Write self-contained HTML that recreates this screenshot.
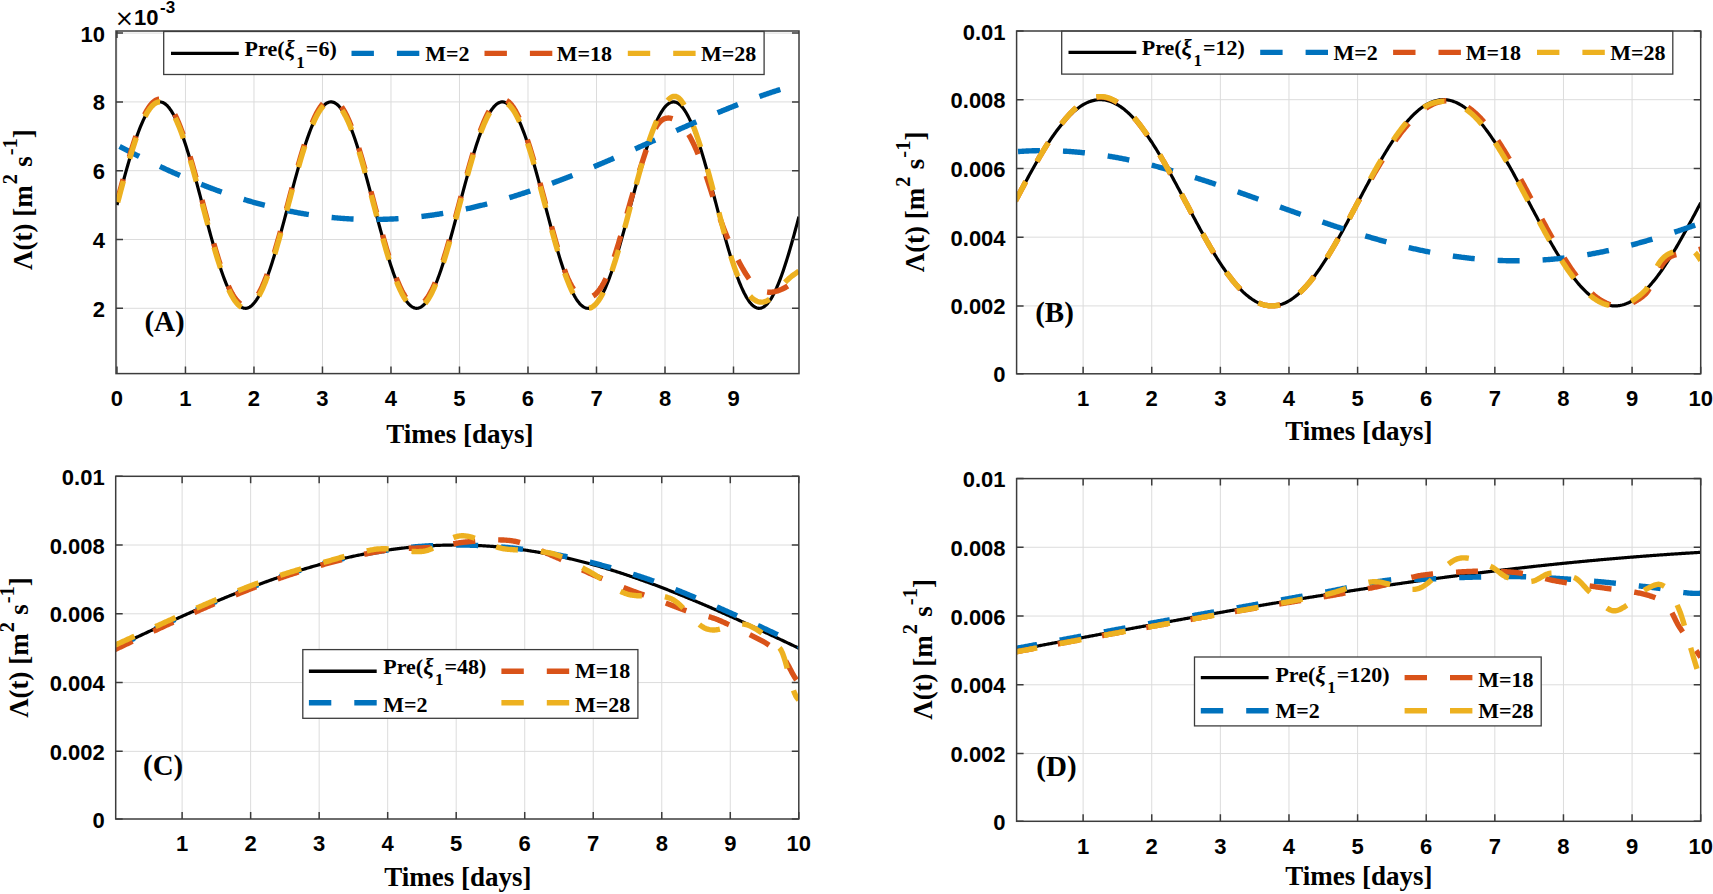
<!DOCTYPE html>
<html><head><meta charset="utf-8"><title>figure</title><style>
html,body{margin:0;padding:0;background:#fff;width:1713px;height:894px;overflow:hidden;}
svg{display:block;filter:none;}
.tk{font-family:"Liberation Sans",Arial,sans-serif;font-weight:bold;font-size:22px;fill:#000;}
.tim{font-family:"DejaVu Sans",sans-serif;font-weight:normal;font-size:23px;}
.sup2{font-size:17px;}
.lg{font-family:"Liberation Serif","Times New Roman",serif;font-weight:bold;font-size:22px;fill:#000;}
.xi{font-style:italic;font-weight:bold;font-size:23px;}
.sub{font-size:17px;}
.lb{font-family:"Liberation Serif","Times New Roman",serif;font-weight:bold;font-size:27px;fill:#000;}
.sup{font-size:20.5px;}
.pl{font-family:"Liberation Serif","Times New Roman",serif;font-weight:bold;font-size:29px;fill:#000;}
</style></head><body>
<svg width="1713" height="894" viewBox="0 0 1713 894">
<defs>
<clipPath id="clipA"><rect x="116.0" y="31.0" width="683.0" height="342.6"/></clipPath>
<clipPath id="clipB"><rect x="1016.6" y="31.0" width="684.1" height="342.8"/></clipPath>
<clipPath id="clipC"><rect x="115.7" y="476.3" width="683.0999999999999" height="342.7"/></clipPath>
<clipPath id="clipD"><rect x="1016.6" y="478.6" width="684.1" height="342.69999999999993"/></clipPath>
</defs>
<rect width="1713" height="894" fill="#fff"/>
<path d="M116.96 31.0V373.6M185.46 31.0V373.6M253.97 31.0V373.6M322.47 31.0V373.6M390.98 31.0V373.6M459.48 31.0V373.6M527.99 31.0V373.6M596.50 31.0V373.6M665.00 31.0V373.6M733.50 31.0V373.6M116.0 308.30H799.0M116.0 239.50H799.0M116.0 170.70H799.0M116.0 101.90H799.0M116.0 33.10H799.0" stroke="#dcdcdc" stroke-width="1" fill="none"/>
<polyline points="116.96,205.10 117.94,201.41 118.91,197.72 119.89,194.04 120.86,190.37 121.84,186.73 122.81,183.11 123.79,179.51 124.77,175.95 125.74,172.43 126.72,168.94 127.69,165.51 128.67,162.12 129.64,158.79 130.62,155.52 131.59,152.32 132.57,149.18 133.55,146.11 134.52,143.12 135.50,140.20 136.47,137.37 137.45,134.63 138.42,131.98 139.40,129.42 140.38,126.96 141.35,124.59 142.33,122.33 143.30,120.18 144.28,118.14 145.25,116.20 146.23,114.39 147.20,112.68 148.18,111.10 149.16,109.63 150.13,108.29 151.11,107.07 152.08,105.98 153.06,105.02 154.03,104.18 155.01,103.47 155.99,102.90 156.96,102.45 157.94,102.13 158.91,101.95 159.89,101.90 160.86,101.98 161.84,102.20 162.81,102.54 163.79,103.02 164.77,103.62 165.74,104.36 166.72,105.23 167.69,106.22 168.67,107.34 169.64,108.59 170.62,109.96 171.60,111.45 172.57,113.06 173.55,114.79 174.52,116.64 175.50,118.60 176.47,120.67 177.45,122.84 178.42,125.13 179.40,127.51 180.38,130.00 181.35,132.58 182.33,135.25 183.30,138.02 184.28,140.87 185.25,143.80 186.23,146.81 187.21,149.89 188.18,153.05 189.16,156.27 190.13,159.55 191.11,162.90 192.08,166.30 193.06,169.74 194.03,173.23 195.01,176.77 195.99,180.34 196.96,183.94 197.94,187.57 198.91,191.22 199.89,194.88 200.86,198.57 201.84,202.26 202.82,205.95 203.79,209.64 204.77,213.33 205.74,217.00 206.72,220.67 207.69,224.31 208.67,227.92 209.65,231.51 210.62,235.06 211.60,238.58 212.57,242.05 213.55,245.47 214.52,248.85 215.50,252.16 216.47,255.42 217.45,258.61 218.43,261.74 219.40,264.79 220.38,267.76 221.35,270.66 222.33,273.47 223.30,276.19 224.28,278.82 225.26,281.36 226.23,283.80 227.21,286.14 228.18,288.37 229.16,290.50 230.13,292.52 231.11,294.42 232.08,296.22 233.06,297.89 234.04,299.45 235.01,300.89 235.99,302.20 236.96,303.39 237.94,304.45 238.91,305.39 239.89,306.19 240.87,306.87 241.84,307.42 242.82,307.83 243.79,308.12 244.77,308.27 245.74,308.29 246.72,308.18 247.69,307.94 248.67,307.56 249.65,307.05 250.62,306.42 251.60,305.65 252.57,304.75 253.55,303.73 254.52,302.58 255.50,301.31 256.48,299.91 257.45,298.39 258.43,296.75 259.40,294.99 260.38,293.12 261.35,291.14 262.33,289.04 263.30,286.84 264.28,284.53 265.26,282.12 266.23,279.62 267.21,277.01 268.18,274.32 269.16,271.54 270.13,268.67 271.11,265.72 272.09,262.69 273.06,259.59 274.04,256.42 275.01,253.18 275.99,249.88 276.96,246.53 277.94,243.12 278.92,239.66 279.89,236.16 280.87,232.61 281.84,229.04 282.82,225.43 283.79,221.80 284.77,218.14 285.74,214.47 286.72,210.79 287.70,207.09 288.67,203.40 289.65,199.71 290.62,196.02 291.60,192.35 292.57,188.69 293.55,185.06 294.53,181.45 295.50,177.87 296.48,174.32 297.45,170.82 298.43,167.36 299.40,163.94 300.38,160.58 301.35,157.28 302.33,154.04 303.31,150.86 304.28,147.76 305.26,144.72 306.23,141.77 307.21,138.89 308.18,136.10 309.16,133.40 310.14,130.79 311.11,128.27 312.09,125.86 313.06,123.54 314.04,121.33 315.01,119.23 315.99,117.23 316.96,115.35 317.94,113.59 318.92,111.94 319.89,110.41 320.87,109.00 321.84,107.72 322.82,106.56 323.79,105.52 324.77,104.62 325.75,103.84 326.72,103.19 327.70,102.67 328.67,102.29 329.65,102.03 330.62,101.91 331.60,101.92 332.57,102.06 333.55,102.34 334.53,102.74 335.50,103.28 336.48,103.95 337.45,104.74 338.43,105.67 339.40,106.72 340.38,107.90 341.36,109.21 342.33,110.63 343.31,112.18 344.28,113.84 345.26,115.63 346.23,117.53 347.21,119.54 348.18,121.66 349.16,123.88 350.14,126.21 351.11,128.64 352.09,131.17 353.06,133.80 354.04,136.51 355.01,139.32 355.99,142.20 356.97,145.17 357.94,148.22 358.92,151.34 359.89,154.52 360.87,157.77 361.84,161.09 362.82,164.45 363.80,167.87 364.77,171.34 365.75,174.85 366.72,178.41 367.70,181.99 368.67,185.60 369.65,189.24 370.62,192.90 371.60,196.58 372.58,200.26 373.55,203.96 374.53,207.65 375.50,211.34 376.48,215.02 377.45,218.69 378.43,222.34 379.41,225.97 380.38,229.58 381.36,233.15 382.33,236.69 383.31,240.18 384.28,243.63 385.26,247.03 386.23,250.38 387.21,253.67 388.19,256.90 389.16,260.06 390.14,263.15 391.11,266.17 392.09,269.10 393.06,271.96 394.04,274.73 395.02,277.41 395.99,280.00 396.97,282.49 397.94,284.89 398.92,287.18 399.89,289.36 400.87,291.44 401.84,293.41 402.82,295.26 403.80,297.00 404.77,298.62 405.75,300.13 406.72,301.50 407.70,302.76 408.67,303.89 409.65,304.90 410.63,305.77 411.60,306.52 412.58,307.14 413.55,307.63 414.53,307.98 415.50,308.21 416.48,308.30 417.45,308.26 418.43,308.08 419.41,307.78 420.38,307.34 421.36,306.78 422.33,306.08 423.31,305.25 424.28,304.30 425.26,303.22 426.24,302.01 427.21,300.68 428.19,299.22 429.16,297.65 430.14,295.96 431.11,294.15 432.09,292.22 433.07,290.19 434.04,288.04 435.02,285.79 435.99,283.44 436.97,280.98 437.94,278.43 438.92,275.79 439.89,273.05 440.87,270.23 441.85,267.32 442.82,264.33 443.80,261.27 444.77,258.14 445.75,254.94 446.72,251.67 447.70,248.34 448.68,244.96 449.65,241.53 450.63,238.05 451.60,234.53 452.58,230.97 453.55,227.38 454.53,223.76 455.50,220.12 456.48,216.45 457.46,212.78 458.43,209.09 459.41,205.39 460.38,201.70 461.36,198.01 462.33,194.33 463.31,190.67 464.29,187.02 465.26,183.39 466.24,179.80 467.21,176.23 468.19,172.71 469.16,169.22 470.14,165.78 471.11,162.39 472.09,159.06 473.07,155.78 474.04,152.57 475.02,149.42 475.99,146.35 476.97,143.35 477.94,140.43 478.92,137.60 479.90,134.85 480.87,132.18 481.85,129.62 482.82,127.15 483.80,124.78 484.77,122.51 485.75,120.35 486.72,118.30 487.70,116.35 488.68,114.53 489.65,112.81 490.63,111.22 491.60,109.75 492.58,108.40 493.55,107.17 494.53,106.07 495.51,105.09 496.48,104.24 497.46,103.53 498.43,102.94 499.41,102.48 500.38,102.16 501.36,101.96 502.33,101.90 503.31,101.97 504.29,102.17 505.26,102.51 506.24,102.97 507.21,103.57 508.19,104.30 509.16,105.15 510.14,106.14 511.12,107.25 512.09,108.49 513.07,109.85 514.04,111.33 515.02,112.93 515.99,114.65 516.97,116.49 517.95,118.44 518.92,120.50 519.90,122.67 520.87,124.94 521.85,127.32 522.82,129.80 523.80,132.37 524.77,135.04 525.75,137.79 526.73,140.63 527.70,143.56 528.68,146.56 529.65,149.64 530.63,152.79 531.60,156.01 532.58,159.29 533.56,162.63 534.53,166.02 535.51,169.46 536.48,172.95 537.46,176.48 538.43,180.05 539.41,183.65 540.38,187.28 541.36,190.92 542.34,194.59 543.31,198.27 544.29,201.96 545.26,205.65 546.24,209.35 547.21,213.03 548.19,216.71 549.17,220.37 550.14,224.02 551.12,227.64 552.09,231.22 553.07,234.78 554.04,238.30 555.02,241.77 555.99,245.20 556.97,248.58 557.95,251.90 558.92,255.16 559.90,258.36 560.87,261.49 561.85,264.55 562.82,267.53 563.80,270.43 564.78,273.25 565.75,275.97 566.73,278.61 567.70,281.16 568.68,283.61 569.65,285.95 570.63,288.20 571.60,290.33 572.58,292.36 573.56,294.28 574.53,296.08 575.51,297.76 576.48,299.33 577.46,300.78 578.43,302.10 579.41,303.30 580.39,304.37 581.36,305.32 582.34,306.13 583.31,306.82 584.29,307.38 585.26,307.81 586.24,308.10 587.21,308.26 588.19,308.30 589.17,308.19 590.14,307.96 591.12,307.60 592.09,307.10 593.07,306.47 594.04,305.72 595.02,304.83 596.00,303.82 596.97,302.68 597.95,301.41 598.92,300.02 599.90,298.51 600.87,296.88 601.85,295.14 602.83,293.27 603.80,291.30 604.78,289.21 605.75,287.02 606.73,284.72 607.70,282.32 608.68,279.82 609.65,277.23 610.63,274.54 611.61,271.76 612.58,268.90 613.56,265.96 614.53,262.93 615.51,259.84 616.48,256.67 617.46,253.44 618.44,250.15 619.41,246.80 620.39,243.39 621.36,239.94 622.34,236.44 623.31,232.90 624.29,229.32 625.26,225.72 626.24,222.09 627.22,218.43 628.19,214.76 629.17,211.08 630.14,207.39 631.12,203.70 632.09,200.00 633.07,196.32 634.05,192.64 635.02,188.99 636.00,185.35 636.97,181.74 637.95,178.15 638.92,174.61 639.90,171.10 640.87,167.63 641.85,164.22 642.83,160.85 643.80,157.54 644.78,154.30 645.75,151.11 646.73,148.00 647.70,144.96 648.68,142.00 649.66,139.12 650.63,136.32 651.61,133.61 652.58,130.99 653.56,128.47 654.53,126.05 655.51,123.72 656.48,121.50 657.46,119.39 658.44,117.39 659.41,115.50 660.39,113.72 661.36,112.07 662.34,110.53 663.31,109.11 664.29,107.81 665.27,106.64 666.24,105.60 667.22,104.68 668.19,103.90 669.17,103.24 670.14,102.71 671.12,102.31 672.10,102.05 673.07,101.92 674.05,101.92 675.02,102.05 676.00,102.31 676.97,102.71 677.95,103.23 678.92,103.89 679.90,104.68 680.88,105.59 681.85,106.63 682.83,107.80 683.80,109.10 684.78,110.51 685.75,112.05 686.73,113.71 687.71,115.48 688.68,117.37 689.66,119.37 690.63,121.48 691.61,123.70 692.58,126.02 693.56,128.45 694.53,130.97 695.51,133.58 696.49,136.29 697.46,139.09 698.44,141.97 699.41,144.93 700.39,147.97 701.36,151.08 702.34,154.27 703.32,157.51 704.29,160.82 705.27,164.18 706.24,167.60 707.22,171.06 708.19,174.57 709.17,178.12 710.14,181.70 711.12,185.31 712.10,188.95 713.07,192.61 714.05,196.28 715.02,199.97 716.00,203.66 716.97,207.35 717.95,211.04 718.93,214.73 719.90,218.40 720.88,222.05 721.85,225.68 722.83,229.29 723.80,232.87 724.78,236.40 725.75,239.90 726.73,243.36 727.71,246.76 728.68,250.12 729.66,253.41 730.63,256.64 731.61,259.81 732.58,262.91 733.56,265.93 734.54,268.87 735.51,271.73 736.49,274.51 737.46,277.20 738.44,279.80 739.41,282.30 740.39,284.70 741.36,287.00 742.34,289.19 743.32,291.28 744.29,293.26 745.27,295.12 746.24,296.87 747.22,298.50 748.19,300.01 749.17,301.40 750.15,302.67 751.12,303.81 752.10,304.82 753.07,305.71 754.05,306.47 755.02,307.09 756.00,307.59 756.98,307.96 757.95,308.19 758.93,308.30 759.90,308.27 760.88,308.10 761.85,307.81 762.83,307.38 763.80,306.83 764.78,306.14 765.76,305.32 766.73,304.38 767.71,303.31 768.68,302.11 769.66,300.79 770.63,299.34 771.61,297.78 772.59,296.09 773.56,294.29 774.54,292.38 775.51,290.35 776.49,288.22 777.46,285.97 778.44,283.63 779.41,281.18 780.39,278.64 781.37,276.00 782.34,273.27 783.32,270.46 784.29,267.56 785.27,264.58 786.24,261.52 787.22,258.39 788.20,255.19 789.17,251.93 790.15,248.61 791.12,245.24 792.10,241.81 793.07,238.33 794.05,234.81 795.02,231.26 796.00,227.67 796.98,224.05 797.95,220.41 798.93,216.75" fill="none" stroke="#000" stroke-width="3.2" stroke-linejoin="round" clip-path="url(#clipA)"/>
<polyline points="116.96,145.05 117.94,145.57 118.91,146.08 119.89,146.58 120.86,147.09 121.84,147.60 122.81,148.10 123.79,148.61 124.77,149.11 125.74,149.62 126.72,150.12 127.69,150.62 128.67,151.12 129.64,151.61 130.62,152.11 131.59,152.61 132.57,153.10 133.55,153.59 134.52,154.09 135.50,154.58 136.47,155.07 137.45,155.56 138.42,156.04 139.40,156.53 140.38,157.01 141.35,157.50 142.33,157.98 143.30,158.46 144.28,158.94 145.25,159.42 146.23,159.90 147.20,160.37 148.18,160.85 149.16,161.32 150.13,161.79 151.11,162.26 152.08,162.73 153.06,163.20 154.03,163.66 155.01,164.13 155.99,164.59 156.96,165.05 157.94,165.51 158.91,165.97 159.89,166.43 160.86,166.89 161.84,167.34 162.81,167.79 163.79,168.24 164.77,168.69 165.74,169.14 166.72,169.59 167.69,170.03 168.67,170.48 169.64,170.92 170.62,171.36 171.60,171.80 172.57,172.24 173.55,172.67 174.52,173.11 175.50,173.54 176.47,173.97 177.45,174.40 178.42,174.83 179.40,175.26 180.38,175.68 181.35,176.10 182.33,176.53 183.30,176.95 184.28,177.36 185.25,177.78 186.23,178.19 187.21,178.61 188.18,179.02 189.16,179.43 190.13,179.84 191.11,180.24 192.08,180.65 193.06,181.05 194.03,181.45 195.01,181.85 195.99,182.24 196.96,182.64 197.94,183.03 198.91,183.43 199.89,183.82 200.86,184.20 201.84,184.59 202.82,184.97 203.79,185.36 204.77,185.74 205.74,186.12 206.72,186.49 207.69,186.87 208.67,187.24 209.65,187.61 210.62,187.98 211.60,188.35 212.57,188.72 213.55,189.08 214.52,189.44 215.50,189.80 216.47,190.16 217.45,190.52 218.43,190.87 219.40,191.22 220.38,191.57 221.35,191.92 222.33,192.27 223.30,192.61 224.28,192.96 225.26,193.30 226.23,193.64 227.21,193.97 228.18,194.31 229.16,194.64 230.13,194.97 231.11,195.30 232.08,195.62 233.06,195.95 234.04,196.27 235.01,196.59 235.99,196.91 236.96,197.23 237.94,197.54 238.91,197.85 239.89,198.16 240.87,198.47 241.84,198.78 242.82,199.08 243.79,199.38 244.77,199.68 245.74,199.98 246.72,200.27 247.69,200.57 248.67,200.86 249.65,201.15 250.62,201.43 251.60,201.72 252.57,202.00 253.55,202.28 254.52,202.56 255.50,202.84 256.48,203.11 257.45,203.38 258.43,203.65 259.40,203.92 260.38,204.19 261.35,204.45 262.33,204.71 263.30,204.97 264.28,205.23 265.26,205.48 266.23,205.73 267.21,205.98 268.18,206.23 269.16,206.48 270.13,206.72 271.11,206.96 272.09,207.20 273.06,207.44 274.04,207.67 275.01,207.90 275.99,208.13 276.96,208.36 277.94,208.59 278.92,208.81 279.89,209.03 280.87,209.25 281.84,209.47 282.82,209.68 283.79,209.89 284.77,210.10 285.74,210.31 286.72,210.52 287.70,210.72 288.67,210.92 289.65,211.12 290.62,211.31 291.60,211.51 292.57,211.70 293.55,211.89 294.53,212.08 295.50,212.26 296.48,212.44 297.45,212.62 298.43,212.80 299.40,212.98 300.38,213.15 301.35,213.32 302.33,213.49 303.31,213.66 304.28,213.82 305.26,213.98 306.23,214.14 307.21,214.30 308.18,214.45 309.16,214.61 310.14,214.76 311.11,214.90 312.09,215.05 313.06,215.19 314.04,215.33 315.01,215.47 315.99,215.61 316.96,215.74 317.94,215.87 318.92,216.00 319.89,216.13 320.87,216.25 321.84,216.37 322.82,216.49 323.79,216.61 324.77,216.73 325.75,216.84 326.72,216.95 327.70,217.06 328.67,217.16 329.65,217.27 330.62,217.37 331.60,217.47 332.57,217.56 333.55,217.66 334.53,217.75 335.50,217.84 336.48,217.92 337.45,218.01 338.43,218.09 339.40,218.17 340.38,218.25 341.36,218.32 342.33,218.39 343.31,218.46 344.28,218.53 345.26,218.60 346.23,218.66 347.21,218.72 348.18,218.78 349.16,218.84 350.14,218.89 351.11,218.94 352.09,218.99 353.06,219.04 354.04,219.08 355.01,219.12 355.99,219.16 356.97,219.20 357.94,219.23 358.92,219.27 359.89,219.30 360.87,219.32 361.84,219.35 362.82,219.37 363.80,219.39 364.77,219.41 365.75,219.43 366.72,219.44 367.70,219.45 368.67,219.46 369.65,219.47 370.62,219.47 371.60,219.47 372.58,219.47 373.55,219.47 374.53,219.47 375.50,219.46 376.48,219.45 377.45,219.44 378.43,219.42 379.41,219.41 380.38,219.39 381.36,219.37 382.33,219.34 383.31,219.32 384.28,219.29 385.26,219.26 386.23,219.22 387.21,219.19 388.19,219.15 389.16,219.11 390.14,219.07 391.11,219.02 392.09,218.98 393.06,218.93 394.04,218.88 395.02,218.82 395.99,218.77 396.97,218.71 397.94,218.65 398.92,218.59 399.89,218.52 400.87,218.45 401.84,218.38 402.82,218.31 403.80,218.24 404.77,218.16 405.75,218.08 406.72,218.00 407.70,217.92 408.67,217.83 409.65,217.74 410.63,217.65 411.60,217.56 412.58,217.47 413.55,217.37 414.53,217.27 415.50,217.17 416.48,217.06 417.45,216.96 418.43,216.85 419.41,216.74 420.38,216.63 421.36,216.51 422.33,216.40 423.31,216.28 424.28,216.15 425.26,216.03 426.24,215.91 427.21,215.78 428.19,215.65 429.16,215.51 430.14,215.38 431.11,215.24 432.09,215.10 433.07,214.96 434.04,214.82 435.02,214.67 435.99,214.53 436.97,214.38 437.94,214.23 438.92,214.07 439.89,213.92 440.87,213.76 441.85,213.60 442.82,213.43 443.80,213.27 444.77,213.10 445.75,212.93 446.72,212.76 447.70,212.59 448.68,212.41 449.65,212.24 450.63,212.06 451.60,211.88 452.58,211.69 453.55,211.51 454.53,211.32 455.50,211.13 456.48,210.94 457.46,210.74 458.43,210.55 459.41,210.35 460.38,210.15 461.36,209.95 462.33,209.74 463.31,209.54 464.29,209.33 465.26,209.12 466.24,208.91 467.21,208.69 468.19,208.48 469.16,208.26 470.14,208.04 471.11,207.82 472.09,207.60 473.07,207.37 474.04,207.14 475.02,206.91 475.99,206.68 476.97,206.45 477.94,206.21 478.92,205.97 479.90,205.73 480.87,205.49 481.85,205.25 482.82,205.00 483.80,204.76 484.77,204.51 485.75,204.26 486.72,204.01 487.70,203.75 488.68,203.49 489.65,203.24 490.63,202.98 491.60,202.71 492.58,202.45 493.55,202.19 494.53,201.92 495.51,201.65 496.48,201.38 497.46,201.11 498.43,200.83 499.41,200.56 500.38,200.28 501.36,200.00 502.33,199.72 503.31,199.43 504.29,199.15 505.26,198.86 506.24,198.57 507.21,198.28 508.19,197.99 509.16,197.70 510.14,197.40 511.12,197.10 512.09,196.81 513.07,196.51 514.04,196.20 515.02,195.90 515.99,195.59 516.97,195.29 517.95,194.98 518.92,194.67 519.90,194.36 520.87,194.04 521.85,193.73 522.82,193.41 523.80,193.09 524.77,192.78 525.75,192.45 526.73,192.13 527.70,191.81 528.68,191.48 529.65,191.15 530.63,190.82 531.60,190.49 532.58,190.16 533.56,189.83 534.53,189.49 535.51,189.16 536.48,188.82 537.46,188.48 538.43,188.14 539.41,187.80 540.38,187.45 541.36,187.11 542.34,186.76 543.31,186.41 544.29,186.07 545.26,185.72 546.24,185.36 547.21,185.01 548.19,184.66 549.17,184.30 550.14,183.94 551.12,183.58 552.09,183.22 553.07,182.86 554.04,182.50 555.02,182.14 555.99,181.77 556.97,181.40 557.95,181.04 558.92,180.67 559.90,180.30 560.87,179.93 561.85,179.55 562.82,179.18 563.80,178.80 564.78,178.43 565.75,178.05 566.73,177.67 567.70,177.29 568.68,176.91 569.65,176.53 570.63,176.15 571.60,175.76 572.58,175.38 573.56,174.99 574.53,174.60 575.51,174.22 576.48,173.83 577.46,173.44 578.43,173.04 579.41,172.65 580.39,172.26 581.36,171.86 582.34,171.47 583.31,171.07 584.29,170.67 585.26,170.27 586.24,169.88 587.21,169.47 588.19,169.07 589.17,168.67 590.14,168.27 591.12,167.86 592.09,167.46 593.07,167.05 594.04,166.65 595.02,166.24 596.00,165.83 596.97,165.42 597.95,165.01 598.92,164.60 599.90,164.19 600.87,163.78 601.85,163.36 602.83,162.95 603.80,162.54 604.78,162.12 605.75,161.71 606.73,161.29 607.70,160.87 608.68,160.45 609.65,160.03 610.63,159.62 611.61,159.20 612.58,158.77 613.56,158.35 614.53,157.93 615.51,157.51 616.48,157.09 617.46,156.66 618.44,156.24 619.41,155.81 620.39,155.39 621.36,154.96 622.34,154.54 623.31,154.11 624.29,153.68 625.26,153.26 626.24,152.83 627.22,152.40 628.19,151.97 629.17,151.54 630.14,151.11 631.12,150.68 632.09,150.25 633.07,149.82 634.05,149.39 635.02,148.96 636.00,148.53 636.97,148.09 637.95,147.66 638.92,147.23 639.90,146.80 640.87,146.36 641.85,145.93 642.83,145.50 643.80,145.06 644.78,144.63 645.75,144.20 646.73,143.76 647.70,143.33 648.68,142.89 649.66,142.46 650.63,142.02 651.61,141.59 652.58,141.15 653.56,140.72 654.53,140.28 655.51,139.85 656.48,139.41 657.46,138.98 658.44,138.54 659.41,138.11 660.39,137.67 661.36,137.24 662.34,136.80 663.31,136.37 664.29,135.93 665.27,135.50 666.24,135.06 667.22,134.63 668.19,134.20 669.17,133.76 670.14,133.33 671.12,132.89 672.10,132.46 673.07,132.03 674.05,131.59 675.02,131.16 676.00,130.73 676.97,130.30 677.95,129.86 678.92,129.43 679.90,129.00 680.88,128.57 681.85,128.14 682.83,127.71 683.80,127.28 684.78,126.85 685.75,126.42 686.73,125.99 687.71,125.57 688.68,125.14 689.66,124.71 690.63,124.29 691.61,123.86 692.58,123.43 693.56,123.01 694.53,122.59 695.51,122.16 696.49,121.74 697.46,121.32 698.44,120.89 699.41,120.47 700.39,120.05 701.36,119.63 702.34,119.21 703.32,118.80 704.29,118.38 705.27,117.96 706.24,117.54 707.22,117.13 708.19,116.71 709.17,116.30 710.14,115.89 711.12,115.48 712.10,115.06 713.07,114.65 714.05,114.25 715.02,113.84 716.00,113.43 716.97,113.02 717.95,112.62 718.93,112.21 719.90,111.81 720.88,111.41 721.85,111.00 722.83,110.60 723.80,110.20 724.78,109.81 725.75,109.41 726.73,109.01 727.71,108.62 728.68,108.22 729.66,107.83 730.63,107.44 731.61,107.05 732.58,106.66 733.56,106.27 734.54,105.89 735.51,105.50 736.49,105.12 737.46,104.73 738.44,104.35 739.41,103.97 740.39,103.59 741.36,103.22 742.34,102.84 743.32,102.47 744.29,102.09 745.27,101.72 746.24,101.35 747.22,100.98 748.19,100.62 749.17,100.25 750.15,99.89 751.12,99.53 752.10,99.16 753.07,98.81 754.05,98.45 755.02,98.09 756.00,97.74 756.98,97.39 757.95,97.03 758.93,96.69 759.90,96.34 760.88,95.99 761.85,95.65 762.83,95.31 763.80,94.97 764.78,94.63 765.76,94.29 766.73,93.96 767.71,93.62 768.68,93.29 769.66,92.96 770.63,92.64 771.61,92.31 772.59,91.99 773.56,91.67 774.54,91.35 775.51,91.03 776.49,90.72 777.46,90.40 778.44,90.09 779.41,89.78 780.39,89.48 781.37,89.17 782.34,88.87 783.32,88.57 784.29,88.27 785.27,87.98 786.24,87.68 787.22,87.39 788.20,87.10 789.17,86.82 790.15,86.53 791.12,86.25 792.10,85.97 793.07,85.70 794.05,85.42 795.02,85.15 796.00,84.88 796.98,84.61 797.95,84.35 798.93,84.09" fill="none" stroke="#0072BD" stroke-width="5.4" stroke-linejoin="round" stroke-dasharray="22 23" stroke-dashoffset="-3" clip-path="url(#clipA)"/>
<polyline points="116.96,202.35 117.94,198.65 118.91,194.97 119.89,191.29 120.86,187.62 121.84,183.98 122.81,180.35 123.79,176.76 124.77,173.20 125.74,169.68 126.72,166.19 127.69,162.76 128.67,159.37 129.64,156.04 130.62,152.77 131.59,149.56 132.57,146.42 133.55,143.36 134.52,140.36 135.50,137.45 136.47,134.62 137.45,131.88 138.42,129.22 139.40,126.67 140.38,124.20 141.35,121.84 142.33,119.58 143.30,117.43 144.28,115.38 145.25,113.45 146.23,111.63 147.20,109.93 148.18,108.35 149.16,106.88 150.13,105.54 151.11,104.32 152.08,103.23 153.06,102.27 154.03,101.43 155.01,100.72 155.99,100.14 156.96,99.70 157.94,99.38 158.91,99.20 159.89,99.15 160.86,99.23 161.84,99.44 162.81,99.79 163.79,100.27 164.77,100.87 165.74,101.61 166.72,102.48 167.69,103.47 168.67,104.59 169.64,105.84 170.62,107.21 171.60,108.70 172.57,110.31 173.55,112.04 174.52,113.89 175.50,115.85 176.47,117.91 177.45,120.09 178.42,122.38 179.40,124.76 180.38,127.25 181.35,129.83 182.33,132.50 183.30,135.26 184.28,138.11 185.25,141.04 186.23,144.06 187.21,147.14 188.18,150.30 189.16,153.52 190.13,156.80 191.11,160.15 192.08,163.54 193.06,166.99 194.03,170.48 195.01,174.02 195.99,177.58 196.96,181.19 197.94,184.81 198.91,188.46 199.89,192.13 200.86,195.81 201.84,199.50 202.82,203.20 203.79,206.89 204.77,210.58 205.74,214.25 206.72,217.91 207.69,221.55 208.67,225.17 209.65,228.76 210.62,232.31 211.60,235.83 212.57,239.30 213.55,242.72 214.52,246.10 215.50,249.41 216.47,252.67 217.45,255.86 218.43,258.98 219.40,262.04 220.38,265.01 221.35,267.90 222.33,270.71 223.30,273.44 224.28,276.07 225.26,278.61 226.23,281.05 227.21,283.38 228.18,285.62 229.16,287.75 230.13,289.77 231.11,291.67 232.08,293.46 233.06,295.14 234.04,296.70 235.01,298.13 235.99,299.45 236.96,300.64 237.94,301.70 238.91,302.63 239.89,303.44 240.87,304.12 241.84,304.67 242.82,305.08 243.79,305.37 244.77,305.52 245.74,305.54 246.72,305.43 247.69,305.18 248.67,304.81 249.65,304.30 250.62,303.67 251.60,302.90 252.57,302.00 253.55,300.98 254.52,299.83 255.50,298.55 256.48,297.16 257.45,295.64 258.43,294.00 259.40,292.24 260.38,290.37 261.35,288.38 262.33,286.29 263.30,284.09 264.28,281.78 265.26,279.37 266.23,276.87 267.21,274.26 268.18,271.57 269.16,268.78 270.13,265.92 271.11,262.97 272.09,259.94 273.06,256.84 274.04,253.66 275.01,250.43 275.99,247.13 276.96,243.77 277.94,240.36 278.92,236.91 279.89,233.40 280.87,229.86 281.84,226.29 282.82,222.68 283.79,219.04 284.77,215.39 285.74,211.72 286.72,208.03 287.70,204.34 288.67,200.65 289.65,196.96 290.62,193.27 291.60,189.60 292.57,185.94 293.55,182.31 294.53,178.70 295.50,175.12 296.48,171.57 297.45,168.07 298.43,164.61 299.40,161.19 300.38,157.83 301.35,154.53 302.33,151.29 303.31,148.11 304.28,145.00 305.26,141.97 306.23,139.01 307.21,136.14 308.18,133.35 309.16,130.65 310.14,128.04 311.11,125.52 312.09,123.10 313.06,120.79 314.04,118.58 315.01,116.47 315.99,114.48 316.96,112.60 317.94,110.84 318.92,109.19 319.89,107.66 320.87,106.25 321.84,104.96 322.82,103.80 323.79,102.77 324.77,101.86 325.75,101.09 326.72,100.44 327.70,99.92 328.67,99.54 329.65,99.28 330.62,99.16 331.60,99.17 332.57,99.31 333.55,99.59 334.53,99.99 335.50,100.53 336.48,101.20 337.45,101.99 338.43,102.92 339.40,103.97 340.38,105.15 341.36,106.45 342.33,107.88 343.31,109.43 344.28,111.09 345.26,112.88 346.23,114.77 347.21,116.78 348.18,118.90 349.16,121.13 350.14,123.46 351.11,125.89 352.09,128.42 353.06,131.05 354.04,133.76 355.01,136.56 355.99,139.45 356.97,142.42 357.94,145.47 358.92,148.58 359.89,151.77 360.87,155.02 361.84,158.33 362.82,161.70 363.80,165.12 364.77,168.59 365.75,172.10 366.72,175.65 367.70,179.24 368.67,182.85 369.65,186.49 370.62,190.15 371.60,193.83 372.58,197.51 373.55,201.20 374.53,204.90 375.50,208.59 376.48,212.27 377.45,215.94 378.43,219.59 379.41,223.22 380.38,226.82 381.36,230.40 382.33,233.93 383.31,237.43 384.28,240.88 385.26,244.28 386.23,247.63 387.21,250.92 388.19,254.15 389.16,257.31 390.14,260.40 391.11,263.41 392.09,266.35 393.06,269.21 394.04,271.98 395.02,274.66 395.99,277.25 396.97,279.74 397.94,282.13 398.92,284.43 399.89,286.61 400.87,288.69 401.84,290.66 402.82,292.51 403.80,294.25 404.77,295.87 405.75,297.37 406.72,298.75 407.70,300.01 408.67,301.14 409.65,302.14 410.63,303.02 411.60,303.77 412.58,304.39 413.55,304.87 414.53,305.23 415.50,305.45 416.48,305.55 417.45,305.51 418.43,305.33 419.41,305.03 420.38,304.59 421.36,304.03 422.33,303.33 423.31,302.50 424.28,301.55 425.26,300.46 426.24,299.26 427.21,297.93 428.19,296.47 429.16,294.90 430.14,293.20 431.11,291.39 432.09,289.47 433.07,287.43 434.04,285.29 435.02,283.04 435.99,280.69 436.97,278.23 437.94,275.68 438.92,273.03 439.89,270.30 440.87,267.47 441.85,264.57 442.82,261.58 443.80,258.52 444.77,255.39 445.75,252.18 446.72,248.92 447.70,245.59 448.68,242.21 449.65,238.78 450.63,235.30 451.60,231.78 452.58,228.22 453.55,224.63 454.53,221.01 455.50,217.37 456.48,213.70 457.46,210.02 458.43,206.34 459.41,202.64 460.38,198.95 461.36,195.26 462.33,191.58 463.31,187.91 464.29,184.27 465.26,180.64 466.24,177.05 467.21,173.48 468.19,169.95 469.16,166.47 470.14,163.03 471.11,159.64 472.09,156.31 473.07,153.03 474.04,149.82 475.02,146.67 475.99,143.60 476.97,140.60 477.94,137.68 478.92,134.84 479.90,132.09 480.87,129.43 481.85,126.87 482.82,124.40 483.80,122.03 484.77,119.76 485.75,117.60 486.72,115.54 487.70,113.60 488.68,111.77 489.65,110.06 490.63,108.47 491.60,106.99 492.58,105.64 493.55,104.42 494.53,103.31 495.51,102.34 496.48,101.49 497.46,100.77 498.43,100.19 499.41,99.73 500.38,99.40 501.36,99.21 502.33,99.15 503.31,99.22 504.29,99.42 505.26,99.76 506.24,100.22 507.21,100.82 508.19,101.55 509.16,102.40 510.14,103.39 511.12,104.50 512.09,105.73 513.07,107.09 514.04,108.58 515.02,110.18 515.99,111.90 516.97,113.74 517.95,115.68 518.92,117.75 519.90,119.91 520.87,122.19 521.85,124.57 522.82,127.04 523.80,129.62 524.77,132.28 525.75,135.04 526.73,137.88 527.70,140.81 528.68,143.81 529.65,146.89 530.63,150.04 531.60,153.26 532.58,156.54 533.56,159.88 534.53,163.27 535.51,166.71 536.48,170.20 537.46,173.73 538.43,177.30 539.41,180.90 540.38,184.52 541.36,188.17 542.34,191.84 543.31,195.52 544.29,199.21 545.26,202.90 546.24,206.60 547.21,210.28 548.19,213.96 549.17,217.62 550.14,221.26 551.12,224.88 552.09,228.47 553.07,232.03 554.04,235.55 555.02,239.02 555.99,242.45 556.97,245.83 557.95,249.15 558.92,252.41 559.90,255.61 560.87,258.74 561.85,261.79 562.82,264.78 563.80,267.68 564.78,270.49 565.75,273.21 566.73,275.69 567.70,278.02 568.68,280.20 569.65,282.24 570.63,284.14 571.60,285.90 572.58,287.53 573.56,289.02 574.53,290.39 575.51,291.63 576.48,292.76 577.46,293.76 578.43,294.65 579.41,295.42 580.39,296.09 581.36,296.65 582.34,297.11 583.31,297.47 584.29,297.73 585.26,297.90 586.24,297.98 587.21,297.97 588.19,297.87 589.17,297.68 590.14,297.40 591.12,297.02 592.09,296.55 593.07,295.98 594.04,295.31 595.02,294.53 596.00,293.65 596.97,292.67 597.95,291.58 598.92,290.38 599.90,289.07 600.87,287.64 601.85,286.11 602.83,284.46 603.80,282.70 604.78,280.83 605.75,278.85 606.73,276.76 607.70,274.56 608.68,272.25 609.65,269.84 610.63,267.32 611.61,264.69 612.58,261.95 613.56,259.12 614.53,256.19 615.51,253.17 616.48,250.07 617.46,246.91 618.44,243.67 619.41,240.39 620.39,237.05 621.36,233.67 622.34,230.26 623.31,226.83 624.29,223.38 625.26,219.92 626.24,216.46 627.22,213.01 628.19,209.56 629.17,206.12 630.14,202.69 631.12,199.28 632.09,195.89 633.07,192.51 634.05,189.16 635.02,185.83 636.00,182.52 636.97,179.25 637.95,176.00 638.92,172.79 639.90,169.61 640.87,166.47 641.85,163.37 642.83,160.32 643.80,157.31 644.78,154.36 645.75,151.48 646.73,148.68 647.70,145.95 648.68,143.32 649.66,140.78 650.63,138.34 651.61,136.02 652.58,133.82 653.56,131.74 654.53,129.80 655.51,128.01 656.48,126.36 657.46,124.87 658.44,123.54 659.41,122.39 660.39,121.39 661.36,120.54 662.34,119.84 663.31,119.26 664.29,118.81 665.27,118.47 666.24,118.24 667.22,118.10 668.19,118.05 669.17,118.07 670.14,118.17 671.12,118.33 672.10,118.57 673.07,118.87 674.05,119.25 675.02,119.71 676.00,120.24 676.97,120.85 677.95,121.54 678.92,122.31 679.90,123.16 680.88,124.09 681.85,125.11 682.83,126.21 683.80,127.39 684.78,128.67 685.75,130.03 686.73,131.47 687.71,133.00 688.68,134.60 689.66,136.29 690.63,138.06 691.61,139.91 692.58,141.84 693.56,143.84 694.53,145.91 695.51,148.06 696.49,150.28 697.46,152.58 698.44,154.94 699.41,157.37 700.39,159.87 701.36,162.44 702.34,165.07 703.32,167.77 704.29,170.53 705.27,173.35 706.24,176.23 707.22,179.17 708.19,182.15 709.17,185.16 710.14,188.20 711.12,191.26 712.10,194.33 713.07,197.39 714.05,200.45 715.02,203.49 716.00,206.50 716.97,209.48 717.95,212.41 718.93,215.29 719.90,218.10 720.88,220.85 721.85,223.53 722.83,226.14 723.80,228.69 724.78,231.18 725.75,233.61 726.73,235.98 727.71,238.30 728.68,240.56 729.66,242.78 730.63,244.94 731.61,247.06 732.58,249.14 733.56,251.18 734.54,253.18 735.51,255.14 736.49,257.07 737.46,258.96 738.44,260.83 739.41,262.66 740.39,264.47 741.36,266.25 742.34,267.99 743.32,269.70 744.29,271.36 745.27,272.98 746.24,274.55 747.22,276.06 748.19,277.52 749.17,278.92 750.15,280.26 751.12,281.53 752.10,282.73 753.07,283.85 754.05,284.90 755.02,285.87 756.00,286.76 756.98,287.57 757.95,288.31 758.93,288.98 759.90,289.58 760.88,290.11 761.85,290.57 762.83,290.97 763.80,291.32 764.78,291.60 765.76,291.83 766.73,292.00 767.71,292.13 768.68,292.20 769.66,292.23 770.63,292.21 771.61,292.15 772.59,292.04 773.56,291.89 774.54,291.70 775.51,291.48 776.49,291.22 777.46,290.92 778.44,290.59 779.41,290.23 780.39,289.84 781.37,289.42 782.34,288.97 783.32,288.50 784.29,288.01 785.27,287.49 786.24,286.95 787.22,286.39 788.20,285.81 789.17,285.22 790.15,284.61 791.12,283.99 792.10,283.36 793.07,282.71 794.05,282.06 795.02,281.40 796.00,280.74 796.98,280.06 797.95,279.39 798.93,278.72" fill="none" stroke="#D95319" stroke-width="5.4" stroke-linejoin="round" stroke-dasharray="22 23" stroke-dashoffset="-2" clip-path="url(#clipA)"/>
<polyline points="116.96,205.10 117.94,201.41 118.91,197.72 119.89,194.04 120.86,190.37 121.84,186.73 122.81,183.11 123.79,179.51 124.77,175.95 125.74,172.43 126.72,168.94 127.69,165.51 128.67,162.12 129.64,158.79 130.62,155.52 131.59,152.32 132.57,149.18 133.55,146.11 134.52,143.12 135.50,140.20 136.47,137.37 137.45,134.63 138.42,131.98 139.40,129.42 140.38,126.96 141.35,124.59 142.33,122.33 143.30,120.18 144.28,118.14 145.25,116.20 146.23,114.39 147.20,112.68 148.18,111.10 149.16,109.63 150.13,108.29 151.11,107.07 152.08,105.98 153.06,105.02 154.03,104.18 155.01,103.47 155.99,102.90 156.96,102.45 157.94,102.13 158.91,101.95 159.89,101.90 160.86,101.98 161.84,102.20 162.81,102.54 163.79,103.02 164.77,103.62 165.74,104.36 166.72,105.23 167.69,106.22 168.67,107.34 169.64,108.59 170.62,109.96 171.60,111.45 172.57,113.06 173.55,114.79 174.52,116.64 175.50,118.60 176.47,120.67 177.45,122.84 178.42,125.13 179.40,127.51 180.38,130.00 181.35,132.58 182.33,135.25 183.30,138.02 184.28,140.87 185.25,143.80 186.23,146.81 187.21,149.89 188.18,153.05 189.16,156.27 190.13,159.55 191.11,162.90 192.08,166.30 193.06,169.74 194.03,173.23 195.01,176.77 195.99,180.34 196.96,183.94 197.94,187.57 198.91,191.22 199.89,194.88 200.86,198.57 201.84,202.26 202.82,205.95 203.79,209.64 204.77,213.33 205.74,217.00 206.72,220.67 207.69,224.31 208.67,227.92 209.65,231.51 210.62,235.06 211.60,238.58 212.57,242.05 213.55,245.47 214.52,248.85 215.50,252.16 216.47,255.42 217.45,258.61 218.43,261.74 219.40,264.79 220.38,267.76 221.35,270.66 222.33,273.47 223.30,276.19 224.28,278.82 225.26,281.36 226.23,283.80 227.21,286.14 228.18,288.37 229.16,290.50 230.13,292.52 231.11,294.42 232.08,296.22 233.06,297.89 234.04,299.45 235.01,300.89 235.99,302.20 236.96,303.39 237.94,304.45 238.91,305.39 239.89,306.19 240.87,306.87 241.84,307.42 242.82,307.83 243.79,308.12 244.77,308.27 245.74,308.29 246.72,308.18 247.69,307.94 248.67,307.56 249.65,307.05 250.62,306.42 251.60,305.65 252.57,304.75 253.55,303.73 254.52,302.58 255.50,301.31 256.48,299.91 257.45,298.39 258.43,296.75 259.40,294.99 260.38,293.12 261.35,291.14 262.33,289.04 263.30,286.84 264.28,284.53 265.26,282.12 266.23,279.62 267.21,277.01 268.18,274.32 269.16,271.54 270.13,268.67 271.11,265.72 272.09,262.69 273.06,259.59 274.04,256.42 275.01,253.18 275.99,249.88 276.96,246.53 277.94,243.12 278.92,239.66 279.89,236.16 280.87,232.61 281.84,229.04 282.82,225.43 283.79,221.80 284.77,218.14 285.74,214.47 286.72,210.79 287.70,207.09 288.67,203.40 289.65,199.71 290.62,196.02 291.60,192.35 292.57,188.69 293.55,185.06 294.53,181.45 295.50,177.87 296.48,174.32 297.45,170.82 298.43,167.36 299.40,163.94 300.38,160.58 301.35,157.28 302.33,154.04 303.31,150.86 304.28,147.76 305.26,144.72 306.23,141.77 307.21,138.89 308.18,136.10 309.16,133.40 310.14,130.79 311.11,128.27 312.09,125.86 313.06,123.54 314.04,121.33 315.01,119.23 315.99,117.23 316.96,115.35 317.94,113.59 318.92,111.94 319.89,110.41 320.87,109.00 321.84,107.72 322.82,106.56 323.79,105.52 324.77,104.62 325.75,103.84 326.72,103.19 327.70,102.67 328.67,102.29 329.65,102.03 330.62,101.91 331.60,101.92 332.57,102.06 333.55,102.34 334.53,102.74 335.50,103.28 336.48,103.95 337.45,104.74 338.43,105.67 339.40,106.72 340.38,107.90 341.36,109.21 342.33,110.63 343.31,112.18 344.28,113.84 345.26,115.63 346.23,117.53 347.21,119.54 348.18,121.66 349.16,123.88 350.14,126.21 351.11,128.64 352.09,131.17 353.06,133.80 354.04,136.51 355.01,139.32 355.99,142.20 356.97,145.17 357.94,148.22 358.92,151.34 359.89,154.52 360.87,157.77 361.84,161.09 362.82,164.45 363.80,167.87 364.77,171.34 365.75,174.85 366.72,178.41 367.70,181.99 368.67,185.60 369.65,189.24 370.62,192.90 371.60,196.58 372.58,200.26 373.55,203.96 374.53,207.65 375.50,211.34 376.48,215.02 377.45,218.69 378.43,222.34 379.41,225.97 380.38,229.58 381.36,233.15 382.33,236.69 383.31,240.18 384.28,243.63 385.26,247.03 386.23,250.38 387.21,253.67 388.19,256.90 389.16,260.06 390.14,263.15 391.11,266.17 392.09,269.10 393.06,271.96 394.04,274.73 395.02,277.41 395.99,280.00 396.97,282.49 397.94,284.89 398.92,287.18 399.89,289.36 400.87,291.44 401.84,293.41 402.82,295.26 403.80,297.00 404.77,298.62 405.75,300.13 406.72,301.50 407.70,302.76 408.67,303.89 409.65,304.90 410.63,305.77 411.60,306.52 412.58,307.14 413.55,307.63 414.53,307.98 415.50,308.21 416.48,308.30 417.45,308.26 418.43,308.08 419.41,307.78 420.38,307.34 421.36,306.78 422.33,306.08 423.31,305.25 424.28,304.30 425.26,303.22 426.24,302.01 427.21,300.68 428.19,299.22 429.16,297.65 430.14,295.96 431.11,294.15 432.09,292.22 433.07,290.19 434.04,288.04 435.02,285.79 435.99,283.44 436.97,280.98 437.94,278.43 438.92,275.79 439.89,273.05 440.87,270.23 441.85,267.32 442.82,264.33 443.80,261.27 444.77,258.14 445.75,254.94 446.72,251.67 447.70,248.34 448.68,244.96 449.65,241.53 450.63,238.05 451.60,234.53 452.58,230.97 453.55,227.38 454.53,223.76 455.50,220.12 456.48,216.45 457.46,212.78 458.43,209.09 459.41,205.39 460.38,201.70 461.36,198.01 462.33,194.33 463.31,190.67 464.29,187.02 465.26,183.39 466.24,179.80 467.21,176.23 468.19,172.71 469.16,169.22 470.14,165.78 471.11,162.39 472.09,159.06 473.07,155.78 474.04,152.57 475.02,149.42 475.99,146.35 476.97,143.35 477.94,140.43 478.92,137.60 479.90,134.85 480.87,132.18 481.85,129.62 482.82,127.15 483.80,124.78 484.77,122.51 485.75,120.35 486.72,118.30 487.70,116.35 488.68,114.53 489.65,112.81 490.63,111.22 491.60,109.75 492.58,108.40 493.55,107.17 494.53,106.07 495.51,105.09 496.48,104.24 497.46,103.53 498.43,102.94 499.41,102.48 500.38,102.16 501.36,101.96 502.33,101.90 503.31,101.97 504.29,102.17 505.26,102.51 506.24,102.97 507.21,103.57 508.19,104.30 509.16,105.15 510.14,106.14 511.12,107.25 512.09,108.49 513.07,109.85 514.04,111.33 515.02,112.93 515.99,114.65 516.97,116.49 517.95,118.44 518.92,120.50 519.90,122.67 520.87,124.94 521.85,127.32 522.82,129.80 523.80,132.37 524.77,135.04 525.75,137.79 526.73,140.63 527.70,143.56 528.68,146.56 529.65,149.64 530.63,152.79 531.60,156.01 532.58,159.29 533.56,162.63 534.53,166.02 535.51,169.46 536.48,172.95 537.46,176.48 538.43,180.05 539.41,183.65 540.38,187.28 541.36,190.92 542.34,194.59 543.31,198.27 544.29,201.96 545.26,205.65 546.24,209.35 547.21,213.03 548.19,216.71 549.17,220.37 550.14,224.02 551.12,227.64 552.09,231.22 553.07,234.78 554.04,238.30 555.02,241.77 555.99,245.20 556.97,248.58 557.95,251.90 558.92,255.16 559.90,258.36 560.87,261.49 561.85,264.55 562.82,267.53 563.80,270.43 564.78,273.25 565.75,275.97 566.73,278.61 567.70,281.16 568.68,283.61 569.65,285.95 570.63,288.20 571.60,290.33 572.58,292.36 573.56,294.28 574.53,296.08 575.51,297.76 576.48,299.33 577.46,300.78 578.43,302.10 579.41,303.30 580.39,304.37 581.36,305.32 582.34,306.13 583.31,306.82 584.29,307.38 585.26,307.81 586.24,308.10 587.21,308.26 588.19,308.30 589.17,308.19 590.14,307.96 591.12,307.60 592.09,307.10 593.07,306.47 594.04,305.72 595.02,304.83 596.00,303.82 596.97,302.68 597.95,301.41 598.92,300.02 599.90,298.51 600.87,296.88 601.85,295.14 602.83,293.27 603.80,291.30 604.78,289.21 605.75,287.02 606.73,284.72 607.70,282.32 608.68,279.82 609.65,277.23 610.63,274.54 611.61,271.76 612.58,268.90 613.56,265.96 614.53,262.93 615.51,259.84 616.48,256.67 617.46,253.44 618.44,250.15 619.41,246.80 620.39,243.39 621.36,239.94 622.34,236.44 623.31,232.90 624.29,229.32 625.26,225.72 626.24,222.09 627.22,218.43 628.19,214.76 629.17,211.08 630.14,207.39 631.12,203.70 632.09,200.00 633.07,196.32 634.05,192.64 635.02,188.99 636.00,185.35 636.97,181.74 637.95,178.15 638.92,174.61 639.90,171.10 640.87,167.63 641.85,164.22 642.83,160.85 643.80,157.54 644.78,154.30 645.75,151.11 646.73,148.00 647.70,144.96 648.68,142.00 649.66,139.12 650.63,136.32 651.61,133.61 652.58,130.99 653.56,128.47 654.53,126.05 655.51,123.63 656.48,121.26 657.46,118.97 658.44,116.74 659.41,114.59 660.39,112.54 661.36,110.57 662.34,108.70 663.31,106.94 664.29,105.30 665.27,103.76 666.24,102.36 667.22,101.08 668.19,99.94 669.17,98.95 670.14,98.10 671.12,97.41 672.10,96.88 673.07,96.52 674.05,96.34 675.02,96.33 676.00,96.51 676.97,96.89 677.95,97.46 678.92,98.21 679.90,99.15 680.88,100.25 681.85,101.52 682.83,102.95 683.80,104.52 684.78,106.23 685.75,108.07 686.73,110.04 687.71,112.12 688.68,114.30 689.66,116.59 690.63,118.97 691.61,121.43 692.58,123.97 693.56,126.58 694.53,129.25 695.51,131.97 696.49,134.73 697.46,137.54 698.44,140.39 699.41,143.29 700.39,146.23 701.36,149.23 702.34,152.28 703.32,155.39 704.29,158.56 705.27,161.78 706.24,165.07 707.22,168.41 708.19,171.83 709.17,175.31 710.14,178.86 711.12,182.47 712.10,186.12 713.07,189.83 714.05,193.57 715.02,197.34 716.00,201.13 716.97,204.93 717.95,208.75 718.93,212.56 719.90,216.36 720.88,220.15 721.85,223.92 722.83,227.65 723.80,231.35 724.78,235.01 725.75,238.61 726.73,242.15 727.71,245.63 728.68,249.03 729.66,252.36 730.63,255.59 731.61,258.73 732.58,261.77 733.56,264.71 734.54,267.52 735.51,270.22 736.49,272.78 737.46,275.21 738.44,277.50 739.41,279.65 740.39,281.69 741.36,283.60 742.34,285.39 743.32,287.08 744.29,288.66 745.27,290.14 746.24,291.53 747.22,292.84 748.19,294.05 749.17,295.19 750.15,296.24 751.12,297.21 752.10,298.09 753.07,298.89 754.05,299.60 755.02,300.23 756.00,300.77 756.98,301.22 757.95,301.58 758.93,301.86 759.90,302.05 760.88,302.15 761.85,302.16 762.83,302.09 763.80,301.93 764.78,301.69 765.76,301.36 766.73,300.94 767.71,300.44 768.68,299.86 769.66,299.19 770.63,298.44 771.61,297.60 772.59,296.69 773.56,295.71 774.54,294.67 775.51,293.58 776.49,292.45 777.46,291.29 778.44,290.11 779.41,288.92 780.39,287.73 781.37,286.54 782.34,285.38 783.32,284.24 784.29,283.14 785.27,282.09 786.24,281.09 787.22,280.14 788.20,279.24 789.17,278.37 790.15,277.54 791.12,276.75 792.10,275.98 793.07,275.24 794.05,274.53 795.02,273.83 796.00,273.15 796.98,272.47 797.95,271.81 798.93,271.15" fill="none" stroke="#EDB120" stroke-width="5.4" stroke-linejoin="round" stroke-dasharray="22 23" stroke-dashoffset="-3" clip-path="url(#clipA)"/>
<path d="M116.96 373.6v-7M116.96 31.0v7M185.46 373.6v-7M185.46 31.0v7M253.97 373.6v-7M253.97 31.0v7M322.47 373.6v-7M322.47 31.0v7M390.98 373.6v-7M390.98 31.0v7M459.48 373.6v-7M459.48 31.0v7M527.99 373.6v-7M527.99 31.0v7M596.50 373.6v-7M596.50 31.0v7M665.00 373.6v-7M665.00 31.0v7M733.50 373.6v-7M733.50 31.0v7M116.0 308.30h7M799.0 308.30h-7M116.0 239.50h7M799.0 239.50h-7M116.0 170.70h7M799.0 170.70h-7M116.0 101.90h7M799.0 101.90h-7M116.0 33.10h7M799.0 33.10h-7" stroke="#3c3c3c" stroke-width="1.5" fill="none"/>
<rect x="116.0" y="31.0" width="683.0" height="342.6" fill="none" stroke="#3c3c3c" stroke-width="1.5"/>
<text class="tk" x="116.96" y="405.9" text-anchor="middle">0</text>
<text class="tk" x="185.46" y="405.9" text-anchor="middle">1</text>
<text class="tk" x="253.97" y="405.9" text-anchor="middle">2</text>
<text class="tk" x="322.47" y="405.9" text-anchor="middle">3</text>
<text class="tk" x="390.98" y="405.9" text-anchor="middle">4</text>
<text class="tk" x="459.48" y="405.9" text-anchor="middle">5</text>
<text class="tk" x="527.99" y="405.9" text-anchor="middle">6</text>
<text class="tk" x="596.50" y="405.9" text-anchor="middle">7</text>
<text class="tk" x="665.00" y="405.9" text-anchor="middle">8</text>
<text class="tk" x="733.50" y="405.9" text-anchor="middle">9</text>
<text class="tk" x="105.0" y="316.8" text-anchor="end">2</text>
<text class="tk" x="105.0" y="248.0" text-anchor="end">4</text>
<text class="tk" x="105.0" y="179.2" text-anchor="end">6</text>
<text class="tk" x="105.0" y="110.4" text-anchor="end">8</text>
<text class="tk" x="105.0" y="41.6" text-anchor="end">10</text>
<path d="M1083.12 31.0V373.8M1151.74 31.0V373.8M1220.36 31.0V373.8M1288.98 31.0V373.8M1357.60 31.0V373.8M1426.22 31.0V373.8M1494.84 31.0V373.8M1563.46 31.0V373.8M1632.08 31.0V373.8M1016.6 305.90H1700.7M1016.6 237.16H1700.7M1016.6 168.42H1700.7M1016.6 99.68H1700.7" stroke="#dcdcdc" stroke-width="1" fill="none"/>
<polyline points="1014.50,202.79 1015.48,200.94 1016.46,199.08 1017.45,197.23 1018.43,195.38 1019.41,193.53 1020.39,191.69 1021.37,189.85 1022.35,188.01 1023.34,186.18 1024.32,184.35 1025.30,182.53 1026.28,180.72 1027.26,178.91 1028.24,177.11 1029.23,175.32 1030.21,173.54 1031.19,171.77 1032.17,170.00 1033.15,168.25 1034.13,166.51 1035.12,164.78 1036.10,163.06 1037.08,161.36 1038.06,159.67 1039.04,157.99 1040.02,156.33 1041.01,154.68 1041.99,153.05 1042.97,151.44 1043.95,149.84 1044.93,148.25 1045.91,146.69 1046.90,145.14 1047.88,143.62 1048.86,142.11 1049.84,140.62 1050.82,139.15 1051.80,137.70 1052.79,136.28 1053.77,134.87 1054.75,133.49 1055.73,132.13 1056.71,130.79 1057.69,129.47 1058.68,128.18 1059.66,126.91 1060.64,125.67 1061.62,124.45 1062.60,123.26 1063.58,122.09 1064.57,120.95 1065.55,119.84 1066.53,118.75 1067.51,117.69 1068.49,116.66 1069.47,115.65 1070.46,114.68 1071.44,113.73 1072.42,112.81 1073.40,111.92 1074.38,111.06 1075.36,110.22 1076.35,109.42 1077.33,108.65 1078.31,107.91 1079.29,107.20 1080.27,106.52 1081.25,105.87 1082.24,105.25 1083.22,104.67 1084.20,104.12 1085.18,103.59 1086.16,103.10 1087.14,102.65 1088.13,102.22 1089.11,101.83 1090.09,101.47 1091.07,101.14 1092.05,100.85 1093.04,100.58 1094.02,100.36 1095.00,100.16 1095.98,100.00 1096.96,99.87 1097.94,99.77 1098.93,99.71 1099.91,99.68 1100.89,99.69 1101.87,99.72 1102.85,99.79 1103.83,99.90 1104.82,100.04 1105.80,100.21 1106.78,100.41 1107.76,100.65 1108.74,100.92 1109.72,101.22 1110.71,101.56 1111.69,101.92 1112.67,102.32 1113.65,102.76 1114.63,103.22 1115.61,103.72 1116.60,104.25 1117.58,104.81 1118.56,105.41 1119.54,106.03 1120.52,106.69 1121.50,107.37 1122.49,108.09 1123.47,108.84 1124.45,109.62 1125.43,110.43 1126.41,111.27 1127.39,112.14 1128.38,113.03 1129.36,113.96 1130.34,114.92 1131.32,115.90 1132.30,116.91 1133.28,117.95 1134.27,119.02 1135.25,120.11 1136.23,121.23 1137.21,122.38 1138.19,123.56 1139.17,124.75 1140.16,125.98 1141.14,127.23 1142.12,128.50 1143.10,129.80 1144.08,131.12 1145.06,132.46 1146.05,133.83 1147.03,135.22 1148.01,136.63 1148.99,138.06 1149.97,139.52 1150.95,140.99 1151.94,142.48 1152.92,144.00 1153.90,145.53 1154.88,147.08 1155.86,148.65 1156.84,150.23 1157.83,151.84 1158.81,153.46 1159.79,155.09 1160.77,156.74 1161.75,158.41 1162.73,160.09 1163.72,161.78 1164.70,163.49 1165.68,165.21 1166.66,166.94 1167.64,168.69 1168.63,170.44 1169.61,172.21 1170.59,173.98 1171.57,175.77 1172.55,177.56 1173.53,179.36 1174.52,181.17 1175.50,182.99 1176.48,184.81 1177.46,186.64 1178.44,188.47 1179.42,190.31 1180.41,192.15 1181.39,194.00 1182.37,195.84 1183.35,197.69 1184.33,199.55 1185.31,201.40 1186.30,203.25 1187.28,205.11 1188.26,206.96 1189.24,208.81 1190.22,210.66 1191.20,212.51 1192.19,214.35 1193.17,216.19 1194.15,218.03 1195.13,219.86 1196.11,221.68 1197.09,223.50 1198.08,225.31 1199.06,227.12 1200.04,228.92 1201.02,230.71 1202.00,232.49 1202.98,234.26 1203.97,236.02 1204.95,237.77 1205.93,239.50 1206.91,241.23 1207.89,242.94 1208.87,244.64 1209.86,246.33 1210.84,248.00 1211.82,249.66 1212.80,251.31 1213.78,252.93 1214.76,254.55 1215.75,256.14 1216.73,257.72 1217.71,259.28 1218.69,260.82 1219.67,262.34 1220.65,263.85 1221.64,265.33 1222.62,266.79 1223.60,268.24 1224.58,269.66 1225.56,271.06 1226.54,272.44 1227.53,273.79 1228.51,275.12 1229.49,276.43 1230.47,277.72 1231.45,278.98 1232.43,280.22 1233.42,281.43 1234.40,282.61 1235.38,283.77 1236.36,284.91 1237.34,286.02 1238.32,287.10 1239.31,288.15 1240.29,289.18 1241.27,290.17 1242.25,291.14 1243.23,292.09 1244.22,293.00 1245.20,293.88 1246.18,294.74 1247.16,295.56 1248.14,296.35 1249.12,297.12 1250.11,297.85 1251.09,298.55 1252.07,299.22 1253.05,299.87 1254.03,300.47 1255.01,301.05 1256.00,301.60 1256.98,302.11 1257.96,302.59 1258.94,303.04 1259.92,303.46 1260.90,303.84 1261.89,304.20 1262.87,304.52 1263.85,304.80 1264.83,305.06 1265.81,305.28 1266.79,305.46 1267.78,305.62 1268.76,305.74 1269.74,305.82 1270.72,305.88 1271.70,305.90 1272.68,305.89 1273.67,305.84 1274.65,305.76 1275.63,305.65 1276.61,305.50 1277.59,305.33 1278.57,305.11 1279.56,304.87 1280.54,304.59 1281.52,304.28 1282.50,303.94 1283.48,303.56 1284.46,303.15 1285.45,302.71 1286.43,302.24 1287.41,301.73 1288.39,301.19 1289.37,300.62 1290.35,300.02 1291.34,299.39 1292.32,298.72 1293.30,298.03 1294.28,297.30 1295.26,296.55 1296.24,295.76 1297.23,294.94 1298.21,294.10 1299.19,293.22 1300.17,292.32 1301.15,291.38 1302.13,290.42 1303.12,289.43 1304.10,288.41 1305.08,287.36 1306.06,286.29 1307.04,285.19 1308.02,284.06 1309.01,282.91 1309.99,281.73 1310.97,280.52 1311.95,279.29 1312.93,278.04 1313.91,276.76 1314.90,275.45 1315.88,274.13 1316.86,272.78 1317.84,271.40 1318.82,270.01 1319.81,268.59 1320.79,267.16 1321.77,265.70 1322.75,264.22 1323.73,262.72 1324.71,261.20 1325.70,259.66 1326.68,258.11 1327.66,256.54 1328.64,254.95 1329.62,253.34 1330.60,251.71 1331.59,250.08 1332.57,248.42 1333.55,246.75 1334.53,245.07 1335.51,243.37 1336.49,241.66 1337.48,239.94 1338.46,238.20 1339.44,236.45 1340.42,234.70 1341.40,232.93 1342.38,231.15 1343.37,229.36 1344.35,227.57 1345.33,225.77 1346.31,223.96 1347.29,222.14 1348.27,220.31 1349.26,218.48 1350.24,216.65 1351.22,214.81 1352.20,212.97 1353.18,211.12 1354.16,209.27 1355.15,207.42 1356.13,205.57 1357.11,203.72 1358.09,201.86 1359.07,200.01 1360.05,198.16 1361.04,196.31 1362.02,194.46 1363.00,192.61 1363.98,190.77 1364.96,188.93 1365.94,187.10 1366.93,185.27 1367.91,183.44 1368.89,181.62 1369.87,179.81 1370.85,178.01 1371.83,176.22 1372.82,174.43 1373.80,172.65 1374.78,170.88 1375.76,169.13 1376.74,167.38 1377.72,165.64 1378.71,163.92 1379.69,162.21 1380.67,160.51 1381.65,158.83 1382.63,157.16 1383.61,155.50 1384.60,153.87 1385.58,152.24 1386.56,150.63 1387.54,149.04 1388.52,147.47 1389.50,145.92 1390.49,144.38 1391.47,142.86 1392.45,141.36 1393.43,139.88 1394.41,138.42 1395.39,136.99 1396.38,135.57 1397.36,134.18 1398.34,132.80 1399.32,131.45 1400.30,130.13 1401.29,128.82 1402.27,127.54 1403.25,126.29 1404.23,125.06 1405.21,123.85 1406.19,122.67 1407.18,121.52 1408.16,120.39 1409.14,119.29 1410.12,118.22 1411.10,117.17 1412.08,116.15 1413.07,115.16 1414.05,114.20 1415.03,113.26 1416.01,112.36 1416.99,111.48 1417.97,110.64 1418.96,109.82 1419.94,109.03 1420.92,108.28 1421.90,107.55 1422.88,106.86 1423.86,106.19 1424.85,105.56 1425.83,104.96 1426.81,104.39 1427.79,103.85 1428.77,103.34 1429.75,102.87 1430.74,102.43 1431.72,102.02 1432.70,101.64 1433.68,101.30 1434.66,100.99 1435.64,100.71 1436.63,100.47 1437.61,100.25 1438.59,100.08 1439.57,99.93 1440.55,99.82 1441.53,99.74 1442.52,99.69 1443.50,99.68 1444.48,99.70 1445.46,99.76 1446.44,99.84 1447.42,99.96 1448.41,100.12 1449.39,100.30 1450.37,100.52 1451.35,100.78 1452.33,101.06 1453.31,101.38 1454.30,101.74 1455.28,102.12 1456.26,102.54 1457.24,102.99 1458.22,103.47 1459.20,103.98 1460.19,104.53 1461.17,105.11 1462.15,105.71 1463.13,106.36 1464.11,107.03 1465.09,107.73 1466.08,108.46 1467.06,109.23 1468.04,110.02 1469.02,110.84 1470.00,111.70 1470.98,112.58 1471.97,113.49 1472.95,114.44 1473.93,115.41 1474.91,116.40 1475.89,117.43 1476.88,118.48 1477.86,119.56 1478.84,120.67 1479.82,121.81 1480.80,122.97 1481.78,124.15 1482.77,125.36 1483.75,126.60 1484.73,127.86 1485.71,129.15 1486.69,130.46 1487.67,131.79 1488.66,133.14 1489.64,134.52 1490.62,135.92 1491.60,137.34 1492.58,138.79 1493.56,140.25 1494.55,141.73 1495.53,143.24 1496.51,144.76 1497.49,146.30 1498.47,147.86 1499.45,149.44 1500.44,151.03 1501.42,152.65 1502.40,154.27 1503.38,155.92 1504.36,157.58 1505.34,159.25 1506.33,160.94 1507.31,162.64 1508.29,164.35 1509.27,166.08 1510.25,167.81 1511.23,169.56 1512.22,171.32 1513.20,173.09 1514.18,174.87 1515.16,176.66 1516.14,178.46 1517.12,180.27 1518.11,182.08 1519.09,183.90 1520.07,185.72 1521.05,187.55 1522.03,189.39 1523.01,191.23 1524.00,193.07 1524.98,194.92 1525.96,196.77 1526.94,198.62 1527.92,200.47 1528.90,202.33 1529.89,204.18 1530.87,206.03 1531.85,207.89 1532.83,209.74 1533.81,211.58 1534.79,213.43 1535.78,215.27 1536.76,217.11 1537.74,218.94 1538.72,220.77 1539.70,222.59 1540.68,224.41 1541.67,226.22 1542.65,228.02 1543.63,229.81 1544.61,231.60 1545.59,233.37 1546.57,235.14 1547.56,236.89 1548.54,238.64 1549.52,240.37 1550.50,242.09 1551.48,243.80 1552.47,245.49 1553.45,247.17 1554.43,248.84 1555.41,250.49 1556.39,252.12 1557.37,253.74 1558.36,255.35 1559.34,256.93 1560.32,258.50 1561.30,260.05 1562.28,261.58 1563.26,263.10 1564.25,264.59 1565.23,266.06 1566.21,267.52 1567.19,268.95 1568.17,270.36 1569.15,271.75 1570.14,273.12 1571.12,274.46 1572.10,275.78 1573.08,277.08 1574.06,278.35 1575.04,279.60 1576.03,280.83 1577.01,282.02 1577.99,283.20 1578.97,284.35 1579.95,285.47 1580.93,286.56 1581.92,287.63 1582.90,288.67 1583.88,289.68 1584.86,290.66 1585.84,291.62 1586.82,292.55 1587.81,293.44 1588.79,294.31 1589.77,295.15 1590.75,295.96 1591.73,296.74 1592.71,297.49 1593.70,298.21 1594.68,298.89 1595.66,299.55 1596.64,300.17 1597.62,300.77 1598.60,301.33 1599.59,301.86 1600.57,302.36 1601.55,302.82 1602.53,303.26 1603.51,303.66 1604.49,304.02 1605.48,304.36 1606.46,304.66 1607.44,304.93 1608.42,305.17 1609.40,305.37 1610.38,305.54 1611.37,305.68 1612.35,305.79 1613.33,305.86 1614.31,305.89 1615.29,305.90 1616.27,305.87 1617.26,305.81 1618.24,305.71 1619.22,305.58 1620.20,305.42 1621.18,305.22 1622.16,305.00 1623.15,304.73 1624.13,304.44 1625.11,304.11 1626.09,303.75 1627.07,303.36 1628.06,302.93 1629.04,302.48 1630.02,301.99 1631.00,301.46 1631.98,300.91 1632.96,300.33 1633.95,299.71 1634.93,299.06 1635.91,298.38 1636.89,297.67 1637.87,296.93 1638.85,296.16 1639.84,295.36 1640.82,294.52 1641.80,293.66 1642.78,292.77 1643.76,291.85 1644.74,290.90 1645.73,289.93 1646.71,288.92 1647.69,287.89 1648.67,286.83 1649.65,285.74 1650.63,284.63 1651.62,283.49 1652.60,282.32 1653.58,281.13 1654.56,279.91 1655.54,278.67 1656.52,277.40 1657.51,276.11 1658.49,274.79 1659.47,273.45 1660.45,272.09 1661.43,270.71 1662.41,269.30 1663.40,267.88 1664.38,266.43 1665.36,264.96 1666.34,263.47 1667.32,261.96 1668.30,260.44 1669.29,258.89 1670.27,257.33 1671.25,255.74 1672.23,254.14 1673.21,252.53 1674.19,250.90 1675.18,249.25 1676.16,247.59 1677.14,245.91 1678.12,244.22 1679.10,242.52 1680.08,240.80 1681.07,239.07 1682.05,237.33 1683.03,235.58 1684.01,233.81 1684.99,232.04 1685.97,230.26 1686.96,228.47 1687.94,226.67 1688.92,224.86 1689.90,223.05 1690.88,221.23 1691.86,219.40 1692.85,217.57 1693.83,215.73 1694.81,213.89 1695.79,212.05 1696.77,210.20 1697.75,208.35 1698.74,206.50 1699.72,204.64 1700.70,202.79" fill="none" stroke="#000" stroke-width="3.2" stroke-linejoin="round" clip-path="url(#clipB)"/>
<polyline points="1014.50,151.84 1015.48,151.76 1016.46,151.68 1017.45,151.60 1018.43,151.53 1019.41,151.46 1020.39,151.39 1021.37,151.32 1022.35,151.26 1023.34,151.20 1024.32,151.15 1025.30,151.09 1026.28,151.04 1027.26,150.99 1028.24,150.95 1029.23,150.90 1030.21,150.86 1031.19,150.83 1032.17,150.79 1033.15,150.76 1034.13,150.73 1035.12,150.71 1036.10,150.68 1037.08,150.66 1038.06,150.64 1039.04,150.63 1040.02,150.62 1041.01,150.61 1041.99,150.60 1042.97,150.60 1043.95,150.59 1044.93,150.60 1045.91,150.60 1046.90,150.61 1047.88,150.62 1048.86,150.63 1049.84,150.64 1050.82,150.66 1051.80,150.68 1052.79,150.70 1053.77,150.73 1054.75,150.76 1055.73,150.79 1056.71,150.82 1057.69,150.86 1058.68,150.89 1059.66,150.94 1060.64,150.98 1061.62,151.03 1062.60,151.08 1063.58,151.13 1064.57,151.18 1065.55,151.24 1066.53,151.30 1067.51,151.36 1068.49,151.42 1069.47,151.49 1070.46,151.56 1071.44,151.63 1072.42,151.71 1073.40,151.78 1074.38,151.86 1075.36,151.94 1076.35,152.03 1077.33,152.12 1078.31,152.20 1079.29,152.30 1080.27,152.39 1081.25,152.49 1082.24,152.59 1083.22,152.69 1084.20,152.79 1085.18,152.90 1086.16,153.01 1087.14,153.12 1088.13,153.23 1089.11,153.35 1090.09,153.47 1091.07,153.59 1092.05,153.71 1093.04,153.84 1094.02,153.96 1095.00,154.09 1095.98,154.23 1096.96,154.36 1097.94,154.50 1098.93,154.64 1099.91,154.78 1100.89,154.92 1101.87,155.07 1102.85,155.21 1103.83,155.37 1104.82,155.52 1105.80,155.67 1106.78,155.83 1107.76,155.99 1108.74,156.15 1109.72,156.31 1110.71,156.48 1111.69,156.65 1112.67,156.82 1113.65,156.99 1114.63,157.16 1115.61,157.34 1116.60,157.52 1117.58,157.70 1118.56,157.88 1119.54,158.07 1120.52,158.25 1121.50,158.44 1122.49,158.63 1123.47,158.83 1124.45,159.02 1125.43,159.22 1126.41,159.42 1127.39,159.62 1128.38,159.82 1129.36,160.02 1130.34,160.23 1131.32,160.44 1132.30,160.65 1133.28,160.86 1134.27,161.08 1135.25,161.29 1136.23,161.51 1137.21,161.73 1138.19,161.95 1139.17,162.18 1140.16,162.40 1141.14,162.63 1142.12,162.86 1143.10,163.09 1144.08,163.32 1145.06,163.56 1146.05,163.79 1147.03,164.03 1148.01,164.27 1148.99,164.51 1149.97,164.75 1150.95,165.00 1151.94,165.25 1152.92,165.49 1153.90,165.74 1154.88,166.00 1155.86,166.25 1156.84,166.50 1157.83,166.76 1158.81,167.02 1159.79,167.28 1160.77,167.54 1161.75,167.80 1162.73,168.07 1163.72,168.33 1164.70,168.60 1165.68,168.87 1166.66,169.14 1167.64,169.41 1168.63,169.68 1169.61,169.96 1170.59,170.23 1171.57,170.51 1172.55,170.79 1173.53,171.07 1174.52,171.35 1175.50,171.64 1176.48,171.92 1177.46,172.21 1178.44,172.50 1179.42,172.78 1180.41,173.07 1181.39,173.37 1182.37,173.66 1183.35,173.95 1184.33,174.25 1185.31,174.54 1186.30,174.84 1187.28,175.14 1188.26,175.44 1189.24,175.74 1190.22,176.04 1191.20,176.35 1192.19,176.65 1193.17,176.96 1194.15,177.27 1195.13,177.58 1196.11,177.88 1197.09,178.20 1198.08,178.51 1199.06,178.82 1200.04,179.13 1201.02,179.45 1202.00,179.76 1202.98,180.08 1203.97,180.40 1204.95,180.72 1205.93,181.04 1206.91,181.36 1207.89,181.68 1208.87,182.00 1209.86,182.33 1210.84,182.65 1211.82,182.98 1212.80,183.30 1213.78,183.63 1214.76,183.96 1215.75,184.29 1216.73,184.62 1217.71,184.95 1218.69,185.28 1219.67,185.61 1220.65,185.94 1221.64,186.28 1222.62,186.61 1223.60,186.95 1224.58,187.28 1225.56,187.62 1226.54,187.96 1227.53,188.29 1228.51,188.63 1229.49,188.97 1230.47,189.31 1231.45,189.65 1232.43,189.99 1233.42,190.33 1234.40,190.68 1235.38,191.02 1236.36,191.36 1237.34,191.71 1238.32,192.05 1239.31,192.40 1240.29,192.74 1241.27,193.09 1242.25,193.43 1243.23,193.78 1244.22,194.13 1245.20,194.47 1246.18,194.82 1247.16,195.17 1248.14,195.52 1249.12,195.87 1250.11,196.22 1251.09,196.57 1252.07,196.92 1253.05,197.27 1254.03,197.62 1255.01,197.97 1256.00,198.32 1256.98,198.67 1257.96,199.03 1258.94,199.38 1259.92,199.73 1260.90,200.08 1261.89,200.43 1262.87,200.79 1263.85,201.14 1264.83,201.49 1265.81,201.85 1266.79,202.20 1267.78,202.55 1268.76,202.91 1269.74,203.26 1270.72,203.61 1271.70,203.97 1272.68,204.32 1273.67,204.68 1274.65,205.03 1275.63,205.38 1276.61,205.74 1277.59,206.09 1278.57,206.44 1279.56,206.80 1280.54,207.15 1281.52,207.50 1282.50,207.86 1283.48,208.21 1284.46,208.56 1285.45,208.92 1286.43,209.27 1287.41,209.62 1288.39,209.97 1289.37,210.33 1290.35,210.68 1291.34,211.03 1292.32,211.38 1293.30,211.73 1294.28,212.08 1295.26,212.43 1296.24,212.78 1297.23,213.13 1298.21,213.48 1299.19,213.83 1300.17,214.18 1301.15,214.53 1302.13,214.88 1303.12,215.23 1304.10,215.57 1305.08,215.92 1306.06,216.27 1307.04,216.61 1308.02,216.96 1309.01,217.30 1309.99,217.65 1310.97,217.99 1311.95,218.34 1312.93,218.68 1313.91,219.02 1314.90,219.36 1315.88,219.70 1316.86,220.05 1317.84,220.39 1318.82,220.73 1319.81,221.06 1320.79,221.40 1321.77,221.74 1322.75,222.08 1323.73,222.41 1324.71,222.75 1325.70,223.08 1326.68,223.42 1327.66,223.75 1328.64,224.08 1329.62,224.42 1330.60,224.75 1331.59,225.08 1332.57,225.41 1333.55,225.74 1334.53,226.06 1335.51,226.39 1336.49,226.72 1337.48,227.04 1338.46,227.37 1339.44,227.69 1340.42,228.01 1341.40,228.33 1342.38,228.66 1343.37,228.98 1344.35,229.29 1345.33,229.61 1346.31,229.93 1347.29,230.25 1348.27,230.56 1349.26,230.87 1350.24,231.19 1351.22,231.50 1352.20,231.81 1353.18,232.12 1354.16,232.43 1355.15,232.74 1356.13,233.04 1357.11,233.35 1358.09,233.65 1359.07,233.96 1360.05,234.26 1361.04,234.56 1362.02,234.86 1363.00,235.16 1363.98,235.46 1364.96,235.75 1365.94,236.05 1366.93,236.34 1367.91,236.63 1368.89,236.92 1369.87,237.21 1370.85,237.50 1371.83,237.79 1372.82,238.08 1373.80,238.36 1374.78,238.64 1375.76,238.93 1376.74,239.21 1377.72,239.49 1378.71,239.76 1379.69,240.04 1380.67,240.32 1381.65,240.59 1382.63,240.86 1383.61,241.13 1384.60,241.40 1385.58,241.67 1386.56,241.94 1387.54,242.20 1388.52,242.47 1389.50,242.73 1390.49,242.99 1391.47,243.25 1392.45,243.51 1393.43,243.76 1394.41,244.02 1395.39,244.27 1396.38,244.52 1397.36,244.77 1398.34,245.02 1399.32,245.27 1400.30,245.51 1401.29,245.75 1402.27,246.00 1403.25,246.24 1404.23,246.48 1405.21,246.71 1406.19,246.95 1407.18,247.18 1408.16,247.41 1409.14,247.64 1410.12,247.87 1411.10,248.10 1412.08,248.32 1413.07,248.55 1414.05,248.77 1415.03,248.99 1416.01,249.21 1416.99,249.42 1417.97,249.64 1418.96,249.85 1419.94,250.06 1420.92,250.27 1421.90,250.48 1422.88,250.68 1423.86,250.89 1424.85,251.09 1425.83,251.29 1426.81,251.49 1427.79,251.68 1428.77,251.88 1429.75,252.07 1430.74,252.26 1431.72,252.45 1432.70,252.63 1433.68,252.82 1434.66,253.00 1435.64,253.18 1436.63,253.36 1437.61,253.54 1438.59,253.71 1439.57,253.89 1440.55,254.06 1441.53,254.23 1442.52,254.39 1443.50,254.56 1444.48,254.72 1445.46,254.88 1446.44,255.04 1447.42,255.20 1448.41,255.36 1449.39,255.51 1450.37,255.66 1451.35,255.81 1452.33,255.95 1453.31,256.10 1454.30,256.24 1455.28,256.38 1456.26,256.52 1457.24,256.66 1458.22,256.79 1459.20,256.92 1460.19,257.05 1461.17,257.18 1462.15,257.31 1463.13,257.43 1464.11,257.55 1465.09,257.67 1466.08,257.79 1467.06,257.90 1468.04,258.02 1469.02,258.13 1470.00,258.24 1470.98,258.34 1471.97,258.45 1472.95,258.55 1473.93,258.65 1474.91,258.75 1475.89,258.84 1476.88,258.94 1477.86,259.03 1478.84,259.12 1479.82,259.20 1480.80,259.29 1481.78,259.37 1482.77,259.45 1483.75,259.53 1484.73,259.60 1485.71,259.67 1486.69,259.74 1487.67,259.81 1488.66,259.88 1489.64,259.94 1490.62,260.00 1491.60,260.06 1492.58,260.12 1493.56,260.18 1494.55,260.23 1495.53,260.28 1496.51,260.33 1497.49,260.37 1498.47,260.41 1499.45,260.46 1500.44,260.49 1501.42,260.53 1502.40,260.56 1503.38,260.60 1504.36,260.63 1505.34,260.65 1506.33,260.68 1507.31,260.70 1508.29,260.72 1509.27,260.74 1510.25,260.75 1511.23,260.77 1512.22,260.78 1513.20,260.79 1514.18,260.79 1515.16,260.80 1516.14,260.80 1517.12,260.80 1518.11,260.79 1519.09,260.79 1520.07,260.78 1521.05,260.77 1522.03,260.75 1523.01,260.74 1524.00,260.72 1524.98,260.70 1525.96,260.68 1526.94,260.66 1527.92,260.63 1528.90,260.60 1529.89,260.57 1530.87,260.53 1531.85,260.50 1532.83,260.46 1533.81,260.42 1534.79,260.37 1535.78,260.33 1536.76,260.28 1537.74,260.23 1538.72,260.18 1539.70,260.12 1540.68,260.06 1541.67,260.00 1542.65,259.94 1543.63,259.87 1544.61,259.81 1545.59,259.74 1546.57,259.67 1547.56,259.59 1548.54,259.52 1549.52,259.44 1550.50,259.36 1551.48,259.27 1552.47,259.19 1553.45,259.10 1554.43,259.01 1555.41,258.91 1556.39,258.82 1557.37,258.72 1558.36,258.62 1559.34,258.52 1560.32,258.41 1561.30,258.31 1562.28,258.20 1563.26,258.09 1564.25,257.97 1565.23,257.86 1566.21,257.74 1567.19,257.62 1568.17,257.49 1569.15,257.37 1570.14,257.24 1571.12,257.11 1572.10,256.98 1573.08,256.85 1574.06,256.71 1575.04,256.57 1576.03,256.43 1577.01,256.28 1577.99,256.14 1578.97,255.99 1579.95,255.84 1580.93,255.69 1581.92,255.53 1582.90,255.38 1583.88,255.22 1584.86,255.06 1585.84,254.89 1586.82,254.73 1587.81,254.56 1588.79,254.39 1589.77,254.22 1590.75,254.04 1591.73,253.87 1592.71,253.69 1593.70,253.51 1594.68,253.32 1595.66,253.14 1596.64,252.95 1597.62,252.76 1598.60,252.57 1599.59,252.37 1600.57,252.18 1601.55,251.98 1602.53,251.78 1603.51,251.58 1604.49,251.37 1605.48,251.17 1606.46,250.96 1607.44,250.75 1608.42,250.54 1609.40,250.32 1610.38,250.11 1611.37,249.89 1612.35,249.67 1613.33,249.44 1614.31,249.22 1615.29,248.99 1616.27,248.77 1617.26,248.53 1618.24,248.30 1619.22,248.07 1620.20,247.83 1621.18,247.59 1622.16,247.35 1623.15,247.11 1624.13,246.87 1625.11,246.62 1626.09,246.38 1627.07,246.13 1628.06,245.87 1629.04,245.62 1630.02,245.37 1631.00,245.11 1631.98,244.85 1632.96,244.59 1633.95,244.33 1634.93,244.07 1635.91,243.80 1636.89,243.53 1637.87,243.26 1638.85,242.99 1639.84,242.72 1640.82,242.45 1641.80,242.17 1642.78,241.90 1643.76,241.62 1644.74,241.34 1645.73,241.05 1646.71,240.77 1647.69,240.48 1648.67,240.20 1649.65,239.91 1650.63,239.62 1651.62,239.33 1652.60,239.03 1653.58,238.74 1654.56,238.44 1655.54,238.15 1656.52,237.85 1657.51,237.55 1658.49,237.25 1659.47,236.94 1660.45,236.64 1661.43,236.33 1662.41,236.03 1663.40,235.72 1664.38,235.41 1665.36,235.10 1666.34,234.78 1667.32,234.47 1668.30,234.15 1669.29,233.84 1670.27,233.52 1671.25,233.20 1672.23,232.88 1673.21,232.56 1674.19,232.24 1675.18,231.92 1676.16,231.59 1677.14,231.27 1678.12,230.94 1679.10,230.61 1680.08,230.28 1681.07,229.95 1682.05,229.62 1683.03,229.29 1684.01,228.96 1684.99,228.62 1685.97,228.29 1686.96,227.95 1687.94,227.62 1688.92,227.28 1689.90,226.94 1690.88,226.60 1691.86,226.26 1692.85,225.92 1693.83,225.58 1694.81,225.24 1695.79,224.90 1696.77,224.55 1697.75,224.21 1698.74,223.87 1699.72,223.52 1700.70,223.17" fill="none" stroke="#0072BD" stroke-width="5.4" stroke-linejoin="round" stroke-dasharray="22 23" stroke-dashoffset="-3.5" clip-path="url(#clipB)"/>
<polyline points="1014.50,202.78 1015.48,200.93 1016.46,199.08 1017.45,197.22 1018.43,195.37 1019.41,193.52 1020.39,191.68 1021.37,189.83 1022.35,188.00 1023.34,186.16 1024.32,184.33 1025.30,182.51 1026.28,180.69 1027.26,178.88 1028.24,177.08 1029.23,175.28 1030.21,173.50 1031.19,171.72 1032.17,169.95 1033.15,168.19 1034.13,166.44 1035.12,164.71 1036.10,162.98 1037.08,161.27 1038.06,159.57 1039.04,157.88 1040.02,156.20 1041.01,154.54 1041.99,152.90 1042.97,151.27 1043.95,149.65 1044.93,148.05 1045.91,146.47 1046.90,144.90 1047.88,143.35 1048.86,141.82 1049.84,140.30 1050.82,138.81 1051.80,137.33 1052.79,135.87 1053.77,134.43 1054.75,133.01 1055.73,131.62 1056.71,130.24 1057.69,128.88 1058.68,127.55 1059.66,126.24 1060.64,124.95 1061.62,123.68 1062.60,122.44 1063.58,121.22 1064.57,120.02 1065.55,118.85 1066.53,117.71 1067.51,116.59 1068.49,115.49 1069.47,114.42 1070.46,113.38 1071.44,112.37 1072.42,111.38 1073.40,110.43 1074.38,109.50 1075.36,108.60 1076.35,107.73 1077.33,106.89 1078.31,106.08 1079.29,105.31 1080.27,104.56 1081.25,103.85 1082.24,103.17 1083.22,102.52 1084.20,101.91 1085.18,101.33 1086.16,100.78 1087.14,100.27 1088.13,99.80 1089.11,99.36 1090.09,98.95 1091.07,98.58 1092.05,98.25 1093.04,97.96 1094.02,97.70 1095.00,97.48 1095.98,97.29 1096.96,97.15 1097.94,97.04 1098.93,96.97 1099.91,96.93 1100.89,96.94 1101.87,96.98 1102.85,97.06 1103.83,97.18 1104.82,97.33 1105.80,97.53 1106.78,97.76 1107.76,98.03 1108.74,98.33 1109.72,98.67 1110.71,99.05 1111.69,99.46 1112.67,99.91 1113.65,100.40 1114.63,100.92 1115.61,101.47 1116.60,102.06 1117.58,102.68 1118.56,103.34 1119.54,104.03 1120.52,104.75 1121.50,105.50 1122.49,106.28 1123.47,107.10 1124.45,107.95 1125.43,108.82 1126.41,109.73 1127.39,110.66 1128.38,111.63 1129.36,112.62 1130.34,113.64 1131.32,114.69 1132.30,115.76 1133.28,116.86 1134.27,117.99 1135.25,119.14 1136.23,120.32 1137.21,121.52 1138.19,122.74 1139.17,123.99 1140.16,125.27 1141.14,126.56 1142.12,127.88 1143.10,129.22 1144.08,130.58 1145.06,131.96 1146.05,133.37 1147.03,134.79 1148.01,136.23 1148.99,137.70 1149.97,139.18 1150.95,140.68 1151.94,142.20 1152.92,143.74 1153.90,145.29 1154.88,146.86 1155.86,148.45 1156.84,150.05 1157.83,151.67 1158.81,153.31 1159.79,154.96 1160.77,156.62 1161.75,158.30 1162.73,159.99 1163.72,161.69 1164.70,163.41 1165.68,165.14 1166.66,166.88 1167.64,168.63 1168.63,170.39 1169.61,172.16 1170.59,173.94 1171.57,175.73 1172.55,177.53 1173.53,179.33 1174.52,181.15 1175.50,182.96 1176.48,184.79 1177.46,186.62 1178.44,188.46 1179.42,190.29 1180.41,192.14 1181.39,193.99 1182.37,195.84 1183.35,197.69 1184.33,199.54 1185.31,201.39 1186.30,203.25 1187.28,205.10 1188.26,206.96 1189.24,208.81 1190.22,210.66 1191.20,212.50 1192.19,214.35 1193.17,216.19 1194.15,218.03 1195.13,219.86 1196.11,221.68 1197.09,223.50 1198.08,225.31 1199.06,227.12 1200.04,228.92 1201.02,230.71 1202.00,232.49 1202.98,234.26 1203.97,236.02 1204.95,237.76 1205.93,239.50 1206.91,241.23 1207.89,242.94 1208.87,244.64 1209.86,246.33 1210.84,248.00 1211.82,249.66 1212.80,251.31 1213.78,252.93 1214.76,254.55 1215.75,256.14 1216.73,257.72 1217.71,259.28 1218.69,260.82 1219.67,262.34 1220.65,263.85 1221.64,265.33 1222.62,266.79 1223.60,268.24 1224.58,269.66 1225.56,271.06 1226.54,272.44 1227.53,273.79 1228.51,275.12 1229.49,276.43 1230.47,277.72 1231.45,278.98 1232.43,280.22 1233.42,281.43 1234.40,282.61 1235.38,283.77 1236.36,284.91 1237.34,286.02 1238.32,287.10 1239.31,288.15 1240.29,289.18 1241.27,290.17 1242.25,291.14 1243.23,292.09 1244.22,293.00 1245.20,293.88 1246.18,294.74 1247.16,295.56 1248.14,296.35 1249.12,297.12 1250.11,297.85 1251.09,298.55 1252.07,299.22 1253.05,299.87 1254.03,300.47 1255.01,301.05 1256.00,301.60 1256.98,302.11 1257.96,302.59 1258.94,303.04 1259.92,303.46 1260.90,303.84 1261.89,304.20 1262.87,304.52 1263.85,304.80 1264.83,305.06 1265.81,305.28 1266.79,305.46 1267.78,305.62 1268.76,305.74 1269.74,305.82 1270.72,305.88 1271.70,305.90 1272.68,305.89 1273.67,305.84 1274.65,305.76 1275.63,305.65 1276.61,305.50 1277.59,305.33 1278.57,305.11 1279.56,304.87 1280.54,304.59 1281.52,304.28 1282.50,303.94 1283.48,303.56 1284.46,303.15 1285.45,302.71 1286.43,302.24 1287.41,301.73 1288.39,301.19 1289.37,300.62 1290.35,300.02 1291.34,299.39 1292.32,298.72 1293.30,298.03 1294.28,297.30 1295.26,296.55 1296.24,295.76 1297.23,294.94 1298.21,294.10 1299.19,293.22 1300.17,292.32 1301.15,291.38 1302.13,290.42 1303.12,289.43 1304.10,288.41 1305.08,287.36 1306.06,286.29 1307.04,285.19 1308.02,284.06 1309.01,282.91 1309.99,281.73 1310.97,280.52 1311.95,279.29 1312.93,278.04 1313.91,276.76 1314.90,275.45 1315.88,274.13 1316.86,272.78 1317.84,271.40 1318.82,270.01 1319.81,268.59 1320.79,267.16 1321.77,265.70 1322.75,264.22 1323.73,262.72 1324.71,261.20 1325.70,259.66 1326.68,258.11 1327.66,256.54 1328.64,254.95 1329.62,253.34 1330.60,251.71 1331.59,250.08 1332.57,248.42 1333.55,246.75 1334.53,245.07 1335.51,243.37 1336.49,241.66 1337.48,239.94 1338.46,238.20 1339.44,236.45 1340.42,234.70 1341.40,232.93 1342.38,231.15 1343.37,229.36 1344.35,227.57 1345.33,225.77 1346.31,223.96 1347.29,222.14 1348.27,220.31 1349.26,218.48 1350.24,216.65 1351.22,214.81 1352.20,212.97 1353.18,211.12 1354.16,209.27 1355.15,207.42 1356.13,205.57 1357.11,203.72 1358.09,201.92 1359.07,200.18 1360.05,198.44 1361.04,196.70 1362.02,194.96 1363.00,193.22 1363.98,191.49 1364.96,189.76 1365.94,188.03 1366.93,186.31 1367.91,184.59 1368.89,182.88 1369.87,181.17 1370.85,179.47 1371.83,177.78 1372.82,176.09 1373.80,174.41 1374.78,172.74 1375.76,171.08 1376.74,169.43 1377.72,167.78 1378.71,166.15 1379.69,164.53 1380.67,162.92 1381.65,161.32 1382.63,159.73 1383.61,158.15 1384.60,156.59 1385.58,155.04 1386.56,153.50 1387.54,151.98 1388.52,150.48 1389.50,148.99 1390.49,147.51 1391.47,146.05 1392.45,144.61 1393.43,143.18 1394.41,141.78 1395.39,140.39 1396.38,139.02 1397.36,137.66 1398.34,136.33 1399.32,135.02 1400.30,133.73 1401.29,132.45 1402.27,131.20 1403.25,129.97 1404.23,128.76 1405.21,127.58 1406.19,126.42 1407.18,125.28 1408.16,124.16 1409.14,123.07 1410.12,122.00 1411.10,120.95 1412.08,119.93 1413.07,118.94 1414.05,117.97 1415.03,117.02 1416.01,116.10 1416.99,115.21 1417.97,114.34 1418.96,113.50 1419.94,112.69 1420.92,111.90 1421.90,111.14 1422.88,110.40 1423.86,109.69 1424.85,109.01 1425.83,108.36 1426.81,107.70 1427.79,107.07 1428.77,106.46 1429.75,105.88 1430.74,105.33 1431.72,104.81 1432.70,104.33 1433.68,103.87 1434.66,103.45 1435.64,103.05 1436.63,102.69 1437.61,102.35 1438.59,102.05 1439.57,101.77 1440.55,101.53 1441.53,101.32 1442.52,101.14 1443.50,100.99 1444.48,100.87 1445.46,100.78 1446.44,100.72 1447.42,100.69 1448.41,100.69 1449.39,100.72 1450.37,100.79 1451.35,100.88 1452.33,101.01 1453.31,101.17 1454.30,101.36 1455.28,101.58 1456.26,101.83 1457.24,102.12 1458.22,102.43 1459.20,102.78 1460.19,103.16 1461.17,103.57 1462.15,104.02 1463.13,104.49 1464.11,105.00 1465.09,105.54 1466.08,106.11 1467.06,106.72 1468.04,107.35 1469.02,108.02 1470.00,108.72 1470.98,109.45 1471.97,110.21 1472.95,111.01 1473.93,111.83 1474.91,112.68 1475.89,113.57 1476.88,114.48 1477.86,115.43 1478.84,116.40 1479.82,117.40 1480.80,118.44 1481.78,119.50 1482.77,120.59 1483.75,121.70 1484.73,122.84 1485.71,124.02 1486.69,125.21 1487.67,126.43 1488.66,127.68 1489.64,128.96 1490.62,130.25 1491.60,131.58 1492.58,132.92 1493.56,134.29 1494.55,135.68 1495.53,137.09 1496.51,138.53 1497.49,139.99 1498.47,141.46 1499.45,142.96 1500.44,144.48 1501.42,146.01 1502.40,147.57 1503.38,149.14 1504.36,150.73 1505.34,152.34 1506.33,153.96 1507.31,155.60 1508.29,157.26 1509.27,158.93 1510.25,160.61 1511.23,162.31 1512.22,164.02 1513.20,165.74 1514.18,167.48 1515.16,169.22 1516.14,170.98 1517.12,172.75 1518.11,174.53 1519.09,176.32 1520.07,178.11 1521.05,179.92 1522.03,181.73 1523.01,183.54 1524.00,185.37 1524.98,187.20 1525.96,189.03 1526.94,190.87 1527.92,192.71 1528.90,194.56 1529.89,196.41 1530.87,198.26 1531.85,200.11 1532.83,201.97 1533.81,203.82 1534.79,205.67 1535.78,207.53 1536.76,209.38 1537.74,211.23 1538.72,213.07 1539.70,214.91 1540.68,216.75 1541.67,218.59 1542.65,220.42 1543.63,222.24 1544.61,224.06 1545.59,225.87 1546.57,227.67 1547.56,229.47 1548.54,231.25 1549.52,233.03 1550.50,234.80 1551.48,236.55 1552.47,238.30 1553.45,240.03 1554.43,241.76 1555.41,243.47 1556.39,245.16 1557.37,246.84 1558.36,248.51 1559.34,250.17 1560.32,251.81 1561.30,253.43 1562.28,255.04 1563.26,256.62 1564.25,258.20 1565.23,259.75 1566.21,261.29 1567.19,262.80 1568.17,264.30 1569.15,265.78 1570.14,267.24 1571.12,268.67 1572.10,270.09 1573.08,271.48 1574.06,272.85 1575.04,274.20 1576.03,275.53 1577.01,276.83 1577.99,278.11 1578.97,279.36 1579.95,280.59 1580.93,281.79 1581.92,282.97 1582.90,284.12 1583.88,285.25 1584.86,286.35 1585.84,287.42 1586.82,288.47 1587.81,289.49 1588.79,290.47 1589.77,291.44 1590.75,292.37 1591.73,293.27 1592.71,294.15 1593.70,294.99 1594.68,295.81 1595.66,296.59 1596.64,297.34 1597.62,298.07 1598.60,298.76 1599.59,299.42 1600.57,300.06 1601.55,300.65 1602.53,301.22 1603.51,301.76 1604.49,302.26 1605.48,302.73 1606.46,303.17 1607.44,303.58 1608.42,303.96 1609.40,304.30 1610.38,304.61 1611.37,304.88 1612.35,305.13 1613.33,305.34 1614.31,305.51 1615.29,305.66 1616.27,305.77 1617.26,305.84 1618.24,305.89 1619.22,305.90 1620.20,305.88 1621.18,305.82 1622.16,305.73 1623.15,305.61 1624.13,305.45 1625.11,305.26 1626.09,305.04 1627.07,304.79 1628.06,304.50 1629.04,304.18 1630.02,303.82 1631.00,303.44 1631.98,303.02 1632.96,302.57 1633.95,302.08 1634.93,301.57 1635.91,301.02 1636.89,300.44 1637.87,299.83 1638.85,299.19 1639.84,298.51 1640.82,297.81 1641.80,297.08 1642.78,296.31 1643.76,295.51 1644.74,294.69 1645.73,293.83 1646.71,292.62 1647.69,291.24 1648.67,289.72 1649.65,288.08 1650.63,286.34 1651.62,284.52 1652.60,282.63 1653.58,280.71 1654.56,278.75 1655.54,276.79 1656.52,274.85 1657.51,272.93 1658.49,271.06 1659.47,269.26 1660.45,267.55 1661.43,265.94 1662.41,264.45 1663.40,263.10 1664.38,261.88 1665.36,260.78 1666.34,259.80 1667.32,258.92 1668.30,258.15 1669.29,257.46 1670.27,256.87 1671.25,256.34 1672.23,255.89 1673.21,255.51 1674.19,255.17 1675.18,254.89 1676.16,254.64 1677.14,254.42 1678.12,254.23 1679.10,254.06 1680.08,253.89 1681.07,253.73 1682.05,253.56 1683.03,253.38 1684.01,253.20 1684.99,253.00 1685.97,252.80 1686.96,252.59 1687.94,252.38 1688.92,252.15 1689.90,251.93 1690.88,251.69 1691.86,251.46 1692.85,251.22 1693.83,250.97 1694.81,250.72 1695.79,250.47 1696.77,250.22 1697.75,249.96 1698.74,249.71 1699.72,249.45 1700.70,249.19" fill="none" stroke="#D95319" stroke-width="5.4" stroke-linejoin="round" stroke-dasharray="22 23" stroke-dashoffset="-2" clip-path="url(#clipB)"/>
<polyline points="1014.50,202.78 1015.48,200.93 1016.46,199.08 1017.45,197.22 1018.43,195.37 1019.41,193.52 1020.39,191.68 1021.37,189.83 1022.35,187.99 1023.34,186.16 1024.32,184.33 1025.30,182.51 1026.28,180.69 1027.26,178.88 1028.24,177.07 1029.23,175.28 1030.21,173.49 1031.19,171.71 1032.17,169.94 1033.15,168.18 1034.13,166.43 1035.12,164.70 1036.10,162.97 1037.08,161.26 1038.06,159.55 1039.04,157.86 1040.02,156.19 1041.01,154.53 1041.99,152.88 1042.97,151.25 1043.95,149.63 1044.93,148.03 1045.91,146.44 1046.90,144.87 1047.88,143.32 1048.86,141.78 1049.84,140.26 1050.82,138.76 1051.80,137.28 1052.79,135.82 1053.77,134.38 1054.75,132.95 1055.73,131.55 1056.71,130.17 1057.69,128.81 1058.68,127.47 1059.66,126.15 1060.64,124.86 1061.62,123.58 1062.60,122.33 1063.58,121.11 1064.57,119.90 1065.55,118.73 1066.53,117.57 1067.51,116.45 1068.49,115.35 1069.47,114.27 1070.46,113.22 1071.44,112.20 1072.42,111.21 1073.40,110.24 1074.38,109.31 1075.36,108.40 1076.35,107.52 1077.33,106.67 1078.31,105.86 1079.29,105.07 1080.27,104.32 1081.25,103.60 1082.24,102.91 1083.22,102.25 1084.20,101.63 1085.18,101.04 1086.16,100.49 1087.14,99.97 1088.13,99.49 1089.11,99.05 1090.09,98.64 1091.07,98.26 1092.05,97.93 1093.04,97.63 1094.02,97.36 1095.00,97.14 1095.98,96.95 1096.96,96.81 1097.94,96.69 1098.93,96.62 1099.91,96.59 1100.89,96.59 1101.87,96.64 1102.85,96.72 1103.83,96.84 1104.82,97.00 1105.80,97.19 1106.78,97.43 1107.76,97.70 1108.74,98.01 1109.72,98.35 1110.71,98.74 1111.69,99.15 1112.67,99.61 1113.65,100.10 1114.63,100.63 1115.61,101.19 1116.60,101.78 1117.58,102.41 1118.56,103.08 1119.54,103.77 1120.52,104.50 1121.50,105.26 1122.49,106.06 1123.47,106.88 1124.45,107.74 1125.43,108.62 1126.41,109.54 1127.39,110.48 1128.38,111.45 1129.36,112.45 1130.34,113.48 1131.32,114.54 1132.30,115.62 1133.28,116.73 1134.27,117.86 1135.25,119.02 1136.23,120.20 1137.21,121.41 1138.19,122.64 1139.17,123.90 1140.16,125.18 1141.14,126.48 1142.12,127.80 1143.10,129.15 1144.08,130.51 1145.06,131.90 1146.05,133.31 1147.03,134.74 1148.01,136.18 1148.99,137.65 1149.97,139.14 1150.95,140.64 1151.94,142.16 1152.92,143.70 1153.90,145.26 1154.88,146.83 1155.86,148.42 1156.84,150.03 1157.83,151.65 1158.81,153.29 1159.79,154.94 1160.77,156.61 1161.75,158.29 1162.73,159.98 1163.72,161.68 1164.70,163.40 1165.68,165.13 1166.66,166.87 1167.64,168.62 1168.63,170.38 1169.61,172.16 1170.59,173.94 1171.57,175.73 1172.55,177.52 1173.53,179.33 1174.52,181.14 1175.50,182.96 1176.48,184.79 1177.46,186.62 1178.44,188.45 1179.42,190.29 1180.41,192.14 1181.39,193.98 1182.37,195.83 1183.35,197.69 1184.33,199.54 1185.31,201.39 1186.30,203.25 1187.28,205.10 1188.26,206.96 1189.24,208.81 1190.22,210.66 1191.20,212.50 1192.19,214.35 1193.17,216.19 1194.15,218.03 1195.13,219.86 1196.11,221.68 1197.09,223.50 1198.08,225.31 1199.06,227.12 1200.04,228.92 1201.02,230.71 1202.00,232.49 1202.98,234.26 1203.97,236.02 1204.95,237.76 1205.93,239.50 1206.91,241.23 1207.89,242.94 1208.87,244.64 1209.86,246.33 1210.84,248.00 1211.82,249.66 1212.80,251.31 1213.78,252.93 1214.76,254.55 1215.75,256.14 1216.73,257.72 1217.71,259.28 1218.69,260.82 1219.67,262.34 1220.65,263.85 1221.64,265.33 1222.62,266.79 1223.60,268.24 1224.58,269.66 1225.56,271.06 1226.54,272.44 1227.53,273.79 1228.51,275.12 1229.49,276.43 1230.47,277.72 1231.45,278.98 1232.43,280.22 1233.42,281.43 1234.40,282.61 1235.38,283.77 1236.36,284.91 1237.34,286.02 1238.32,287.10 1239.31,288.15 1240.29,289.18 1241.27,290.17 1242.25,291.14 1243.23,292.09 1244.22,293.00 1245.20,293.88 1246.18,294.74 1247.16,295.56 1248.14,296.35 1249.12,297.12 1250.11,297.85 1251.09,298.55 1252.07,299.22 1253.05,299.87 1254.03,300.47 1255.01,301.05 1256.00,301.60 1256.98,302.11 1257.96,302.59 1258.94,303.04 1259.92,303.46 1260.90,303.84 1261.89,304.20 1262.87,304.52 1263.85,304.80 1264.83,305.06 1265.81,305.28 1266.79,305.46 1267.78,305.62 1268.76,305.74 1269.74,305.82 1270.72,305.88 1271.70,305.90 1272.68,305.89 1273.67,305.84 1274.65,305.76 1275.63,305.65 1276.61,305.50 1277.59,305.33 1278.57,305.11 1279.56,304.87 1280.54,304.59 1281.52,304.28 1282.50,303.94 1283.48,303.56 1284.46,303.15 1285.45,302.71 1286.43,302.24 1287.41,301.73 1288.39,301.19 1289.37,300.62 1290.35,300.02 1291.34,299.39 1292.32,298.72 1293.30,298.03 1294.28,297.30 1295.26,296.55 1296.24,295.76 1297.23,294.94 1298.21,294.10 1299.19,293.22 1300.17,292.32 1301.15,291.38 1302.13,290.42 1303.12,289.43 1304.10,288.41 1305.08,287.36 1306.06,286.29 1307.04,285.19 1308.02,284.06 1309.01,282.91 1309.99,281.73 1310.97,280.52 1311.95,279.29 1312.93,278.04 1313.91,276.76 1314.90,275.45 1315.88,274.13 1316.86,272.78 1317.84,271.40 1318.82,270.01 1319.81,268.59 1320.79,267.16 1321.77,265.70 1322.75,264.22 1323.73,262.72 1324.71,261.20 1325.70,259.66 1326.68,258.11 1327.66,256.54 1328.64,254.95 1329.62,253.34 1330.60,251.71 1331.59,250.08 1332.57,248.42 1333.55,246.75 1334.53,245.07 1335.51,243.37 1336.49,241.66 1337.48,239.94 1338.46,238.20 1339.44,236.45 1340.42,234.70 1341.40,232.93 1342.38,231.15 1343.37,229.36 1344.35,227.57 1345.33,225.77 1346.31,223.96 1347.29,222.14 1348.27,220.31 1349.26,218.48 1350.24,216.65 1351.22,214.81 1352.20,212.97 1353.18,211.12 1354.16,209.27 1355.15,207.42 1356.13,205.57 1357.11,203.72 1358.09,201.86 1359.07,200.01 1360.05,198.16 1361.04,196.31 1362.02,194.46 1363.00,192.61 1363.98,190.77 1364.96,188.93 1365.94,187.10 1366.93,185.27 1367.91,183.44 1368.89,181.63 1369.87,179.81 1370.85,178.01 1371.83,176.22 1372.82,174.43 1373.80,172.65 1374.78,170.89 1375.76,169.13 1376.74,167.38 1377.72,165.65 1378.71,163.93 1379.69,162.22 1380.67,160.52 1381.65,158.84 1382.63,157.17 1383.61,155.52 1384.60,153.88 1385.58,152.26 1386.56,150.66 1387.54,149.07 1388.52,147.50 1389.50,145.95 1390.49,144.42 1391.47,142.91 1392.45,141.42 1393.43,139.95 1394.41,138.50 1395.39,137.07 1396.38,135.66 1397.36,134.28 1398.34,132.92 1399.32,131.58 1400.30,130.27 1401.29,128.99 1402.27,127.73 1403.25,126.49 1404.23,125.28 1405.21,124.10 1406.19,122.95 1407.18,121.82 1408.16,120.72 1409.14,119.65 1410.12,118.61 1411.10,117.60 1412.08,116.62 1413.07,115.67 1414.05,114.75 1415.03,113.85 1416.01,112.99 1416.99,112.16 1417.97,111.37 1418.96,110.60 1419.94,109.86 1420.92,109.16 1421.90,108.48 1422.88,107.84 1423.86,107.23 1424.85,106.65 1425.83,106.10 1426.81,105.58 1427.79,105.10 1428.77,104.64 1429.75,104.21 1430.74,103.82 1431.72,103.46 1432.70,103.12 1433.68,102.82 1434.66,102.54 1435.64,102.30 1436.63,102.08 1437.61,101.90 1438.59,101.74 1439.57,101.62 1440.55,101.52 1441.53,101.45 1442.52,101.41 1443.50,101.40 1444.48,101.42 1445.46,101.46 1446.44,101.54 1447.42,101.64 1448.41,101.78 1449.39,101.94 1450.37,102.14 1451.35,102.36 1452.33,102.61 1453.31,102.89 1454.30,103.20 1455.28,103.54 1456.26,103.92 1457.24,104.32 1458.22,104.75 1459.20,105.21 1460.19,105.71 1461.17,106.23 1462.15,106.79 1463.13,107.38 1464.11,108.00 1465.09,108.65 1466.08,109.33 1467.06,110.04 1468.04,110.79 1469.02,111.56 1470.00,112.37 1470.98,113.21 1471.97,114.07 1472.95,114.97 1473.93,115.90 1474.91,116.86 1475.89,117.85 1476.88,118.87 1477.86,119.92 1478.84,120.99 1479.82,122.10 1480.80,123.23 1481.78,124.39 1482.77,125.58 1483.75,126.80 1484.73,128.04 1485.71,129.31 1486.69,130.60 1487.67,131.92 1488.66,133.26 1489.64,134.62 1490.62,136.01 1491.60,137.42 1492.58,138.86 1493.56,140.31 1494.55,141.79 1495.53,143.28 1496.51,144.80 1497.49,146.34 1498.47,147.89 1499.45,149.47 1500.44,151.06 1501.42,152.67 1502.40,154.29 1503.38,155.93 1504.36,157.59 1505.34,159.26 1506.33,160.95 1507.31,162.64 1508.29,164.36 1509.27,166.08 1510.25,167.82 1511.23,169.57 1512.22,171.33 1513.20,173.10 1514.18,174.88 1515.16,176.66 1516.14,178.46 1517.12,180.27 1518.11,182.08 1519.09,183.90 1520.07,185.72 1521.05,187.55 1522.03,189.39 1523.01,191.23 1524.00,193.07 1524.98,194.92 1525.96,196.77 1526.94,198.62 1527.92,200.47 1528.90,202.33 1529.89,204.18 1530.87,206.03 1531.85,207.89 1532.83,209.74 1533.81,211.58 1534.79,213.43 1535.78,215.27 1536.76,217.11 1537.74,218.94 1538.72,220.77 1539.70,222.59 1540.68,224.41 1541.67,226.22 1542.65,228.02 1543.63,229.81 1544.61,231.60 1545.59,233.37 1546.57,235.14 1547.56,236.89 1548.54,238.64 1549.52,240.37 1550.50,242.09 1551.48,243.80 1552.47,245.49 1553.45,247.17 1554.43,248.84 1555.41,250.49 1556.39,252.12 1557.37,253.74 1558.36,255.35 1559.34,256.93 1560.32,258.50 1561.30,260.05 1562.28,261.58 1563.26,263.10 1564.25,264.59 1565.23,266.06 1566.21,267.52 1567.19,268.95 1568.17,270.36 1569.15,271.75 1570.14,273.12 1571.12,274.46 1572.10,275.78 1573.08,277.08 1574.06,278.35 1575.04,279.60 1576.03,280.83 1577.01,282.02 1577.99,283.20 1578.97,284.35 1579.95,285.47 1580.93,286.56 1581.92,287.63 1582.90,288.67 1583.88,289.68 1584.86,290.66 1585.84,291.62 1586.82,292.55 1587.81,293.44 1588.79,294.31 1589.77,295.15 1590.75,295.96 1591.73,296.74 1592.71,297.49 1593.70,298.21 1594.68,298.89 1595.66,299.55 1596.64,300.17 1597.62,300.77 1598.60,301.33 1599.59,301.86 1600.57,302.36 1601.55,302.82 1602.53,303.26 1603.51,303.66 1604.49,304.02 1605.48,304.36 1606.46,304.66 1607.44,304.93 1608.42,305.17 1609.40,305.37 1610.38,305.54 1611.37,305.68 1612.35,305.79 1613.33,305.86 1614.31,305.89 1615.29,305.90 1616.27,305.87 1617.26,305.81 1618.24,305.71 1619.22,305.58 1620.20,305.42 1621.18,305.22 1622.16,305.00 1623.15,304.73 1624.13,304.44 1625.11,304.11 1626.09,303.75 1627.07,303.36 1628.06,302.93 1629.04,302.48 1630.02,301.99 1631.00,301.46 1631.98,300.91 1632.96,300.33 1633.95,299.71 1634.93,299.06 1635.91,298.38 1636.89,297.67 1637.87,296.93 1638.85,296.16 1639.84,295.36 1640.82,294.52 1641.80,293.66 1642.78,292.77 1643.76,291.85 1644.74,290.90 1645.73,289.93 1646.71,288.43 1647.69,286.69 1648.67,284.77 1649.65,282.71 1650.63,280.56 1651.62,278.34 1652.60,276.09 1653.58,273.85 1654.56,271.66 1655.54,269.55 1656.52,267.56 1657.51,265.73 1658.49,264.06 1659.47,262.54 1660.45,261.16 1661.43,259.91 1662.41,258.79 1663.40,257.78 1664.38,256.88 1665.36,256.08 1666.34,255.36 1667.32,254.71 1668.30,254.14 1669.29,253.62 1670.27,253.15 1671.25,252.73 1672.23,252.33 1673.21,251.95 1674.19,251.59 1675.18,251.25 1676.16,250.92 1677.14,250.61 1678.12,250.32 1679.10,250.06 1680.08,249.82 1681.07,249.62 1682.05,249.45 1683.03,249.31 1684.01,249.22 1684.99,249.16 1685.97,249.15 1686.96,249.19 1687.94,249.28 1688.92,249.43 1689.90,249.65 1690.88,249.97 1691.86,250.40 1692.85,250.94 1693.83,251.62 1694.81,252.44 1695.79,253.43 1696.77,254.58 1697.75,255.92 1698.74,257.38 1699.72,258.93 1700.70,260.53" fill="none" stroke="#EDB120" stroke-width="5.4" stroke-linejoin="round" stroke-dasharray="22 23" stroke-dashoffset="-2" clip-path="url(#clipB)"/>
<path d="M1083.12 373.8v-7M1083.12 31.0v7M1151.74 373.8v-7M1151.74 31.0v7M1220.36 373.8v-7M1220.36 31.0v7M1288.98 373.8v-7M1288.98 31.0v7M1357.60 373.8v-7M1357.60 31.0v7M1426.22 373.8v-7M1426.22 31.0v7M1494.84 373.8v-7M1494.84 31.0v7M1563.46 373.8v-7M1563.46 31.0v7M1632.08 373.8v-7M1632.08 31.0v7M1700.70 373.8v-7M1700.70 31.0v7M1016.6 373.80h7M1700.7 373.80h-7M1016.6 305.90h7M1700.7 305.90h-7M1016.6 237.16h7M1700.7 237.16h-7M1016.6 168.42h7M1700.7 168.42h-7M1016.6 99.68h7M1700.7 99.68h-7M1016.6 31.00h7M1700.7 31.00h-7" stroke="#3c3c3c" stroke-width="1.5" fill="none"/>
<rect x="1016.6" y="31.0" width="684.1" height="342.8" fill="none" stroke="#3c3c3c" stroke-width="1.5"/>
<text class="tk" x="1083.12" y="406.1" text-anchor="middle">1</text>
<text class="tk" x="1151.74" y="406.1" text-anchor="middle">2</text>
<text class="tk" x="1220.36" y="406.1" text-anchor="middle">3</text>
<text class="tk" x="1288.98" y="406.1" text-anchor="middle">4</text>
<text class="tk" x="1357.60" y="406.1" text-anchor="middle">5</text>
<text class="tk" x="1426.22" y="406.1" text-anchor="middle">6</text>
<text class="tk" x="1494.84" y="406.1" text-anchor="middle">7</text>
<text class="tk" x="1563.46" y="406.1" text-anchor="middle">8</text>
<text class="tk" x="1632.08" y="406.1" text-anchor="middle">9</text>
<text class="tk" x="1700.70" y="406.1" text-anchor="middle">10</text>
<text class="tk" x="1005.6" y="382.3" text-anchor="end">0</text>
<text class="tk" x="1005.6" y="314.4" text-anchor="end">0.002</text>
<text class="tk" x="1005.6" y="245.7" text-anchor="end">0.004</text>
<text class="tk" x="1005.6" y="176.9" text-anchor="end">0.006</text>
<text class="tk" x="1005.6" y="108.2" text-anchor="end">0.008</text>
<text class="tk" x="1005.6" y="39.5" text-anchor="end">0.01</text>
<path d="M182.12 476.3V819.0M250.64 476.3V819.0M319.16 476.3V819.0M387.68 476.3V819.0M456.20 476.3V819.0M524.72 476.3V819.0M593.24 476.3V819.0M661.76 476.3V819.0M730.28 476.3V819.0M115.7 751.35H798.8M115.7 682.57H798.8M115.7 613.79H798.8M115.7 545.01H798.8" stroke="#dcdcdc" stroke-width="1" fill="none"/>
<polyline points="113.60,648.18 114.58,647.72 115.56,647.25 116.54,646.79 117.52,646.33 118.50,645.86 119.48,645.40 120.46,644.93 121.44,644.47 122.42,644.01 123.40,643.54 124.38,643.08 125.36,642.62 126.34,642.16 127.32,641.69 128.30,641.23 129.28,640.77 130.26,640.30 131.24,639.84 132.22,639.38 133.21,638.92 134.19,638.46 135.17,638.00 136.15,637.53 137.13,637.07 138.11,636.61 139.09,636.15 140.07,635.69 141.05,635.23 142.03,634.77 143.01,634.31 143.99,633.85 144.97,633.39 145.95,632.93 146.93,632.48 147.91,632.02 148.89,631.56 149.87,631.10 150.85,630.65 151.83,630.19 152.81,629.73 153.79,629.28 154.77,628.82 155.75,628.37 156.73,627.91 157.71,627.46 158.69,627.00 159.67,626.55 160.65,626.10 161.63,625.64 162.61,625.19 163.59,624.74 164.57,624.29 165.55,623.84 166.53,623.39 167.51,622.94 168.49,622.49 169.47,622.04 170.45,621.59 171.44,621.14 172.42,620.69 173.40,620.25 174.38,619.80 175.36,619.36 176.34,618.91 177.32,618.47 178.30,618.02 179.28,617.58 180.26,617.14 181.24,616.70 182.22,616.25 183.20,615.81 184.18,615.37 185.16,614.93 186.14,614.50 187.12,614.06 188.10,613.62 189.08,613.18 190.06,612.75 191.04,612.31 192.02,611.88 193.00,611.45 193.98,611.01 194.96,610.58 195.94,610.15 196.92,609.72 197.90,609.29 198.88,608.86 199.86,608.43 200.84,608.00 201.82,607.58 202.80,607.15 203.78,606.73 204.76,606.30 205.74,605.88 206.72,605.46 207.70,605.03 208.68,604.61 209.67,604.19 210.65,603.77 211.63,603.36 212.61,602.94 213.59,602.52 214.57,602.11 215.55,601.69 216.53,601.28 217.51,600.87 218.49,600.46 219.47,600.05 220.45,599.64 221.43,599.23 222.41,598.82 223.39,598.41 224.37,598.01 225.35,597.60 226.33,597.20 227.31,596.80 228.29,596.39 229.27,595.99 230.25,595.59 231.23,595.20 232.21,594.80 233.19,594.40 234.17,594.01 235.15,593.61 236.13,593.22 237.11,592.83 238.09,592.44 239.07,592.05 240.05,591.66 241.03,591.27 242.01,590.89 242.99,590.50 243.97,590.12 244.95,589.73 245.93,589.35 246.92,588.97 247.90,588.59 248.88,588.22 249.86,587.84 250.84,587.46 251.82,587.09 252.80,586.72 253.78,586.34 254.76,585.97 255.74,585.60 256.72,585.24 257.70,584.87 258.68,584.50 259.66,584.14 260.64,583.78 261.62,583.42 262.60,583.06 263.58,582.70 264.56,582.34 265.54,581.98 266.52,581.63 267.50,581.27 268.48,580.92 269.46,580.57 270.44,580.22 271.42,579.87 272.40,579.53 273.38,579.18 274.36,578.84 275.34,578.49 276.32,578.15 277.30,577.81 278.28,577.47 279.26,577.14 280.24,576.80 281.22,576.47 282.20,576.14 283.18,575.80 284.16,575.47 285.15,575.15 286.13,574.82 287.11,574.49 288.09,574.17 289.07,573.85 290.05,573.53 291.03,573.21 292.01,572.89 292.99,572.57 293.97,572.26 294.95,571.95 295.93,571.63 296.91,571.32 297.89,571.02 298.87,570.71 299.85,570.40 300.83,570.10 301.81,569.80 302.79,569.50 303.77,569.20 304.75,568.90 305.73,568.60 306.71,568.31 307.69,568.02 308.67,567.73 309.65,567.44 310.63,567.15 311.61,566.86 312.59,566.58 313.57,566.29 314.55,566.01 315.53,565.73 316.51,565.46 317.49,565.18 318.47,564.90 319.45,564.63 320.43,564.36 321.41,564.09 322.39,563.82 323.38,563.56 324.36,563.29 325.34,563.03 326.32,562.77 327.30,562.51 328.28,562.25 329.26,562.00 330.24,561.74 331.22,561.49 332.20,561.24 333.18,560.99 334.16,560.74 335.14,560.50 336.12,560.26 337.10,560.01 338.08,559.77 339.06,559.54 340.04,559.30 341.02,559.06 342.00,558.83 342.98,558.60 343.96,558.37 344.94,558.14 345.92,557.92 346.90,557.70 347.88,557.47 348.86,557.25 349.84,557.04 350.82,556.82 351.80,556.60 352.78,556.39 353.76,556.18 354.74,555.97 355.72,555.77 356.70,555.56 357.68,555.36 358.66,555.16 359.64,554.96 360.62,554.76 361.61,554.56 362.59,554.37 363.57,554.18 364.55,553.99 365.53,553.80 366.51,553.61 367.49,553.43 368.47,553.24 369.45,553.06 370.43,552.89 371.41,552.71 372.39,552.53 373.37,552.36 374.35,552.19 375.33,552.02 376.31,551.85 377.29,551.69 378.27,551.53 379.25,551.36 380.23,551.21 381.21,551.05 382.19,550.89 383.17,550.74 384.15,550.59 385.13,550.44 386.11,550.29 387.09,550.15 388.07,550.00 389.05,549.86 390.03,549.72 391.01,549.58 391.99,549.45 392.97,549.31 393.95,549.18 394.93,549.05 395.91,548.93 396.89,548.80 397.87,548.68 398.85,548.56 399.84,548.44 400.82,548.32 401.80,548.20 402.78,548.09 403.76,547.98 404.74,547.87 405.72,547.76 406.70,547.66 407.68,547.55 408.66,547.45 409.64,547.35 410.62,547.25 411.60,547.16 412.58,547.07 413.56,546.98 414.54,546.89 415.52,546.80 416.50,546.71 417.48,546.63 418.46,546.55 419.44,546.47 420.42,546.40 421.40,546.32 422.38,546.25 423.36,546.18 424.34,546.11 425.32,546.04 426.30,545.98 427.28,545.92 428.26,545.86 429.24,545.80 430.22,545.74 431.20,545.69 432.18,545.63 433.16,545.58 434.14,545.54 435.12,545.49 436.10,545.45 437.08,545.41 438.07,545.37 439.05,545.33 440.03,545.29 441.01,545.26 441.99,545.23 442.97,545.20 443.95,545.17 444.93,545.15 445.91,545.12 446.89,545.10 447.87,545.09 448.85,545.07 449.83,545.05 450.81,545.04 451.79,545.03 452.77,545.02 453.75,545.02 454.73,545.01 455.71,545.01 456.69,545.01 457.67,545.01 458.65,545.02 459.63,545.02 460.61,545.03 461.59,545.04 462.57,545.05 463.55,545.07 464.53,545.09 465.51,545.10 466.49,545.12 467.47,545.15 468.45,545.17 469.43,545.20 470.41,545.23 471.39,545.26 472.37,545.29 473.35,545.33 474.33,545.37 475.32,545.41 476.30,545.45 477.28,545.49 478.26,545.54 479.24,545.58 480.22,545.63 481.20,545.69 482.18,545.74 483.16,545.80 484.14,545.86 485.12,545.92 486.10,545.98 487.08,546.04 488.06,546.11 489.04,546.18 490.02,546.25 491.00,546.32 491.98,546.40 492.96,546.47 493.94,546.55 494.92,546.63 495.90,546.71 496.88,546.80 497.86,546.89 498.84,546.98 499.82,547.07 500.80,547.16 501.78,547.25 502.76,547.35 503.74,547.45 504.72,547.55 505.70,547.66 506.68,547.76 507.66,547.87 508.64,547.98 509.62,548.09 510.60,548.20 511.58,548.32 512.56,548.44 513.55,548.56 514.53,548.68 515.51,548.80 516.49,548.93 517.47,549.05 518.45,549.18 519.43,549.31 520.41,549.45 521.39,549.58 522.37,549.72 523.35,549.86 524.33,550.00 525.31,550.15 526.29,550.29 527.27,550.44 528.25,550.59 529.23,550.74 530.21,550.89 531.19,551.05 532.17,551.21 533.15,551.36 534.13,551.53 535.11,551.69 536.09,551.85 537.07,552.02 538.05,552.19 539.03,552.36 540.01,552.53 540.99,552.71 541.97,552.89 542.95,553.06 543.93,553.24 544.91,553.43 545.89,553.61 546.87,553.80 547.85,553.99 548.83,554.18 549.81,554.37 550.79,554.56 551.78,554.76 552.76,554.96 553.74,555.16 554.72,555.36 555.70,555.56 556.68,555.77 557.66,555.97 558.64,556.18 559.62,556.39 560.60,556.60 561.58,556.82 562.56,557.04 563.54,557.25 564.52,557.47 565.50,557.70 566.48,557.92 567.46,558.14 568.44,558.37 569.42,558.60 570.40,558.83 571.38,559.06 572.36,559.30 573.34,559.54 574.32,559.77 575.30,560.01 576.28,560.26 577.26,560.50 578.24,560.74 579.22,560.99 580.20,561.24 581.18,561.49 582.16,561.74 583.14,562.00 584.12,562.25 585.10,562.51 586.08,562.77 587.06,563.03 588.04,563.29 589.02,563.56 590.01,563.82 590.99,564.09 591.97,564.36 592.95,564.63 593.93,564.90 594.91,565.18 595.89,565.46 596.87,565.73 597.85,566.01 598.83,566.29 599.81,566.58 600.79,566.86 601.77,567.15 602.75,567.44 603.73,567.73 604.71,568.02 605.69,568.31 606.67,568.60 607.65,568.90 608.63,569.20 609.61,569.50 610.59,569.80 611.57,570.10 612.55,570.40 613.53,570.71 614.51,571.02 615.49,571.32 616.47,571.63 617.45,571.95 618.43,572.26 619.41,572.57 620.39,572.89 621.37,573.21 622.35,573.53 623.33,573.85 624.31,574.17 625.29,574.49 626.27,574.82 627.25,575.15 628.24,575.47 629.22,575.80 630.20,576.14 631.18,576.47 632.16,576.80 633.14,577.14 634.12,577.47 635.10,577.81 636.08,578.15 637.06,578.49 638.04,578.84 639.02,579.18 640.00,579.53 640.98,579.87 641.96,580.22 642.94,580.57 643.92,580.92 644.90,581.27 645.88,581.63 646.86,581.98 647.84,582.34 648.82,582.70 649.80,583.06 650.78,583.42 651.76,583.78 652.74,584.14 653.72,584.50 654.70,584.87 655.68,585.24 656.66,585.60 657.64,585.97 658.62,586.34 659.60,586.72 660.58,587.09 661.56,587.46 662.54,587.84 663.52,588.22 664.50,588.59 665.48,588.97 666.47,589.35 667.45,589.73 668.43,590.12 669.41,590.50 670.39,590.89 671.37,591.27 672.35,591.66 673.33,592.05 674.31,592.44 675.29,592.83 676.27,593.22 677.25,593.61 678.23,594.01 679.21,594.40 680.19,594.80 681.17,595.20 682.15,595.59 683.13,595.99 684.11,596.39 685.09,596.80 686.07,597.20 687.05,597.60 688.03,598.01 689.01,598.41 689.99,598.82 690.97,599.23 691.95,599.64 692.93,600.05 693.91,600.46 694.89,600.87 695.87,601.28 696.85,601.69 697.83,602.11 698.81,602.52 699.79,602.94 700.77,603.36 701.75,603.77 702.73,604.19 703.72,604.61 704.70,605.03 705.68,605.46 706.66,605.88 707.64,606.30 708.62,606.73 709.60,607.15 710.58,607.58 711.56,608.00 712.54,608.43 713.52,608.86 714.50,609.29 715.48,609.72 716.46,610.15 717.44,610.58 718.42,611.01 719.40,611.45 720.38,611.88 721.36,612.31 722.34,612.75 723.32,613.18 724.30,613.62 725.28,614.06 726.26,614.50 727.24,614.93 728.22,615.37 729.20,615.81 730.18,616.25 731.16,616.70 732.14,617.14 733.12,617.58 734.10,618.02 735.08,618.47 736.06,618.91 737.04,619.36 738.02,619.80 739.00,620.25 739.98,620.69 740.96,621.14 741.95,621.59 742.93,622.04 743.91,622.49 744.89,622.94 745.87,623.39 746.85,623.84 747.83,624.29 748.81,624.74 749.79,625.19 750.77,625.64 751.75,626.10 752.73,626.55 753.71,627.00 754.69,627.46 755.67,627.91 756.65,628.37 757.63,628.82 758.61,629.28 759.59,629.73 760.57,630.19 761.55,630.65 762.53,631.10 763.51,631.56 764.49,632.02 765.47,632.48 766.45,632.93 767.43,633.39 768.41,633.85 769.39,634.31 770.37,634.77 771.35,635.23 772.33,635.69 773.31,636.15 774.29,636.61 775.27,637.07 776.25,637.53 777.23,638.00 778.21,638.46 779.19,638.92 780.18,639.38 781.16,639.84 782.14,640.30 783.12,640.77 784.10,641.23 785.08,641.69 786.06,642.16 787.04,642.62 788.02,643.08 789.00,643.54 789.98,644.01 790.96,644.47 791.94,644.93 792.92,645.40 793.90,645.86 794.88,646.33 795.86,646.79 796.84,647.25 797.82,647.72 798.80,648.18" fill="none" stroke="#000" stroke-width="3.2" stroke-linejoin="round" clip-path="url(#clipC)"/>
<polyline points="113.60,648.18 114.58,647.72 115.56,647.25 116.54,646.79 117.52,646.33 118.50,645.86 119.48,645.40 120.46,644.93 121.44,644.47 122.42,644.01 123.40,643.54 124.38,643.08 125.36,642.62 126.34,642.16 127.32,641.69 128.30,641.23 129.28,640.77 130.26,640.30 131.24,639.84 132.22,639.38 133.21,638.92 134.19,638.46 135.17,638.00 136.15,637.53 137.13,637.07 138.11,636.61 139.09,636.15 140.07,635.69 141.05,635.23 142.03,634.77 143.01,634.31 143.99,633.85 144.97,633.39 145.95,632.93 146.93,632.48 147.91,632.02 148.89,631.56 149.87,631.10 150.85,630.65 151.83,630.19 152.81,629.73 153.79,629.28 154.77,628.82 155.75,628.37 156.73,627.91 157.71,627.46 158.69,627.00 159.67,626.55 160.65,626.10 161.63,625.64 162.61,625.19 163.59,624.74 164.57,624.29 165.55,623.84 166.53,623.39 167.51,622.94 168.49,622.49 169.47,622.04 170.45,621.59 171.44,621.14 172.42,620.69 173.40,620.25 174.38,619.80 175.36,619.36 176.34,618.91 177.32,618.47 178.30,618.02 179.28,617.58 180.26,617.14 181.24,616.70 182.22,616.25 183.20,615.81 184.18,615.37 185.16,614.93 186.14,614.50 187.12,614.06 188.10,613.62 189.08,613.18 190.06,612.75 191.04,612.31 192.02,611.88 193.00,611.45 193.98,611.01 194.96,610.58 195.94,610.15 196.92,609.72 197.90,609.29 198.88,608.86 199.86,608.43 200.84,608.00 201.82,607.58 202.80,607.15 203.78,606.73 204.76,606.30 205.74,605.88 206.72,605.46 207.70,605.03 208.68,604.61 209.67,604.19 210.65,603.77 211.63,603.36 212.61,602.94 213.59,602.52 214.57,602.11 215.55,601.69 216.53,601.28 217.51,600.87 218.49,600.46 219.47,600.05 220.45,599.64 221.43,599.23 222.41,598.82 223.39,598.41 224.37,598.01 225.35,597.60 226.33,597.20 227.31,596.80 228.29,596.39 229.27,595.99 230.25,595.59 231.23,595.20 232.21,594.80 233.19,594.40 234.17,594.01 235.15,593.61 236.13,593.22 237.11,592.83 238.09,592.44 239.07,592.05 240.05,591.66 241.03,591.27 242.01,590.89 242.99,590.50 243.97,590.12 244.95,589.73 245.93,589.35 246.92,588.97 247.90,588.59 248.88,588.22 249.86,587.84 250.84,587.46 251.82,587.09 252.80,586.72 253.78,586.34 254.76,585.97 255.74,585.60 256.72,585.24 257.70,584.87 258.68,584.50 259.66,584.14 260.64,583.78 261.62,583.42 262.60,583.06 263.58,582.70 264.56,582.34 265.54,581.98 266.52,581.63 267.50,581.27 268.48,580.92 269.46,580.57 270.44,580.22 271.42,579.87 272.40,579.53 273.38,579.18 274.36,578.84 275.34,578.49 276.32,578.15 277.30,577.81 278.28,577.47 279.26,577.14 280.24,576.80 281.22,576.47 282.20,576.14 283.18,575.80 284.16,575.47 285.15,575.15 286.13,574.82 287.11,574.49 288.09,574.17 289.07,573.85 290.05,573.53 291.03,573.21 292.01,572.89 292.99,572.57 293.97,572.26 294.95,571.95 295.93,571.63 296.91,571.32 297.89,571.02 298.87,570.71 299.85,570.40 300.83,570.10 301.81,569.80 302.79,569.50 303.77,569.20 304.75,568.90 305.73,568.60 306.71,568.31 307.69,568.02 308.67,567.73 309.65,567.44 310.63,567.15 311.61,566.86 312.59,566.58 313.57,566.29 314.55,566.01 315.53,565.73 316.51,565.46 317.49,565.18 318.47,564.90 319.45,564.63 320.43,564.36 321.41,564.09 322.39,563.82 323.38,563.56 324.36,563.29 325.34,563.03 326.32,562.77 327.30,562.51 328.28,562.25 329.26,562.00 330.24,561.74 331.22,561.49 332.20,561.24 333.18,560.99 334.16,560.74 335.14,560.50 336.12,560.26 337.10,560.01 338.08,559.77 339.06,559.54 340.04,559.30 341.02,559.06 342.00,558.83 342.98,558.60 343.96,558.37 344.94,558.14 345.92,557.92 346.90,557.70 347.88,557.47 348.86,557.25 349.84,557.04 350.82,556.82 351.80,556.60 352.78,556.39 353.76,556.18 354.74,555.97 355.72,555.77 356.70,555.56 357.68,555.36 358.66,555.16 359.64,554.96 360.62,554.76 361.61,554.56 362.59,554.37 363.57,554.18 364.55,553.99 365.53,553.80 366.51,553.61 367.49,553.43 368.47,553.24 369.45,553.06 370.43,552.89 371.41,552.71 372.39,552.53 373.37,552.36 374.35,552.19 375.33,552.02 376.31,551.85 377.29,551.69 378.27,551.53 379.25,551.36 380.23,551.21 381.21,551.05 382.19,550.89 383.17,550.74 384.15,550.59 385.13,550.44 386.11,550.29 387.09,550.15 388.07,550.00 389.05,549.86 390.03,549.72 391.01,549.58 391.99,549.45 392.97,549.31 393.95,549.18 394.93,549.05 395.91,548.93 396.89,548.80 397.87,548.68 398.85,548.56 399.84,548.44 400.82,548.32 401.80,548.20 402.78,548.09 403.76,547.98 404.74,547.87 405.72,547.76 406.70,547.66 407.68,547.55 408.66,547.45 409.64,547.35 410.62,547.25 411.60,547.16 412.58,547.07 413.56,546.98 414.54,546.89 415.52,546.80 416.50,546.71 417.48,546.63 418.46,546.55 419.44,546.47 420.42,546.40 421.40,546.32 422.38,546.25 423.36,546.18 424.34,546.11 425.32,546.04 426.30,545.98 427.28,545.92 428.26,545.86 429.24,545.80 430.22,545.74 431.20,545.69 432.18,545.63 433.16,545.58 434.14,545.54 435.12,545.49 436.10,545.45 437.08,545.41 438.07,545.37 439.05,545.33 440.03,545.29 441.01,545.26 441.99,545.23 442.97,545.20 443.95,545.17 444.93,545.15 445.91,545.12 446.89,545.10 447.87,545.09 448.85,545.07 449.83,545.05 450.81,545.04 451.79,545.03 452.77,545.02 453.75,545.02 454.73,545.01 455.71,545.01 456.69,545.01 457.67,545.01 458.65,545.02 459.63,545.02 460.61,545.03 461.59,545.04 462.57,545.05 463.55,545.06 464.53,545.08 465.51,545.09 466.49,545.11 467.47,545.13 468.45,545.15 469.43,545.17 470.41,545.20 471.39,545.23 472.37,545.26 473.35,545.29 474.33,545.32 475.32,545.35 476.30,545.39 477.28,545.43 478.26,545.47 479.24,545.51 480.22,545.56 481.20,545.60 482.18,545.65 483.16,545.70 484.14,545.75 485.12,545.80 486.10,545.86 487.08,545.91 488.06,545.97 489.04,546.03 490.02,546.09 491.00,546.16 491.98,546.22 492.96,546.29 493.94,546.36 494.92,546.43 495.90,546.51 496.88,546.58 497.86,546.66 498.84,546.74 499.82,546.82 500.80,546.90 501.78,546.99 502.76,547.07 503.74,547.16 504.72,547.25 505.70,547.34 506.68,547.44 507.66,547.53 508.64,547.63 509.62,547.73 510.60,547.83 511.58,547.93 512.56,548.04 513.55,548.15 514.53,548.26 515.51,548.37 516.49,548.48 517.47,548.59 518.45,548.71 519.43,548.83 520.41,548.95 521.39,549.07 522.37,549.19 523.35,549.32 524.33,549.45 525.31,549.58 526.29,549.71 527.27,549.84 528.25,549.97 529.23,550.11 530.21,550.25 531.19,550.39 532.17,550.53 533.15,550.68 534.13,550.82 535.11,550.97 536.09,551.12 537.07,551.27 538.05,551.42 539.03,551.58 540.01,551.74 540.99,551.90 541.97,552.06 542.95,552.22 543.93,552.38 544.91,552.55 545.89,552.72 546.87,552.89 547.85,553.06 548.83,553.23 549.81,553.41 550.79,553.59 551.78,553.77 552.76,553.95 553.74,554.13 554.72,554.31 555.70,554.50 556.68,554.69 557.66,554.88 558.64,555.07 559.62,555.26 560.60,555.46 561.58,555.66 562.56,555.86 563.54,556.06 564.52,556.26 565.50,556.47 566.48,556.67 567.46,556.88 568.44,557.09 569.42,557.30 570.40,557.52 571.38,557.73 572.36,557.95 573.34,558.17 574.32,558.39 575.30,558.61 576.28,558.83 577.26,559.06 578.24,559.29 579.22,559.52 580.20,559.75 581.18,559.98 582.16,560.22 583.14,560.45 584.12,560.69 585.10,560.93 586.08,561.18 587.06,561.42 588.04,561.66 589.02,561.91 590.01,562.16 590.99,562.41 591.97,562.66 592.95,562.92 593.93,563.17 594.91,563.43 595.89,563.69 596.87,563.94 597.85,564.20 598.83,564.46 599.81,564.72 600.79,564.98 601.77,565.24 602.75,565.50 603.73,565.77 604.71,566.03 605.69,566.30 606.67,566.56 607.65,566.83 608.63,567.10 609.61,567.36 610.59,567.63 611.57,567.91 612.55,568.18 613.53,568.45 614.51,568.73 615.49,569.00 616.47,569.28 617.45,569.56 618.43,569.84 619.41,570.12 620.39,570.40 621.37,570.69 622.35,570.97 623.33,571.26 624.31,571.55 625.29,571.84 626.27,572.13 627.25,572.43 628.24,572.72 629.22,573.02 630.20,573.32 631.18,573.62 632.16,573.92 633.14,574.23 634.12,574.53 635.10,574.84 636.08,575.15 637.06,575.46 638.04,575.78 639.02,576.10 640.00,576.41 640.98,576.74 641.96,577.06 642.94,577.38 643.92,577.71 644.90,578.04 645.88,578.37 646.86,578.71 647.84,579.04 648.82,579.38 649.80,579.72 650.78,580.07 651.76,580.42 652.74,580.76 653.72,581.12 654.70,581.47 655.68,581.83 656.66,582.19 657.64,582.55 658.62,582.91 659.60,583.28 660.58,583.65 661.56,584.02 662.54,584.40 663.52,584.78 664.50,585.15 665.48,585.53 666.47,585.91 667.45,586.30 668.43,586.68 669.41,587.06 670.39,587.45 671.37,587.83 672.35,588.22 673.33,588.61 674.31,589.00 675.29,589.39 676.27,589.78 677.25,590.17 678.23,590.57 679.21,590.96 680.19,591.36 681.17,591.76 682.15,592.16 683.13,592.55 684.11,592.96 685.09,593.36 686.07,593.76 687.05,594.16 688.03,594.57 689.01,594.97 689.99,595.38 690.97,595.79 691.95,596.20 692.93,596.61 693.91,597.02 694.89,597.43 695.87,597.84 696.85,598.25 697.83,598.67 698.81,599.08 699.79,599.50 700.77,599.92 701.75,600.34 702.73,600.75 703.72,601.17 704.70,601.60 705.68,602.02 706.66,602.44 707.64,602.86 708.62,603.29 709.60,603.71 710.58,604.14 711.56,604.56 712.54,604.99 713.52,605.42 714.50,605.85 715.48,606.28 716.46,606.71 717.44,607.14 718.42,607.57 719.40,608.01 720.38,608.44 721.36,608.87 722.34,609.31 723.32,609.75 724.30,610.18 725.28,610.62 726.26,611.06 727.24,611.50 728.22,611.94 729.20,612.38 730.18,612.82 731.16,613.26 732.14,613.70 733.12,614.14 734.10,614.58 735.08,615.03 736.06,615.47 737.04,615.92 738.02,616.36 739.00,616.81 739.98,617.26 740.96,617.70 741.95,618.15 742.93,618.60 743.91,619.05 744.89,619.50 745.87,619.95 746.85,620.40 747.83,620.85 748.81,621.30 749.79,621.75 750.77,622.20 751.75,622.66 752.73,623.11 753.71,623.56 754.69,624.02 755.67,624.47 756.65,624.93 757.63,625.38 758.61,625.84 759.59,626.29 760.57,626.75 761.55,627.21 762.53,627.66 763.51,628.12 764.49,628.58 765.47,629.04 766.45,629.50 767.43,629.95 768.41,630.41 769.39,630.87 770.37,631.33 771.35,631.79 772.33,632.25 773.31,632.71 774.29,633.17 775.27,633.63 776.25,634.10 777.23,634.56 778.21,635.02 779.19,635.49 780.18,635.97 781.16,636.46 782.14,636.96 783.12,637.48 784.10,638.00 785.08,638.53 786.06,639.07 787.04,639.62 788.02,640.17 789.00,640.73 789.98,641.30 790.96,641.87 791.94,642.44 792.92,643.01 793.90,643.59 794.88,644.16 795.86,644.74 796.84,645.31 797.82,645.89 798.80,646.46" fill="none" stroke="#0072BD" stroke-width="5.4" stroke-linejoin="round" stroke-dasharray="22 23" stroke-dashoffset="-1" clip-path="url(#clipC)"/>
<polyline points="113.60,650.24 114.58,649.77 115.56,649.31 116.54,648.84 117.52,648.37 118.50,647.90 119.48,647.43 120.46,646.96 121.44,646.50 122.42,646.03 123.40,645.56 124.38,645.09 125.36,644.62 126.34,644.15 127.32,643.69 128.30,643.22 129.28,642.75 130.26,642.28 131.24,641.82 132.22,641.35 133.21,640.88 134.19,640.42 135.17,639.95 136.15,639.48 137.13,639.02 138.11,638.55 139.09,638.09 140.07,637.62 141.05,637.16 142.03,636.69 143.01,636.23 143.99,635.76 144.97,635.30 145.95,634.84 146.93,634.37 147.91,633.91 148.89,633.45 149.87,632.98 150.85,632.52 151.83,632.06 152.81,631.60 153.79,631.14 154.77,630.68 155.75,630.22 156.73,629.76 157.71,629.30 158.69,628.84 159.67,628.38 160.65,627.92 161.63,627.46 162.61,627.01 163.59,626.55 164.57,626.09 165.55,625.64 166.53,625.18 167.51,624.73 168.49,624.27 169.47,623.82 170.45,623.37 171.44,622.92 172.42,622.46 173.40,622.01 174.38,621.56 175.36,621.11 176.34,620.66 177.32,620.21 178.30,619.76 179.28,619.31 180.26,618.87 181.24,618.42 182.22,617.97 183.20,617.53 184.18,617.08 185.16,616.64 186.14,616.20 187.12,615.75 188.10,615.31 189.08,614.87 190.06,614.43 191.04,613.99 192.02,613.55 193.00,613.11 193.98,612.67 194.96,612.24 195.94,611.80 196.92,611.36 197.90,610.93 198.88,610.49 199.86,610.06 200.84,609.63 201.82,609.20 202.80,608.77 203.78,608.34 204.76,607.91 205.74,607.48 206.72,607.05 207.70,606.63 208.68,606.20 209.67,605.77 210.65,605.35 211.63,604.93 212.61,604.51 213.59,604.08 214.57,603.66 215.55,603.25 216.53,602.83 217.51,602.41 218.49,601.99 219.47,601.58 220.45,601.16 221.43,600.75 222.41,600.34 223.39,599.92 224.37,599.51 225.35,599.10 226.33,598.70 227.31,598.29 228.29,597.88 229.27,597.48 230.25,597.07 231.23,596.67 232.21,596.27 233.19,595.87 234.17,595.47 235.15,595.07 236.13,594.67 237.11,594.27 238.09,593.88 239.07,593.48 240.05,593.09 241.03,592.70 242.01,592.30 242.99,591.91 243.97,591.53 244.95,591.14 245.93,590.75 246.92,590.37 247.90,589.98 248.88,589.60 249.86,589.22 250.84,588.84 251.82,588.46 252.80,588.08 253.78,587.70 254.76,587.33 255.74,586.96 256.72,586.58 257.70,586.21 258.68,585.84 259.66,585.47 260.64,585.11 261.62,584.74 262.60,584.37 263.58,584.01 264.56,583.65 265.54,583.29 266.52,582.93 267.50,582.57 268.48,582.22 269.46,581.86 270.44,581.51 271.42,581.15 272.40,580.80 273.38,580.45 274.36,580.11 275.34,579.76 276.32,579.41 277.30,579.07 278.28,578.73 279.26,578.39 280.24,578.05 281.22,577.71 282.20,577.37 283.18,577.04 284.16,576.70 285.15,576.37 286.13,576.04 287.11,575.71 288.09,575.38 289.07,575.05 290.05,574.73 291.03,574.41 292.01,574.08 292.99,573.76 293.97,573.44 294.95,573.12 295.93,572.81 296.91,572.49 297.89,572.18 298.87,571.87 299.85,571.56 300.83,571.25 301.81,570.94 302.79,570.63 303.77,570.33 304.75,570.03 305.73,569.72 306.71,569.42 307.69,569.13 308.67,568.83 309.65,568.53 310.63,568.24 311.61,567.95 312.59,567.66 313.57,567.37 314.55,567.08 315.53,566.79 316.51,566.51 317.49,566.22 318.47,565.94 319.45,565.66 320.43,565.38 321.41,565.10 322.39,564.83 323.38,564.55 324.36,564.27 325.34,564.00 326.32,563.73 327.30,563.45 328.28,563.18 329.26,562.91 330.24,562.64 331.22,562.38 332.20,562.11 333.18,561.84 334.16,561.58 335.14,561.32 336.12,561.06 337.10,560.80 338.08,560.54 339.06,560.28 340.04,560.03 341.02,559.77 342.00,559.52 342.98,559.27 343.96,559.02 344.94,558.77 345.92,558.53 346.90,558.28 347.88,558.04 348.86,557.80 349.84,557.56 350.82,557.32 351.80,557.09 352.78,556.86 353.76,556.63 354.74,556.40 355.72,556.17 356.70,555.94 357.68,555.72 358.66,555.50 359.64,555.28 360.62,555.06 361.61,554.85 362.59,554.64 363.57,554.43 364.55,554.22 365.53,554.02 366.51,553.81 367.49,553.61 368.47,553.41 369.45,553.22 370.43,553.02 371.41,552.83 372.39,552.65 373.37,552.46 374.35,552.28 375.33,552.10 376.31,551.92 377.29,551.74 378.27,551.57 379.25,551.40 380.23,551.23 381.21,551.07 382.19,550.91 383.17,550.75 384.15,550.59 385.13,550.44 386.11,550.29 387.09,550.15 388.07,550.00 389.05,549.87 390.03,549.74 391.01,549.62 391.99,549.50 392.97,549.39 393.95,549.29 394.93,549.20 395.91,549.11 396.89,549.02 397.87,548.94 398.85,548.87 399.84,548.80 400.82,548.73 401.80,548.67 402.78,548.61 403.76,548.56 404.74,548.51 405.72,548.46 406.70,548.42 407.68,548.38 408.66,548.34 409.64,548.30 410.62,548.26 411.60,548.23 412.58,548.19 413.56,548.16 414.54,548.13 415.52,548.10 416.50,548.06 417.48,548.03 418.46,548.00 419.44,547.96 420.42,547.93 421.40,547.89 422.38,547.85 423.36,547.81 424.34,547.77 425.32,547.73 426.30,547.68 427.28,547.63 428.26,547.57 429.24,547.52 430.22,547.45 431.20,547.36 432.18,547.27 433.16,547.17 434.14,547.06 435.12,546.94 436.10,546.81 437.08,546.67 438.07,546.53 439.05,546.38 440.03,546.22 441.01,546.06 441.99,545.89 442.97,545.72 443.95,545.55 444.93,545.37 445.91,545.19 446.89,545.01 447.87,544.83 448.85,544.64 449.83,544.46 450.81,544.28 451.79,544.10 452.77,543.92 453.75,543.74 454.73,543.57 455.71,543.40 456.69,543.23 457.67,543.07 458.65,542.92 459.63,542.77 460.61,542.63 461.59,542.49 462.57,542.37 463.55,542.25 464.53,542.14 465.51,542.04 466.49,541.95 467.47,541.86 468.45,541.76 469.43,541.67 470.41,541.58 471.39,541.48 472.37,541.39 473.35,541.30 474.33,541.21 475.32,541.12 476.30,541.03 477.28,540.94 478.26,540.85 479.24,540.77 480.22,540.69 481.20,540.61 482.18,540.53 483.16,540.46 484.14,540.39 485.12,540.32 486.10,540.26 487.08,540.20 488.06,540.15 489.04,540.10 490.02,540.05 491.00,540.01 491.98,539.97 492.96,539.95 493.94,539.92 494.92,539.90 495.90,539.89 496.88,539.89 497.86,539.89 498.84,539.90 499.82,539.91 500.80,539.94 501.78,539.97 502.76,540.01 503.74,540.06 504.72,540.11 505.70,540.18 506.68,540.25 507.66,540.33 508.64,540.42 509.62,540.53 510.60,540.64 511.58,540.77 512.56,540.91 513.55,541.08 514.53,541.26 515.51,541.46 516.49,541.67 517.47,541.90 518.45,542.14 519.43,542.40 520.41,542.68 521.39,542.96 522.37,543.26 523.35,543.57 524.33,543.89 525.31,544.23 526.29,544.57 527.27,544.93 528.25,545.29 529.23,545.66 530.21,546.04 531.19,546.43 532.17,546.83 533.15,547.23 534.13,547.64 535.11,548.06 536.09,548.48 537.07,548.90 538.05,549.33 539.03,549.76 540.01,550.20 540.99,550.63 541.97,551.07 542.95,551.51 543.93,551.95 544.91,552.40 545.89,552.84 546.87,553.28 547.85,553.72 548.83,554.15 549.81,554.59 550.79,555.02 551.78,555.44 552.76,555.87 553.74,556.29 554.72,556.70 555.70,557.11 556.68,557.53 557.66,557.96 558.64,558.39 559.62,558.83 560.60,559.27 561.58,559.72 562.56,560.18 563.54,560.63 564.52,561.10 565.50,561.56 566.48,562.04 567.46,562.51 568.44,562.99 569.42,563.46 570.40,563.95 571.38,564.43 572.36,564.91 573.34,565.40 574.32,565.88 575.30,566.37 576.28,566.86 577.26,567.34 578.24,567.83 579.22,568.31 580.20,568.79 581.18,569.27 582.16,569.75 583.14,570.23 584.12,570.70 585.10,571.17 586.08,571.64 587.06,572.10 588.04,572.56 589.02,573.01 590.01,573.46 590.99,573.90 591.97,574.34 592.95,574.77 593.93,575.19 594.91,575.61 595.89,576.02 596.87,576.42 597.85,576.82 598.83,577.22 599.81,577.63 600.79,578.04 601.77,578.45 602.75,578.86 603.73,579.27 604.71,579.68 605.69,580.09 606.67,580.50 607.65,580.92 608.63,581.33 609.61,581.74 610.59,582.16 611.57,582.57 612.55,582.98 613.53,583.40 614.51,583.81 615.49,584.22 616.47,584.62 617.45,585.03 618.43,585.44 619.41,585.84 620.39,586.24 621.37,586.64 622.35,587.04 623.33,587.43 624.31,587.83 625.29,588.22 626.27,588.60 627.25,588.98 628.24,589.36 629.22,589.74 630.20,590.11 631.18,590.48 632.16,590.84 633.14,591.20 634.12,591.56 635.10,591.91 636.08,592.25 637.06,592.59 638.04,592.94 639.02,593.28 640.00,593.62 640.98,593.97 641.96,594.31 642.94,594.66 643.92,595.01 644.90,595.36 645.88,595.71 646.86,596.06 647.84,596.41 648.82,596.77 649.80,597.12 650.78,597.48 651.76,597.83 652.74,598.19 653.72,598.55 654.70,598.91 655.68,599.27 656.66,599.63 657.64,599.99 658.62,600.35 659.60,600.72 660.58,601.08 661.56,601.45 662.54,601.82 663.52,602.18 664.50,602.55 665.48,602.92 666.47,603.29 667.45,603.66 668.43,604.04 669.41,604.41 670.39,604.78 671.37,605.16 672.35,605.53 673.33,605.91 674.31,606.29 675.29,606.66 676.27,607.04 677.25,607.42 678.23,607.80 679.21,608.18 680.19,608.57 681.17,608.95 682.15,609.32 683.13,609.68 684.11,610.02 685.09,610.35 686.07,610.67 687.05,610.98 688.03,611.27 689.01,611.56 689.99,611.84 690.97,612.11 691.95,612.38 692.93,612.63 693.91,612.89 694.89,613.13 695.87,613.38 696.85,613.62 697.83,613.86 698.81,614.10 699.79,614.34 700.77,614.58 701.75,614.82 702.73,615.06 703.72,615.31 704.70,615.56 705.68,615.82 706.66,616.08 707.64,616.35 708.62,616.62 709.60,616.91 710.58,617.20 711.56,617.50 712.54,617.82 713.52,618.14 714.50,618.48 715.48,618.83 716.46,619.20 717.44,619.58 718.42,619.98 719.40,620.39 720.38,620.82 721.36,621.26 722.34,621.69 723.32,622.13 724.30,622.57 725.28,623.02 726.26,623.46 727.24,623.91 728.22,624.35 729.20,624.80 730.18,625.26 731.16,625.71 732.14,626.16 733.12,626.62 734.10,627.08 735.08,627.54 736.06,628.00 737.04,628.47 738.02,628.93 739.00,629.40 739.98,629.87 740.96,630.34 741.95,630.81 742.93,631.28 743.91,631.76 744.89,632.24 745.87,632.72 746.85,633.20 747.83,633.68 748.81,634.16 749.79,634.65 750.77,635.14 751.75,635.63 752.73,636.12 753.71,636.61 754.69,637.10 755.67,637.60 756.65,638.10 757.63,638.59 758.61,639.10 759.59,639.60 760.57,640.10 761.55,640.61 762.53,641.12 763.51,641.66 764.49,642.22 765.47,642.81 766.45,643.42 767.43,644.06 768.41,644.72 769.39,645.40 770.37,646.10 771.35,646.83 772.33,647.57 773.31,648.34 774.29,649.12 775.27,649.92 776.25,650.74 777.23,651.58 778.21,652.43 779.19,653.30 780.18,654.18 781.16,655.08 782.14,656.02 783.12,657.14 784.10,658.45 785.08,659.92 786.06,661.52 787.04,663.23 788.02,665.02 789.00,666.86 789.98,668.73 790.96,670.60 791.94,672.44 792.92,674.24 793.90,675.95 794.88,677.55 795.86,679.03 796.84,680.34 797.82,681.50 798.80,682.57" fill="none" stroke="#D95319" stroke-width="5.4" stroke-linejoin="round" stroke-dasharray="22 23" stroke-dashoffset="1" clip-path="url(#clipC)"/>
<polyline points="113.60,645.77 114.58,645.32 115.56,644.87 116.54,644.43 117.52,643.98 118.50,643.53 119.48,643.08 120.46,642.63 121.44,642.18 122.42,641.73 123.40,641.28 124.38,640.84 125.36,640.39 126.34,639.94 127.32,639.49 128.30,639.04 129.28,638.59 130.26,638.14 131.24,637.70 132.22,637.25 133.21,636.80 134.19,636.35 135.17,635.90 136.15,635.45 137.13,635.01 138.11,634.56 139.09,634.11 140.07,633.66 141.05,633.21 142.03,632.77 143.01,632.32 143.99,631.87 144.97,631.43 145.95,630.98 146.93,630.53 147.91,630.08 148.89,629.64 149.87,629.19 150.85,628.74 151.83,628.30 152.81,627.85 153.79,627.40 154.77,626.96 155.75,626.51 156.73,626.07 157.71,625.62 158.69,625.18 159.67,624.73 160.65,624.29 161.63,623.84 162.61,623.40 163.59,622.95 164.57,622.51 165.55,622.06 166.53,621.62 167.51,621.17 168.49,620.73 169.47,620.29 170.45,619.84 171.44,619.40 172.42,618.96 173.40,618.51 174.38,618.07 175.36,617.63 176.34,617.18 177.32,616.74 178.30,616.30 179.28,615.86 180.26,615.42 181.24,614.98 182.22,614.54 183.20,614.09 184.18,613.65 185.16,613.22 186.14,612.78 187.12,612.34 188.10,611.90 189.08,611.46 190.06,611.03 191.04,610.59 192.02,610.16 193.00,609.73 193.98,609.29 194.96,608.86 195.94,608.43 196.92,608.00 197.90,607.57 198.88,607.14 199.86,606.71 200.84,606.28 201.82,605.86 202.80,605.43 203.78,605.01 204.76,604.58 205.74,604.16 206.72,603.74 207.70,603.31 208.68,602.89 209.67,602.47 210.65,602.06 211.63,601.64 212.61,601.22 213.59,600.80 214.57,600.39 215.55,599.97 216.53,599.56 217.51,599.15 218.49,598.74 219.47,598.33 220.45,597.92 221.43,597.51 222.41,597.10 223.39,596.69 224.37,596.29 225.35,595.88 226.33,595.48 227.31,595.08 228.29,594.67 229.27,594.27 230.25,593.87 231.23,593.48 232.21,593.08 233.19,592.68 234.17,592.29 235.15,591.89 236.13,591.50 237.11,591.11 238.09,590.72 239.07,590.33 240.05,589.94 241.03,589.55 242.01,589.17 242.99,588.78 243.97,588.40 244.95,588.01 245.93,587.63 246.92,587.25 247.90,586.87 248.88,586.50 249.86,586.12 250.84,585.74 251.82,585.37 252.80,585.00 253.78,584.63 254.76,584.26 255.74,583.90 256.72,583.53 257.70,583.17 258.68,582.81 259.66,582.45 260.64,582.10 261.62,581.74 262.60,581.39 263.58,581.04 264.56,580.69 265.54,580.35 266.52,580.00 267.50,579.66 268.48,579.32 269.46,578.98 270.44,578.64 271.42,578.30 272.40,577.97 273.38,577.64 274.36,577.31 275.34,576.98 276.32,576.65 277.30,576.32 278.28,576.00 279.26,575.68 280.24,575.36 281.22,575.04 282.20,574.72 283.18,574.40 284.16,574.09 285.15,573.77 286.13,573.46 287.11,573.15 288.09,572.84 289.07,572.53 290.05,572.23 291.03,571.92 292.01,571.62 292.99,571.32 293.97,571.02 294.95,570.72 295.93,570.42 296.91,570.12 297.89,569.83 298.87,569.53 299.85,569.24 300.83,568.95 301.81,568.66 302.79,568.37 303.77,568.08 304.75,567.79 305.73,567.50 306.71,567.22 307.69,566.93 308.67,566.65 309.65,566.37 310.63,566.09 311.61,565.81 312.59,565.53 313.57,565.25 314.55,564.97 315.53,564.70 316.51,564.42 317.49,564.15 318.47,563.87 319.45,563.60 320.43,563.33 321.41,563.05 322.39,562.77 323.38,562.50 324.36,562.22 325.34,561.94 326.32,561.66 327.30,561.38 328.28,561.09 329.26,560.81 330.24,560.53 331.22,560.25 332.20,559.96 333.18,559.68 334.16,559.40 335.14,559.11 336.12,558.83 337.10,558.55 338.08,558.27 339.06,557.99 340.04,557.71 341.02,557.43 342.00,557.15 342.98,556.88 343.96,556.60 344.94,556.33 345.92,556.06 346.90,555.79 347.88,555.52 348.86,555.25 349.84,554.99 350.82,554.73 351.80,554.47 352.78,554.21 353.76,553.96 354.74,553.71 355.72,553.46 356.70,553.21 357.68,552.97 358.66,552.73 359.64,552.50 360.62,552.26 361.61,552.03 362.59,551.81 363.57,551.59 364.55,551.37 365.53,551.16 366.51,550.95 367.49,550.74 368.47,550.54 369.45,550.35 370.43,550.16 371.41,549.97 372.39,549.79 373.37,549.61 374.35,549.44 375.33,549.29 376.31,549.16 377.29,549.05 378.27,548.95 379.25,548.88 380.23,548.82 381.21,548.78 382.19,548.76 383.17,548.75 384.15,548.75 385.13,548.77 386.11,548.80 387.09,548.85 388.07,548.90 389.05,548.96 390.03,549.04 391.01,549.12 391.99,549.21 392.97,549.30 393.95,549.41 394.93,549.51 395.91,549.63 396.89,549.74 397.87,549.86 398.85,549.98 399.84,550.10 400.82,550.23 401.80,550.35 402.78,550.47 403.76,550.59 404.74,550.70 405.72,550.82 406.70,550.93 407.68,551.03 408.66,551.13 409.64,551.22 410.62,551.30 411.60,551.37 412.58,551.44 413.56,551.49 414.54,551.54 415.52,551.57 416.50,551.59 417.48,551.60 418.46,551.59 419.44,551.57 420.42,551.53 421.40,551.48 422.38,551.40 423.36,551.28 424.34,551.12 425.32,550.91 426.30,550.67 427.28,550.38 428.26,550.06 429.24,549.71 430.22,549.33 431.20,548.92 432.18,548.48 433.16,548.02 434.14,547.54 435.12,547.04 436.10,546.53 437.08,546.00 438.07,545.46 439.05,544.92 440.03,544.37 441.01,543.81 441.99,543.26 442.97,542.70 443.95,542.15 444.93,541.61 445.91,541.07 446.89,540.55 447.87,540.04 448.85,539.55 449.83,539.08 450.81,538.62 451.79,538.19 452.77,537.79 453.75,537.42 454.73,537.08 455.71,536.77 456.69,536.50 457.67,536.27 458.65,536.07 459.63,535.93 460.61,535.83 461.59,535.77 462.57,535.77 463.55,535.81 464.53,535.88 465.51,535.98 466.49,536.11 467.47,536.27 468.45,536.46 469.43,536.68 470.41,536.92 471.39,537.18 472.37,537.46 473.35,537.76 474.33,538.09 475.32,538.42 476.30,538.78 477.28,539.14 478.26,539.52 479.24,539.91 480.22,540.31 481.20,540.72 482.18,541.13 483.16,541.55 484.14,541.97 485.12,542.39 486.10,542.82 487.08,543.24 488.06,543.66 489.04,544.07 490.02,544.48 491.00,544.88 491.98,545.28 492.96,545.66 493.94,546.03 494.92,546.39 495.90,546.73 496.88,547.06 497.86,547.37 498.84,547.66 499.82,547.93 500.80,548.18 501.78,548.40 502.76,548.60 503.74,548.77 504.72,548.92 505.70,549.03 506.68,549.13 507.66,549.23 508.64,549.32 509.62,549.40 510.60,549.48 511.58,549.56 512.56,549.63 513.55,549.70 514.53,549.76 515.51,549.82 516.49,549.88 517.47,549.94 518.45,550.00 519.43,550.05 520.41,550.11 521.39,550.16 522.37,550.22 523.35,550.27 524.33,550.32 525.31,550.38 526.29,550.43 527.27,550.49 528.25,550.55 529.23,550.61 530.21,550.67 531.19,550.74 532.17,550.81 533.15,550.88 534.13,550.96 535.11,551.04 536.09,551.12 537.07,551.21 538.05,551.31 539.03,551.41 540.01,551.52 540.99,551.63 541.97,551.75 542.95,551.88 543.93,552.01 544.91,552.15 545.89,552.30 546.87,552.46 547.85,552.63 548.83,552.81 549.81,552.99 550.79,553.19 551.78,553.42 552.76,553.66 553.74,553.93 554.72,554.22 555.70,554.52 556.68,554.85 557.66,555.20 558.64,555.56 559.62,555.94 560.60,556.34 561.58,556.75 562.56,557.18 563.54,557.62 564.52,558.08 565.50,558.55 566.48,559.03 567.46,559.52 568.44,560.02 569.42,560.52 570.40,561.04 571.38,561.57 572.36,562.10 573.34,562.64 574.32,563.18 575.30,563.73 576.28,564.28 577.26,564.84 578.24,565.39 579.22,565.95 580.20,566.51 581.18,567.07 582.16,567.63 583.14,568.18 584.12,568.74 585.10,569.29 586.08,569.83 587.06,570.38 588.04,570.91 589.02,571.44 590.01,571.97 590.99,572.52 591.97,573.09 592.95,573.68 593.93,574.28 594.91,574.90 595.89,575.53 596.87,576.17 597.85,576.82 598.83,577.47 599.81,578.14 600.79,578.81 601.77,579.48 602.75,580.16 603.73,580.84 604.71,581.52 605.69,582.20 606.67,582.87 607.65,583.54 608.63,584.21 609.61,584.87 610.59,585.52 611.57,586.16 612.55,586.79 613.53,587.41 614.51,588.02 615.49,588.61 616.47,589.18 617.45,589.74 618.43,590.28 619.41,590.80 620.39,591.29 621.37,591.76 622.35,592.21 623.33,592.63 624.31,593.03 625.29,593.40 626.27,593.73 627.25,594.04 628.24,594.31 629.22,594.56 630.20,594.78 631.18,594.98 632.16,595.15 633.14,595.30 634.12,595.42 635.10,595.53 636.08,595.62 637.06,595.69 638.04,595.75 639.02,595.79 640.00,595.82 640.98,595.84 641.96,595.85 642.94,595.86 643.92,595.85 644.90,595.84 645.88,595.83 646.86,595.81 647.84,595.79 648.82,595.77 649.80,595.76 650.78,595.75 651.76,595.74 652.74,595.74 653.72,595.75 654.70,595.76 655.68,595.79 656.66,595.83 657.64,595.88 658.62,595.95 659.60,596.03 660.58,596.14 661.56,596.26 662.54,596.40 663.52,596.56 664.50,596.75 665.48,596.96 666.47,597.20 667.45,597.47 668.43,597.77 669.41,598.09 670.39,598.45 671.37,598.86 672.35,599.33 673.33,599.87 674.31,600.47 675.29,601.13 676.27,601.85 677.25,602.62 678.23,603.43 679.21,604.29 680.19,605.18 681.17,606.11 682.15,607.07 683.13,608.06 684.11,609.07 685.09,610.09 686.07,611.13 687.05,612.18 688.03,613.24 689.01,614.29 689.99,615.35 690.97,616.39 691.95,617.43 692.93,618.45 693.91,619.45 694.89,620.43 695.87,621.38 696.85,622.30 697.83,623.19 698.81,624.03 699.79,624.84 700.77,625.59 701.75,626.29 702.73,626.94 703.72,627.52 704.70,628.04 705.68,628.50 706.66,628.88 707.64,629.20 708.62,629.47 709.60,629.67 710.58,629.82 711.56,629.92 712.54,629.98 713.52,629.98 714.50,629.95 715.48,629.87 716.46,629.76 717.44,629.62 718.42,629.45 719.40,629.25 720.38,629.02 721.36,628.78 722.34,628.51 723.32,628.24 724.30,627.94 725.28,627.64 726.26,627.34 727.24,627.03 728.22,626.72 729.20,626.41 730.18,626.11 731.16,625.82 732.14,625.53 733.12,625.27 734.10,625.02 735.08,624.79 736.06,624.59 737.04,624.41 738.02,624.26 739.00,624.15 739.98,624.07 740.96,624.02 741.95,624.02 742.93,624.07 743.91,624.16 744.89,624.30 745.87,624.50 746.85,624.75 747.83,625.07 748.81,625.44 749.79,625.88 750.77,626.35 751.75,626.83 752.73,627.34 753.71,627.86 754.69,628.40 755.67,628.96 756.65,629.54 757.63,630.14 758.61,630.76 759.59,631.39 760.57,632.04 761.55,632.71 762.53,633.40 763.51,634.10 764.49,634.82 765.47,635.56 766.45,636.31 767.43,637.09 768.41,637.88 769.39,638.68 770.37,639.50 771.35,640.34 772.33,641.20 773.31,642.07 774.29,642.96 775.27,643.86 776.25,644.78 777.23,645.72 778.21,646.67 779.19,647.64 780.18,648.71 781.16,650.29 782.14,652.35 783.12,654.83 784.10,657.67 785.08,660.81 786.06,664.17 787.04,667.69 788.02,671.31 789.00,674.96 789.98,678.58 790.96,682.11 791.94,685.47 792.92,688.60 793.90,691.44 794.88,693.92 795.86,695.98 796.84,697.55 797.82,698.75 798.80,699.76" fill="none" stroke="#EDB120" stroke-width="5.4" stroke-linejoin="round" stroke-dasharray="22 23" stroke-dashoffset="-1" clip-path="url(#clipC)"/>
<path d="M182.12 819.0v-7M182.12 476.3v7M250.64 819.0v-7M250.64 476.3v7M319.16 819.0v-7M319.16 476.3v7M387.68 819.0v-7M387.68 476.3v7M456.20 819.0v-7M456.20 476.3v7M524.72 819.0v-7M524.72 476.3v7M593.24 819.0v-7M593.24 476.3v7M661.76 819.0v-7M661.76 476.3v7M730.28 819.0v-7M730.28 476.3v7M798.80 819.0v-7M798.80 476.3v7M115.7 819.00h7M798.8 819.00h-7M115.7 751.35h7M798.8 751.35h-7M115.7 682.57h7M798.8 682.57h-7M115.7 613.79h7M798.8 613.79h-7M115.7 545.01h7M798.8 545.01h-7M115.7 476.30h7M798.8 476.30h-7" stroke="#3c3c3c" stroke-width="1.5" fill="none"/>
<rect x="115.7" y="476.3" width="683.1" height="342.7" fill="none" stroke="#3c3c3c" stroke-width="1.5"/>
<text class="tk" x="182.12" y="851.3" text-anchor="middle">1</text>
<text class="tk" x="250.64" y="851.3" text-anchor="middle">2</text>
<text class="tk" x="319.16" y="851.3" text-anchor="middle">3</text>
<text class="tk" x="387.68" y="851.3" text-anchor="middle">4</text>
<text class="tk" x="456.20" y="851.3" text-anchor="middle">5</text>
<text class="tk" x="524.72" y="851.3" text-anchor="middle">6</text>
<text class="tk" x="593.24" y="851.3" text-anchor="middle">7</text>
<text class="tk" x="661.76" y="851.3" text-anchor="middle">8</text>
<text class="tk" x="730.28" y="851.3" text-anchor="middle">9</text>
<text class="tk" x="798.80" y="851.3" text-anchor="middle">10</text>
<text class="tk" x="104.7" y="827.5" text-anchor="end">0</text>
<text class="tk" x="104.7" y="759.9" text-anchor="end">0.002</text>
<text class="tk" x="104.7" y="691.1" text-anchor="end">0.004</text>
<text class="tk" x="104.7" y="622.3" text-anchor="end">0.006</text>
<text class="tk" x="104.7" y="553.5" text-anchor="end">0.008</text>
<text class="tk" x="104.7" y="484.8" text-anchor="end">0.01</text>
<path d="M1083.12 478.6V821.3M1151.74 478.6V821.3M1220.36 478.6V821.3M1288.98 478.6V821.3M1357.60 478.6V821.3M1426.22 478.6V821.3M1494.84 478.6V821.3M1563.46 478.6V821.3M1632.08 478.6V821.3M1016.6 753.56H1700.7M1016.6 684.80H1700.7M1016.6 616.04H1700.7M1016.6 547.28H1700.7" stroke="#dcdcdc" stroke-width="1" fill="none"/>
<polyline points="1014.50,650.42 1015.48,650.23 1016.46,650.05 1017.45,649.86 1018.43,649.68 1019.41,649.49 1020.39,649.31 1021.37,649.12 1022.35,648.94 1023.34,648.75 1024.32,648.57 1025.30,648.38 1026.28,648.20 1027.26,648.01 1028.24,647.82 1029.23,647.64 1030.21,647.45 1031.19,647.27 1032.17,647.08 1033.15,646.90 1034.13,646.71 1035.12,646.53 1036.10,646.34 1037.08,646.16 1038.06,645.97 1039.04,645.79 1040.02,645.60 1041.01,645.42 1041.99,645.23 1042.97,645.05 1043.95,644.86 1044.93,644.67 1045.91,644.49 1046.90,644.30 1047.88,644.12 1048.86,643.93 1049.84,643.75 1050.82,643.56 1051.80,643.38 1052.79,643.19 1053.77,643.01 1054.75,642.82 1055.73,642.64 1056.71,642.45 1057.69,642.27 1058.68,642.09 1059.66,641.90 1060.64,641.72 1061.62,641.53 1062.60,641.35 1063.58,641.16 1064.57,640.98 1065.55,640.79 1066.53,640.61 1067.51,640.42 1068.49,640.24 1069.47,640.05 1070.46,639.87 1071.44,639.69 1072.42,639.50 1073.40,639.32 1074.38,639.13 1075.36,638.95 1076.35,638.76 1077.33,638.58 1078.31,638.40 1079.29,638.21 1080.27,638.03 1081.25,637.84 1082.24,637.66 1083.22,637.47 1084.20,637.29 1085.18,637.11 1086.16,636.92 1087.14,636.74 1088.13,636.56 1089.11,636.37 1090.09,636.19 1091.07,636.00 1092.05,635.82 1093.04,635.64 1094.02,635.45 1095.00,635.27 1095.98,635.09 1096.96,634.90 1097.94,634.72 1098.93,634.54 1099.91,634.35 1100.89,634.17 1101.87,633.99 1102.85,633.80 1103.83,633.62 1104.82,633.44 1105.80,633.26 1106.78,633.07 1107.76,632.89 1108.74,632.71 1109.72,632.53 1110.71,632.34 1111.69,632.16 1112.67,631.98 1113.65,631.80 1114.63,631.61 1115.61,631.43 1116.60,631.25 1117.58,631.07 1118.56,630.88 1119.54,630.70 1120.52,630.52 1121.50,630.34 1122.49,630.16 1123.47,629.97 1124.45,629.79 1125.43,629.61 1126.41,629.43 1127.39,629.25 1128.38,629.07 1129.36,628.89 1130.34,628.70 1131.32,628.52 1132.30,628.34 1133.28,628.16 1134.27,627.98 1135.25,627.80 1136.23,627.62 1137.21,627.44 1138.19,627.26 1139.17,627.08 1140.16,626.89 1141.14,626.71 1142.12,626.53 1143.10,626.35 1144.08,626.17 1145.06,625.99 1146.05,625.81 1147.03,625.63 1148.01,625.45 1148.99,625.27 1149.97,625.09 1150.95,624.91 1151.94,624.73 1152.92,624.55 1153.90,624.38 1154.88,624.20 1155.86,624.02 1156.84,623.84 1157.83,623.66 1158.81,623.48 1159.79,623.30 1160.77,623.12 1161.75,622.94 1162.73,622.76 1163.72,622.59 1164.70,622.41 1165.68,622.23 1166.66,622.05 1167.64,621.87 1168.63,621.69 1169.61,621.52 1170.59,621.34 1171.57,621.16 1172.55,620.98 1173.53,620.80 1174.52,620.63 1175.50,620.45 1176.48,620.27 1177.46,620.09 1178.44,619.92 1179.42,619.74 1180.41,619.56 1181.39,619.39 1182.37,619.21 1183.35,619.03 1184.33,618.86 1185.31,618.68 1186.30,618.50 1187.28,618.33 1188.26,618.15 1189.24,617.98 1190.22,617.80 1191.20,617.62 1192.19,617.45 1193.17,617.27 1194.15,617.10 1195.13,616.92 1196.11,616.75 1197.09,616.57 1198.08,616.40 1199.06,616.22 1200.04,616.05 1201.02,615.87 1202.00,615.70 1202.98,615.52 1203.97,615.35 1204.95,615.17 1205.93,615.00 1206.91,614.82 1207.89,614.65 1208.87,614.48 1209.86,614.30 1210.84,614.13 1211.82,613.96 1212.80,613.78 1213.78,613.61 1214.76,613.44 1215.75,613.26 1216.73,613.09 1217.71,612.92 1218.69,612.74 1219.67,612.57 1220.65,612.40 1221.64,612.23 1222.62,612.06 1223.60,611.88 1224.58,611.71 1225.56,611.54 1226.54,611.37 1227.53,611.20 1228.51,611.02 1229.49,610.85 1230.47,610.68 1231.45,610.51 1232.43,610.34 1233.42,610.17 1234.40,610.00 1235.38,609.83 1236.36,609.66 1237.34,609.49 1238.32,609.32 1239.31,609.15 1240.29,608.98 1241.27,608.81 1242.25,608.64 1243.23,608.47 1244.22,608.30 1245.20,608.13 1246.18,607.96 1247.16,607.79 1248.14,607.62 1249.12,607.46 1250.11,607.29 1251.09,607.12 1252.07,606.95 1253.05,606.78 1254.03,606.61 1255.01,606.45 1256.00,606.28 1256.98,606.11 1257.96,605.94 1258.94,605.78 1259.92,605.61 1260.90,605.44 1261.89,605.28 1262.87,605.11 1263.85,604.94 1264.83,604.78 1265.81,604.61 1266.79,604.44 1267.78,604.28 1268.76,604.11 1269.74,603.95 1270.72,603.78 1271.70,603.62 1272.68,603.45 1273.67,603.29 1274.65,603.12 1275.63,602.96 1276.61,602.79 1277.59,602.63 1278.57,602.46 1279.56,602.30 1280.54,602.14 1281.52,601.97 1282.50,601.81 1283.48,601.64 1284.46,601.48 1285.45,601.32 1286.43,601.15 1287.41,600.99 1288.39,600.83 1289.37,600.67 1290.35,600.50 1291.34,600.34 1292.32,600.18 1293.30,600.02 1294.28,599.86 1295.26,599.70 1296.24,599.53 1297.23,599.37 1298.21,599.21 1299.19,599.05 1300.17,598.89 1301.15,598.73 1302.13,598.57 1303.12,598.41 1304.10,598.25 1305.08,598.09 1306.06,597.93 1307.04,597.77 1308.02,597.61 1309.01,597.45 1309.99,597.29 1310.97,597.13 1311.95,596.97 1312.93,596.82 1313.91,596.66 1314.90,596.50 1315.88,596.34 1316.86,596.18 1317.84,596.03 1318.82,595.87 1319.81,595.71 1320.79,595.55 1321.77,595.40 1322.75,595.24 1323.73,595.08 1324.71,594.93 1325.70,594.77 1326.68,594.62 1327.66,594.46 1328.64,594.30 1329.62,594.15 1330.60,593.99 1331.59,593.84 1332.57,593.68 1333.55,593.53 1334.53,593.37 1335.51,593.22 1336.49,593.07 1337.48,592.91 1338.46,592.76 1339.44,592.60 1340.42,592.45 1341.40,592.30 1342.38,592.14 1343.37,591.99 1344.35,591.84 1345.33,591.69 1346.31,591.53 1347.29,591.38 1348.27,591.23 1349.26,591.08 1350.24,590.93 1351.22,590.78 1352.20,590.62 1353.18,590.47 1354.16,590.32 1355.15,590.17 1356.13,590.02 1357.11,589.87 1358.09,589.72 1359.07,589.57 1360.05,589.42 1361.04,589.27 1362.02,589.12 1363.00,588.97 1363.98,588.82 1364.96,588.68 1365.94,588.53 1366.93,588.38 1367.91,588.23 1368.89,588.08 1369.87,587.94 1370.85,587.79 1371.83,587.64 1372.82,587.49 1373.80,587.35 1374.78,587.20 1375.76,587.05 1376.74,586.91 1377.72,586.76 1378.71,586.62 1379.69,586.47 1380.67,586.33 1381.65,586.18 1382.63,586.04 1383.61,585.89 1384.60,585.75 1385.58,585.60 1386.56,585.46 1387.54,585.31 1388.52,585.17 1389.50,585.03 1390.49,584.88 1391.47,584.74 1392.45,584.60 1393.43,584.45 1394.41,584.31 1395.39,584.17 1396.38,584.03 1397.36,583.89 1398.34,583.74 1399.32,583.60 1400.30,583.46 1401.29,583.32 1402.27,583.18 1403.25,583.04 1404.23,582.90 1405.21,582.76 1406.19,582.62 1407.18,582.48 1408.16,582.34 1409.14,582.20 1410.12,582.06 1411.10,581.92 1412.08,581.79 1413.07,581.65 1414.05,581.51 1415.03,581.37 1416.01,581.23 1416.99,581.10 1417.97,580.96 1418.96,580.82 1419.94,580.69 1420.92,580.55 1421.90,580.41 1422.88,580.28 1423.86,580.14 1424.85,580.01 1425.83,579.87 1426.81,579.73 1427.79,579.60 1428.77,579.47 1429.75,579.33 1430.74,579.20 1431.72,579.06 1432.70,578.93 1433.68,578.80 1434.66,578.66 1435.64,578.53 1436.63,578.40 1437.61,578.26 1438.59,578.13 1439.57,578.00 1440.55,577.87 1441.53,577.74 1442.52,577.60 1443.50,577.47 1444.48,577.34 1445.46,577.21 1446.44,577.08 1447.42,576.95 1448.41,576.82 1449.39,576.69 1450.37,576.56 1451.35,576.43 1452.33,576.30 1453.31,576.17 1454.30,576.05 1455.28,575.92 1456.26,575.79 1457.24,575.66 1458.22,575.53 1459.20,575.41 1460.19,575.28 1461.17,575.15 1462.15,575.03 1463.13,574.90 1464.11,574.77 1465.09,574.65 1466.08,574.52 1467.06,574.40 1468.04,574.27 1469.02,574.15 1470.00,574.02 1470.98,573.90 1471.97,573.77 1472.95,573.65 1473.93,573.52 1474.91,573.40 1475.89,573.28 1476.88,573.15 1477.86,573.03 1478.84,572.91 1479.82,572.79 1480.80,572.67 1481.78,572.54 1482.77,572.42 1483.75,572.30 1484.73,572.18 1485.71,572.06 1486.69,571.94 1487.67,571.82 1488.66,571.70 1489.64,571.58 1490.62,571.46 1491.60,571.34 1492.58,571.22 1493.56,571.10 1494.55,570.98 1495.53,570.87 1496.51,570.75 1497.49,570.63 1498.47,570.51 1499.45,570.40 1500.44,570.28 1501.42,570.16 1502.40,570.05 1503.38,569.93 1504.36,569.81 1505.34,569.70 1506.33,569.58 1507.31,569.47 1508.29,569.35 1509.27,569.24 1510.25,569.13 1511.23,569.01 1512.22,568.90 1513.20,568.78 1514.18,568.67 1515.16,568.56 1516.14,568.45 1517.12,568.33 1518.11,568.22 1519.09,568.11 1520.07,568.00 1521.05,567.89 1522.03,567.78 1523.01,567.66 1524.00,567.55 1524.98,567.44 1525.96,567.33 1526.94,567.22 1527.92,567.11 1528.90,567.01 1529.89,566.90 1530.87,566.79 1531.85,566.68 1532.83,566.57 1533.81,566.46 1534.79,566.36 1535.78,566.25 1536.76,566.14 1537.74,566.03 1538.72,565.93 1539.70,565.82 1540.68,565.72 1541.67,565.61 1542.65,565.51 1543.63,565.40 1544.61,565.30 1545.59,565.19 1546.57,565.09 1547.56,564.98 1548.54,564.88 1549.52,564.78 1550.50,564.67 1551.48,564.57 1552.47,564.47 1553.45,564.36 1554.43,564.26 1555.41,564.16 1556.39,564.06 1557.37,563.96 1558.36,563.86 1559.34,563.76 1560.32,563.66 1561.30,563.56 1562.28,563.46 1563.26,563.36 1564.25,563.26 1565.23,563.16 1566.21,563.06 1567.19,562.96 1568.17,562.86 1569.15,562.76 1570.14,562.67 1571.12,562.57 1572.10,562.47 1573.08,562.38 1574.06,562.28 1575.04,562.18 1576.03,562.09 1577.01,561.99 1577.99,561.90 1578.97,561.80 1579.95,561.71 1580.93,561.61 1581.92,561.52 1582.90,561.42 1583.88,561.33 1584.86,561.24 1585.84,561.14 1586.82,561.05 1587.81,560.96 1588.79,560.87 1589.77,560.78 1590.75,560.68 1591.73,560.59 1592.71,560.50 1593.70,560.41 1594.68,560.32 1595.66,560.23 1596.64,560.14 1597.62,560.05 1598.60,559.96 1599.59,559.87 1600.57,559.78 1601.55,559.70 1602.53,559.61 1603.51,559.52 1604.49,559.43 1605.48,559.35 1606.46,559.26 1607.44,559.17 1608.42,559.09 1609.40,559.00 1610.38,558.91 1611.37,558.83 1612.35,558.74 1613.33,558.66 1614.31,558.57 1615.29,558.49 1616.27,558.41 1617.26,558.32 1618.24,558.24 1619.22,558.16 1620.20,558.07 1621.18,557.99 1622.16,557.91 1623.15,557.83 1624.13,557.75 1625.11,557.66 1626.09,557.58 1627.07,557.50 1628.06,557.42 1629.04,557.34 1630.02,557.26 1631.00,557.18 1631.98,557.10 1632.96,557.03 1633.95,556.95 1634.93,556.87 1635.91,556.79 1636.89,556.71 1637.87,556.64 1638.85,556.56 1639.84,556.48 1640.82,556.41 1641.80,556.33 1642.78,556.25 1643.76,556.18 1644.74,556.10 1645.73,556.03 1646.71,555.95 1647.69,555.88 1648.67,555.81 1649.65,555.73 1650.63,555.66 1651.62,555.59 1652.60,555.51 1653.58,555.44 1654.56,555.37 1655.54,555.30 1656.52,555.22 1657.51,555.15 1658.49,555.08 1659.47,555.01 1660.45,554.94 1661.43,554.87 1662.41,554.80 1663.40,554.73 1664.38,554.66 1665.36,554.59 1666.34,554.53 1667.32,554.46 1668.30,554.39 1669.29,554.32 1670.27,554.26 1671.25,554.19 1672.23,554.12 1673.21,554.06 1674.19,553.99 1675.18,553.92 1676.16,553.86 1677.14,553.79 1678.12,553.73 1679.10,553.66 1680.08,553.60 1681.07,553.54 1682.05,553.47 1683.03,553.41 1684.01,553.35 1684.99,553.29 1685.97,553.22 1686.96,553.16 1687.94,553.10 1688.92,553.04 1689.90,552.98 1690.88,552.92 1691.86,552.86 1692.85,552.80 1693.83,552.74 1694.81,552.68 1695.79,552.62 1696.77,552.56 1697.75,552.50 1698.74,552.44 1699.72,552.39 1700.70,552.33" fill="none" stroke="#000" stroke-width="3.2" stroke-linejoin="round" clip-path="url(#clipD)"/>
<polyline points="1014.50,648.70 1015.48,648.52 1016.46,648.33 1017.45,648.14 1018.43,647.96 1019.41,647.77 1020.39,647.59 1021.37,647.40 1022.35,647.22 1023.34,647.03 1024.32,646.85 1025.30,646.66 1026.28,646.48 1027.26,646.29 1028.24,646.11 1029.23,645.92 1030.21,645.73 1031.19,645.55 1032.17,645.36 1033.15,645.18 1034.13,644.99 1035.12,644.81 1036.10,644.62 1037.08,644.44 1038.06,644.25 1039.04,644.07 1040.02,643.88 1041.01,643.70 1041.99,643.51 1042.97,643.33 1043.95,643.14 1044.93,642.96 1045.91,642.77 1046.90,642.59 1047.88,642.40 1048.86,642.22 1049.84,642.03 1050.82,641.85 1051.80,641.66 1052.79,641.48 1053.77,641.29 1054.75,641.11 1055.73,640.92 1056.71,640.74 1057.69,640.55 1058.68,640.37 1059.66,640.18 1060.64,640.00 1061.62,639.81 1062.60,639.63 1063.58,639.44 1064.57,639.26 1065.55,639.07 1066.53,638.89 1067.51,638.70 1068.49,638.52 1069.47,638.33 1070.46,638.15 1071.44,637.97 1072.42,637.78 1073.40,637.60 1074.38,637.41 1075.36,637.23 1076.35,637.04 1077.33,636.86 1078.31,636.68 1079.29,636.49 1080.27,636.31 1081.25,636.12 1082.24,635.94 1083.22,635.76 1084.20,635.57 1085.18,635.39 1086.16,635.20 1087.14,635.02 1088.13,634.84 1089.11,634.65 1090.09,634.47 1091.07,634.29 1092.05,634.10 1093.04,633.92 1094.02,633.73 1095.00,633.55 1095.98,633.37 1096.96,633.18 1097.94,633.00 1098.93,632.82 1099.91,632.64 1100.89,632.45 1101.87,632.27 1102.85,632.09 1103.83,631.90 1104.82,631.72 1105.80,631.54 1106.78,631.35 1107.76,631.17 1108.74,630.99 1109.72,630.81 1110.71,630.62 1111.69,630.44 1112.67,630.26 1113.65,630.08 1114.63,629.89 1115.61,629.71 1116.60,629.53 1117.58,629.35 1118.56,629.17 1119.54,628.98 1120.52,628.80 1121.50,628.62 1122.49,628.44 1123.47,628.26 1124.45,628.07 1125.43,627.89 1126.41,627.71 1127.39,627.53 1128.38,627.35 1129.36,627.17 1130.34,626.99 1131.32,626.80 1132.30,626.62 1133.28,626.44 1134.27,626.26 1135.25,626.08 1136.23,625.90 1137.21,625.72 1138.19,625.54 1139.17,625.36 1140.16,625.18 1141.14,625.00 1142.12,624.82 1143.10,624.63 1144.08,624.45 1145.06,624.27 1146.05,624.09 1147.03,623.91 1148.01,623.73 1148.99,623.55 1149.97,623.37 1150.95,623.19 1151.94,623.02 1152.92,622.84 1153.90,622.66 1154.88,622.48 1155.86,622.30 1156.84,622.12 1157.83,621.94 1158.81,621.76 1159.79,621.58 1160.77,621.40 1161.75,621.22 1162.73,621.04 1163.72,620.87 1164.70,620.69 1165.68,620.51 1166.66,620.33 1167.64,620.15 1168.63,619.97 1169.61,619.80 1170.59,619.62 1171.57,619.44 1172.55,619.26 1173.53,619.09 1174.52,618.91 1175.50,618.73 1176.48,618.55 1177.46,618.38 1178.44,618.20 1179.42,618.02 1180.41,617.84 1181.39,617.67 1182.37,617.49 1183.35,617.31 1184.33,617.14 1185.31,616.96 1186.30,616.78 1187.28,616.61 1188.26,616.43 1189.24,616.26 1190.22,616.08 1191.20,615.90 1192.19,615.73 1193.17,615.55 1194.15,615.38 1195.13,615.20 1196.11,615.03 1197.09,614.85 1198.08,614.68 1199.06,614.50 1200.04,614.33 1201.02,614.15 1202.00,613.98 1202.98,613.80 1203.97,613.63 1204.95,613.45 1205.93,613.28 1206.91,613.11 1207.89,612.93 1208.87,612.76 1209.86,612.58 1210.84,612.41 1211.82,612.24 1212.80,612.06 1213.78,611.89 1214.76,611.72 1215.75,611.54 1216.73,611.37 1217.71,611.20 1218.69,611.03 1219.67,610.85 1220.65,610.68 1221.64,610.51 1222.62,610.34 1223.60,610.16 1224.58,609.99 1225.56,609.82 1226.54,609.64 1227.53,609.47 1228.51,609.30 1229.49,609.12 1230.47,608.95 1231.45,608.78 1232.43,608.60 1233.42,608.43 1234.40,608.26 1235.38,608.08 1236.36,607.91 1237.34,607.73 1238.32,607.56 1239.31,607.38 1240.29,607.21 1241.27,607.04 1242.25,606.86 1243.23,606.69 1244.22,606.51 1245.20,606.34 1246.18,606.16 1247.16,605.99 1248.14,605.81 1249.12,605.64 1250.11,605.46 1251.09,605.29 1252.07,605.11 1253.05,604.94 1254.03,604.76 1255.01,604.59 1256.00,604.41 1256.98,604.23 1257.96,604.06 1258.94,603.88 1259.92,603.71 1260.90,603.53 1261.89,603.36 1262.87,603.18 1263.85,603.00 1264.83,602.83 1265.81,602.65 1266.79,602.48 1267.78,602.30 1268.76,602.13 1269.74,601.95 1270.72,601.77 1271.70,601.60 1272.68,601.42 1273.67,601.25 1274.65,601.07 1275.63,600.90 1276.61,600.72 1277.59,600.54 1278.57,600.37 1279.56,600.19 1280.54,600.02 1281.52,599.84 1282.50,599.66 1283.48,599.49 1284.46,599.31 1285.45,599.14 1286.43,598.96 1287.41,598.79 1288.39,598.61 1289.37,598.43 1290.35,598.26 1291.34,598.08 1292.32,597.91 1293.30,597.73 1294.28,597.56 1295.26,597.38 1296.24,597.21 1297.23,597.03 1298.21,596.86 1299.19,596.68 1300.17,596.51 1301.15,596.33 1302.13,596.16 1303.12,595.98 1304.10,595.81 1305.08,595.63 1306.06,595.46 1307.04,595.28 1308.02,595.11 1309.01,594.93 1309.99,594.76 1310.97,594.58 1311.95,594.41 1312.93,594.24 1313.91,594.06 1314.90,593.89 1315.88,593.71 1316.86,593.54 1317.84,593.37 1318.82,593.19 1319.81,593.02 1320.79,592.85 1321.77,592.67 1322.75,592.50 1323.73,592.33 1324.71,592.15 1325.70,591.97 1326.68,591.79 1327.66,591.61 1328.64,591.43 1329.62,591.24 1330.60,591.05 1331.59,590.87 1332.57,590.67 1333.55,590.48 1334.53,590.29 1335.51,590.09 1336.49,589.90 1337.48,589.70 1338.46,589.50 1339.44,589.30 1340.42,589.10 1341.40,588.90 1342.38,588.69 1343.37,588.49 1344.35,588.29 1345.33,588.08 1346.31,587.88 1347.29,587.67 1348.27,587.47 1349.26,587.26 1350.24,587.06 1351.22,586.85 1352.20,586.65 1353.18,586.44 1354.16,586.24 1355.15,586.04 1356.13,585.83 1357.11,585.63 1358.09,585.43 1359.07,585.23 1360.05,585.03 1361.04,584.83 1362.02,584.63 1363.00,584.43 1363.98,584.24 1364.96,584.04 1365.94,583.85 1366.93,583.66 1367.91,583.47 1368.89,583.28 1369.87,583.10 1370.85,582.91 1371.83,582.73 1372.82,582.55 1373.80,582.37 1374.78,582.20 1375.76,582.02 1376.74,581.85 1377.72,581.69 1378.71,581.52 1379.69,581.36 1380.67,581.20 1381.65,581.04 1382.63,580.89 1383.61,580.74 1384.60,580.59 1385.58,580.45 1386.56,580.31 1387.54,580.19 1388.52,580.08 1389.50,579.97 1390.49,579.88 1391.47,579.79 1392.45,579.71 1393.43,579.64 1394.41,579.58 1395.39,579.53 1396.38,579.48 1397.36,579.44 1398.34,579.40 1399.32,579.37 1400.30,579.34 1401.29,579.32 1402.27,579.30 1403.25,579.29 1404.23,579.28 1405.21,579.27 1406.19,579.27 1407.18,579.27 1408.16,579.27 1409.14,579.27 1410.12,579.27 1411.10,579.28 1412.08,579.28 1413.07,579.28 1414.05,579.29 1415.03,579.29 1416.01,579.29 1416.99,579.29 1417.97,579.29 1418.96,579.28 1419.94,579.27 1420.92,579.26 1421.90,579.25 1422.88,579.23 1423.86,579.20 1424.85,579.18 1425.83,579.14 1426.81,579.10 1427.79,579.07 1428.77,579.03 1429.75,578.98 1430.74,578.94 1431.72,578.90 1432.70,578.86 1433.68,578.81 1434.66,578.77 1435.64,578.73 1436.63,578.68 1437.61,578.64 1438.59,578.59 1439.57,578.54 1440.55,578.50 1441.53,578.45 1442.52,578.41 1443.50,578.36 1444.48,578.31 1445.46,578.27 1446.44,578.22 1447.42,578.18 1448.41,578.13 1449.39,578.08 1450.37,578.04 1451.35,577.99 1452.33,577.95 1453.31,577.90 1454.30,577.86 1455.28,577.81 1456.26,577.77 1457.24,577.73 1458.22,577.69 1459.20,577.65 1460.19,577.60 1461.17,577.56 1462.15,577.53 1463.13,577.49 1464.11,577.45 1465.09,577.41 1466.08,577.38 1467.06,577.34 1468.04,577.31 1469.02,577.28 1470.00,577.25 1470.98,577.22 1471.97,577.19 1472.95,577.16 1473.93,577.13 1474.91,577.11 1475.89,577.08 1476.88,577.05 1477.86,577.03 1478.84,577.00 1479.82,576.98 1480.80,576.95 1481.78,576.93 1482.77,576.90 1483.75,576.88 1484.73,576.86 1485.71,576.84 1486.69,576.82 1487.67,576.80 1488.66,576.78 1489.64,576.76 1490.62,576.74 1491.60,576.72 1492.58,576.70 1493.56,576.69 1494.55,576.67 1495.53,576.66 1496.51,576.65 1497.49,576.63 1498.47,576.62 1499.45,576.61 1500.44,576.60 1501.42,576.59 1502.40,576.59 1503.38,576.58 1504.36,576.58 1505.34,576.57 1506.33,576.57 1507.31,576.57 1508.29,576.57 1509.27,576.57 1510.25,576.57 1511.23,576.58 1512.22,576.58 1513.20,576.59 1514.18,576.59 1515.16,576.60 1516.14,576.61 1517.12,576.63 1518.11,576.64 1519.09,576.66 1520.07,576.67 1521.05,576.69 1522.03,576.72 1523.01,576.74 1524.00,576.77 1524.98,576.79 1525.96,576.82 1526.94,576.86 1527.92,576.89 1528.90,576.92 1529.89,576.96 1530.87,577.00 1531.85,577.04 1532.83,577.08 1533.81,577.12 1534.79,577.16 1535.78,577.21 1536.76,577.25 1537.74,577.30 1538.72,577.35 1539.70,577.40 1540.68,577.45 1541.67,577.50 1542.65,577.55 1543.63,577.60 1544.61,577.66 1545.59,577.71 1546.57,577.77 1547.56,577.83 1548.54,577.88 1549.52,577.94 1550.50,578.00 1551.48,578.06 1552.47,578.12 1553.45,578.18 1554.43,578.24 1555.41,578.30 1556.39,578.36 1557.37,578.42 1558.36,578.48 1559.34,578.54 1560.32,578.60 1561.30,578.67 1562.28,578.73 1563.26,578.79 1564.25,578.85 1565.23,578.92 1566.21,578.99 1567.19,579.05 1568.17,579.12 1569.15,579.19 1570.14,579.26 1571.12,579.33 1572.10,579.40 1573.08,579.47 1574.06,579.54 1575.04,579.62 1576.03,579.69 1577.01,579.77 1577.99,579.84 1578.97,579.92 1579.95,580.00 1580.93,580.08 1581.92,580.16 1582.90,580.24 1583.88,580.32 1584.86,580.40 1585.84,580.48 1586.82,580.56 1587.81,580.65 1588.79,580.73 1589.77,580.81 1590.75,580.90 1591.73,580.99 1592.71,581.07 1593.70,581.16 1594.68,581.25 1595.66,581.33 1596.64,581.42 1597.62,581.51 1598.60,581.60 1599.59,581.69 1600.57,581.78 1601.55,581.88 1602.53,581.97 1603.51,582.06 1604.49,582.15 1605.48,582.25 1606.46,582.34 1607.44,582.44 1608.42,582.53 1609.40,582.63 1610.38,582.72 1611.37,582.82 1612.35,582.92 1613.33,583.02 1614.31,583.12 1615.29,583.22 1616.27,583.32 1617.26,583.43 1618.24,583.53 1619.22,583.64 1620.20,583.74 1621.18,583.85 1622.16,583.96 1623.15,584.06 1624.13,584.17 1625.11,584.28 1626.09,584.39 1627.07,584.50 1628.06,584.61 1629.04,584.72 1630.02,584.84 1631.00,584.95 1631.98,585.06 1632.96,585.17 1633.95,585.29 1634.93,585.40 1635.91,585.52 1636.89,585.63 1637.87,585.74 1638.85,585.86 1639.84,585.97 1640.82,586.09 1641.80,586.20 1642.78,586.32 1643.76,586.44 1644.74,586.55 1645.73,586.67 1646.71,586.78 1647.69,586.90 1648.67,587.01 1649.65,587.13 1650.63,587.24 1651.62,587.36 1652.60,587.47 1653.58,587.59 1654.56,587.72 1655.54,587.85 1656.52,587.99 1657.51,588.13 1658.49,588.28 1659.47,588.44 1660.45,588.60 1661.43,588.76 1662.41,588.93 1663.40,589.10 1664.38,589.27 1665.36,589.45 1666.34,589.63 1667.32,589.80 1668.30,589.98 1669.29,590.16 1670.27,590.34 1671.25,590.52 1672.23,590.70 1673.21,590.87 1674.19,591.05 1675.18,591.22 1676.16,591.39 1677.14,591.55 1678.12,591.71 1679.10,591.87 1680.08,592.02 1681.07,592.17 1682.05,592.31 1683.03,592.44 1684.01,592.57 1684.99,592.69 1685.97,592.80 1686.96,592.91 1687.94,593.00 1688.92,593.09 1689.90,593.16 1690.88,593.23 1691.86,593.29 1692.85,593.33 1693.83,593.37 1694.81,593.39 1695.79,593.40 1696.77,593.39 1697.75,593.37 1698.74,593.34 1699.72,593.30 1700.70,593.24" fill="none" stroke="#0072BD" stroke-width="5.4" stroke-linejoin="round" stroke-dasharray="22 23" stroke-dashoffset="-1" clip-path="url(#clipD)"/>
<polyline points="1014.50,652.14 1015.48,651.95 1016.46,651.77 1017.45,651.58 1018.43,651.40 1019.41,651.21 1020.39,651.03 1021.37,650.84 1022.35,650.66 1023.34,650.47 1024.32,650.28 1025.30,650.10 1026.28,649.91 1027.26,649.73 1028.24,649.54 1029.23,649.36 1030.21,649.17 1031.19,648.99 1032.17,648.80 1033.15,648.62 1034.13,648.43 1035.12,648.25 1036.10,648.06 1037.08,647.88 1038.06,647.69 1039.04,647.51 1040.02,647.32 1041.01,647.13 1041.99,646.95 1042.97,646.76 1043.95,646.58 1044.93,646.39 1045.91,646.21 1046.90,646.02 1047.88,645.84 1048.86,645.65 1049.84,645.47 1050.82,645.28 1051.80,645.10 1052.79,644.91 1053.77,644.73 1054.75,644.54 1055.73,644.36 1056.71,644.17 1057.69,643.99 1058.68,643.80 1059.66,643.62 1060.64,643.43 1061.62,643.25 1062.60,643.07 1063.58,642.88 1064.57,642.70 1065.55,642.51 1066.53,642.33 1067.51,642.14 1068.49,641.96 1069.47,641.77 1070.46,641.59 1071.44,641.40 1072.42,641.22 1073.40,641.04 1074.38,640.85 1075.36,640.67 1076.35,640.48 1077.33,640.30 1078.31,640.11 1079.29,639.93 1080.27,639.75 1081.25,639.56 1082.24,639.38 1083.22,639.19 1084.20,639.01 1085.18,638.83 1086.16,638.64 1087.14,638.46 1088.13,638.27 1089.11,638.09 1090.09,637.91 1091.07,637.72 1092.05,637.54 1093.04,637.36 1094.02,637.17 1095.00,636.99 1095.98,636.81 1096.96,636.62 1097.94,636.44 1098.93,636.26 1099.91,636.07 1100.89,635.89 1101.87,635.71 1102.85,635.52 1103.83,635.34 1104.82,635.16 1105.80,634.98 1106.78,634.79 1107.76,634.61 1108.74,634.43 1109.72,634.24 1110.71,634.06 1111.69,633.88 1112.67,633.70 1113.65,633.51 1114.63,633.33 1115.61,633.15 1116.60,632.97 1117.58,632.79 1118.56,632.60 1119.54,632.42 1120.52,632.24 1121.50,632.06 1122.49,631.88 1123.47,631.69 1124.45,631.51 1125.43,631.33 1126.41,631.15 1127.39,630.97 1128.38,630.79 1129.36,630.60 1130.34,630.42 1131.32,630.24 1132.30,630.06 1133.28,629.88 1134.27,629.70 1135.25,629.52 1136.23,629.34 1137.21,629.16 1138.19,628.98 1139.17,628.79 1140.16,628.61 1141.14,628.43 1142.12,628.25 1143.10,628.07 1144.08,627.89 1145.06,627.71 1146.05,627.53 1147.03,627.35 1148.01,627.17 1148.99,626.99 1149.97,626.81 1150.95,626.63 1151.94,626.45 1152.92,626.27 1153.90,626.09 1154.88,625.91 1155.86,625.74 1156.84,625.56 1157.83,625.38 1158.81,625.20 1159.79,625.02 1160.77,624.84 1161.75,624.66 1162.73,624.48 1163.72,624.30 1164.70,624.13 1165.68,623.95 1166.66,623.77 1167.64,623.59 1168.63,623.41 1169.61,623.23 1170.59,623.06 1171.57,622.88 1172.55,622.70 1173.53,622.52 1174.52,622.35 1175.50,622.17 1176.48,621.99 1177.46,621.81 1178.44,621.64 1179.42,621.46 1180.41,621.28 1181.39,621.11 1182.37,620.93 1183.35,620.75 1184.33,620.58 1185.31,620.40 1186.30,620.22 1187.28,620.05 1188.26,619.87 1189.24,619.69 1190.22,619.52 1191.20,619.34 1192.19,619.17 1193.17,618.99 1194.15,618.82 1195.13,618.64 1196.11,618.46 1197.09,618.29 1198.08,618.11 1199.06,617.94 1200.04,617.76 1201.02,617.59 1202.00,617.42 1202.98,617.24 1203.97,617.07 1204.95,616.89 1205.93,616.72 1206.91,616.54 1207.89,616.37 1208.87,616.20 1209.86,616.02 1210.84,615.85 1211.82,615.68 1212.80,615.50 1213.78,615.33 1214.76,615.16 1215.75,614.98 1216.73,614.81 1217.71,614.64 1218.69,614.46 1219.67,614.29 1220.65,614.12 1221.64,613.95 1222.62,613.77 1223.60,613.60 1224.58,613.43 1225.56,613.26 1226.54,613.09 1227.53,612.92 1228.51,612.74 1229.49,612.57 1230.47,612.40 1231.45,612.23 1232.43,612.06 1233.42,611.89 1234.40,611.72 1235.38,611.55 1236.36,611.38 1237.34,611.21 1238.32,611.04 1239.31,610.87 1240.29,610.70 1241.27,610.53 1242.25,610.36 1243.23,610.19 1244.22,610.02 1245.20,609.85 1246.18,609.68 1247.16,609.51 1248.14,609.34 1249.12,609.17 1250.11,609.01 1251.09,608.84 1252.07,608.67 1253.05,608.50 1254.03,608.33 1255.01,608.17 1256.00,608.00 1256.98,607.83 1257.96,607.66 1258.94,607.50 1259.92,607.33 1260.90,607.16 1261.89,606.99 1262.87,606.83 1263.85,606.66 1264.83,606.50 1265.81,606.33 1266.79,606.16 1267.78,606.00 1268.76,605.83 1269.74,605.67 1270.72,605.50 1271.70,605.34 1272.68,605.17 1273.67,605.00 1274.65,604.84 1275.63,604.68 1276.61,604.51 1277.59,604.35 1278.57,604.18 1279.56,604.02 1280.54,603.85 1281.52,603.69 1282.50,603.53 1283.48,603.36 1284.46,603.20 1285.45,603.04 1286.43,602.87 1287.41,602.71 1288.39,602.55 1289.37,602.39 1290.35,602.22 1291.34,602.06 1292.32,601.90 1293.30,601.74 1294.28,601.58 1295.26,601.41 1296.24,601.25 1297.23,601.09 1298.21,600.93 1299.19,600.77 1300.17,600.61 1301.15,600.45 1302.13,600.29 1303.12,600.13 1304.10,599.97 1305.08,599.81 1306.06,599.65 1307.04,599.49 1308.02,599.33 1309.01,599.17 1309.99,599.01 1310.97,598.85 1311.95,598.69 1312.93,598.54 1313.91,598.38 1314.90,598.22 1315.88,598.06 1316.86,597.90 1317.84,597.75 1318.82,597.59 1319.81,597.43 1320.79,597.27 1321.77,597.12 1322.75,596.96 1323.73,596.80 1324.71,596.65 1325.70,596.49 1326.68,596.32 1327.66,596.16 1328.64,596.00 1329.62,595.83 1330.60,595.66 1331.59,595.49 1332.57,595.32 1333.55,595.15 1334.53,594.98 1335.51,594.81 1336.49,594.63 1337.48,594.46 1338.46,594.28 1339.44,594.10 1340.42,593.92 1341.40,593.74 1342.38,593.56 1343.37,593.37 1344.35,593.19 1345.33,593.00 1346.31,592.82 1347.29,592.63 1348.27,592.45 1349.26,592.26 1350.24,592.07 1351.22,591.88 1352.20,591.69 1353.18,591.50 1354.16,591.31 1355.15,591.11 1356.13,590.92 1357.11,590.73 1358.09,590.53 1359.07,590.34 1360.05,590.14 1361.04,589.95 1362.02,589.75 1363.00,589.56 1363.98,589.36 1364.96,589.17 1365.94,588.97 1366.93,588.77 1367.91,588.58 1368.89,588.38 1369.87,588.18 1370.85,587.99 1371.83,587.79 1372.82,587.59 1373.80,587.40 1374.78,587.20 1375.76,587.00 1376.74,586.79 1377.72,586.57 1378.71,586.35 1379.69,586.12 1380.67,585.88 1381.65,585.64 1382.63,585.39 1383.61,585.14 1384.60,584.88 1385.58,584.62 1386.56,584.35 1387.54,584.08 1388.52,583.81 1389.50,583.53 1390.49,583.25 1391.47,582.97 1392.45,582.68 1393.43,582.40 1394.41,582.11 1395.39,581.83 1396.38,581.54 1397.36,581.25 1398.34,580.97 1399.32,580.68 1400.30,580.40 1401.29,580.12 1402.27,579.84 1403.25,579.56 1404.23,579.29 1405.21,579.02 1406.19,578.75 1407.18,578.48 1408.16,578.22 1409.14,577.97 1410.12,577.72 1411.10,577.48 1412.08,577.24 1413.07,577.01 1414.05,576.78 1415.03,576.56 1416.01,576.35 1416.99,576.15 1417.97,575.96 1418.96,575.77 1419.94,575.59 1420.92,575.43 1421.90,575.27 1422.88,575.12 1423.86,574.98 1424.85,574.85 1425.83,574.72 1426.81,574.60 1427.79,574.48 1428.77,574.36 1429.75,574.24 1430.74,574.13 1431.72,574.03 1432.70,573.92 1433.68,573.82 1434.66,573.72 1435.64,573.62 1436.63,573.53 1437.61,573.44 1438.59,573.35 1439.57,573.27 1440.55,573.18 1441.53,573.10 1442.52,573.03 1443.50,572.95 1444.48,572.88 1445.46,572.81 1446.44,572.74 1447.42,572.67 1448.41,572.60 1449.39,572.54 1450.37,572.47 1451.35,572.41 1452.33,572.35 1453.31,572.29 1454.30,572.24 1455.28,572.18 1456.26,572.13 1457.24,572.07 1458.22,572.02 1459.20,571.97 1460.19,571.91 1461.17,571.86 1462.15,571.81 1463.13,571.76 1464.11,571.71 1465.09,571.66 1466.08,571.61 1467.06,571.57 1468.04,571.52 1469.02,571.47 1470.00,571.43 1470.98,571.38 1471.97,571.35 1472.95,571.31 1473.93,571.28 1474.91,571.25 1475.89,571.22 1476.88,571.20 1477.86,571.18 1478.84,571.16 1479.82,571.15 1480.80,571.14 1481.78,571.13 1482.77,571.12 1483.75,571.12 1484.73,571.12 1485.71,571.13 1486.69,571.13 1487.67,571.14 1488.66,571.15 1489.64,571.17 1490.62,571.18 1491.60,571.20 1492.58,571.22 1493.56,571.25 1494.55,571.28 1495.53,571.31 1496.51,571.34 1497.49,571.37 1498.47,571.41 1499.45,571.45 1500.44,571.49 1501.42,571.54 1502.40,571.59 1503.38,571.64 1504.36,571.69 1505.34,571.74 1506.33,571.80 1507.31,571.86 1508.29,571.92 1509.27,571.99 1510.25,572.05 1511.23,572.12 1512.22,572.19 1513.20,572.27 1514.18,572.34 1515.16,572.42 1516.14,572.51 1517.12,572.61 1518.11,572.73 1519.09,572.85 1520.07,572.99 1521.05,573.13 1522.03,573.29 1523.01,573.45 1524.00,573.62 1524.98,573.80 1525.96,573.99 1526.94,574.19 1527.92,574.39 1528.90,574.60 1529.89,574.81 1530.87,575.03 1531.85,575.26 1532.83,575.49 1533.81,575.72 1534.79,575.96 1535.78,576.20 1536.76,576.44 1537.74,576.68 1538.72,576.93 1539.70,577.18 1540.68,577.42 1541.67,577.67 1542.65,577.92 1543.63,578.17 1544.61,578.41 1545.59,578.66 1546.57,578.90 1547.56,579.14 1548.54,579.37 1549.52,579.61 1550.50,579.83 1551.48,580.06 1552.47,580.28 1553.45,580.49 1554.43,580.70 1555.41,580.90 1556.39,581.09 1557.37,581.28 1558.36,581.46 1559.34,581.63 1560.32,581.80 1561.30,581.96 1562.28,582.12 1563.26,582.28 1564.25,582.43 1565.23,582.59 1566.21,582.74 1567.19,582.89 1568.17,583.04 1569.15,583.18 1570.14,583.33 1571.12,583.47 1572.10,583.61 1573.08,583.75 1574.06,583.89 1575.04,584.03 1576.03,584.16 1577.01,584.30 1577.99,584.43 1578.97,584.57 1579.95,584.70 1580.93,584.83 1581.92,584.96 1582.90,585.09 1583.88,585.23 1584.86,585.36 1585.84,585.49 1586.82,585.62 1587.81,585.75 1588.79,585.88 1589.77,586.01 1590.75,586.15 1591.73,586.28 1592.71,586.41 1593.70,586.55 1594.68,586.68 1595.66,586.82 1596.64,586.95 1597.62,587.09 1598.60,587.23 1599.59,587.37 1600.57,587.52 1601.55,587.66 1602.53,587.80 1603.51,587.95 1604.49,588.10 1605.48,588.24 1606.46,588.38 1607.44,588.52 1608.42,588.65 1609.40,588.78 1610.38,588.91 1611.37,589.04 1612.35,589.16 1613.33,589.28 1614.31,589.40 1615.29,589.52 1616.27,589.64 1617.26,589.76 1618.24,589.87 1619.22,589.99 1620.20,590.11 1621.18,590.23 1622.16,590.35 1623.15,590.48 1624.13,590.60 1625.11,590.73 1626.09,590.86 1627.07,591.00 1628.06,591.14 1629.04,591.28 1630.02,591.42 1631.00,591.57 1631.98,591.73 1632.96,591.89 1633.95,592.06 1634.93,592.23 1635.91,592.41 1636.89,592.59 1637.87,592.78 1638.85,592.98 1639.84,593.19 1640.82,593.40 1641.80,593.63 1642.78,593.86 1643.76,594.10 1644.74,594.35 1645.73,594.61 1646.71,594.88 1647.69,595.16 1648.67,595.45 1649.65,595.74 1650.63,596.06 1651.62,596.38 1652.60,596.72 1653.58,597.09 1654.56,597.47 1655.54,597.87 1656.52,598.30 1657.51,598.76 1658.49,599.24 1659.47,599.75 1660.45,600.29 1661.43,600.87 1662.41,601.49 1663.40,602.14 1664.38,602.83 1665.36,603.56 1666.34,604.33 1667.32,605.27 1668.30,606.48 1669.29,607.93 1670.27,609.57 1671.25,611.37 1672.23,613.28 1673.21,615.26 1674.19,617.28 1675.18,619.29 1676.16,621.25 1677.14,623.12 1678.12,624.87 1679.10,626.46 1680.08,627.98 1681.07,629.48 1682.05,630.96 1683.03,632.41 1684.01,633.85 1684.99,635.26 1685.97,636.66 1686.96,638.05 1687.94,639.42 1688.92,640.79 1689.90,642.14 1690.88,643.49 1691.86,644.84 1692.85,646.19 1693.83,647.54 1694.81,648.89 1695.79,650.25 1696.77,651.61 1697.75,652.99 1698.74,654.37 1699.72,655.77 1700.70,657.19" fill="none" stroke="#D95319" stroke-width="5.4" stroke-linejoin="round" stroke-dasharray="22 23" stroke-dashoffset="1" clip-path="url(#clipD)"/>
<polyline points="1014.50,652.14 1015.48,651.95 1016.46,651.77 1017.45,651.58 1018.43,651.40 1019.41,651.21 1020.39,651.03 1021.37,650.84 1022.35,650.66 1023.34,650.47 1024.32,650.28 1025.30,650.10 1026.28,649.91 1027.26,649.73 1028.24,649.54 1029.23,649.36 1030.21,649.17 1031.19,648.99 1032.17,648.80 1033.15,648.62 1034.13,648.43 1035.12,648.25 1036.10,648.06 1037.08,647.88 1038.06,647.69 1039.04,647.51 1040.02,647.32 1041.01,647.13 1041.99,646.95 1042.97,646.76 1043.95,646.58 1044.93,646.39 1045.91,646.21 1046.90,646.02 1047.88,645.84 1048.86,645.65 1049.84,645.47 1050.82,645.28 1051.80,645.10 1052.79,644.91 1053.77,644.73 1054.75,644.54 1055.73,644.36 1056.71,644.17 1057.69,643.99 1058.68,643.80 1059.66,643.62 1060.64,643.43 1061.62,643.25 1062.60,643.07 1063.58,642.88 1064.57,642.70 1065.55,642.51 1066.53,642.33 1067.51,642.14 1068.49,641.96 1069.47,641.77 1070.46,641.59 1071.44,641.40 1072.42,641.22 1073.40,641.04 1074.38,640.85 1075.36,640.67 1076.35,640.48 1077.33,640.30 1078.31,640.11 1079.29,639.93 1080.27,639.75 1081.25,639.56 1082.24,639.38 1083.22,639.19 1084.20,639.01 1085.18,638.83 1086.16,638.64 1087.14,638.46 1088.13,638.27 1089.11,638.09 1090.09,637.91 1091.07,637.72 1092.05,637.54 1093.04,637.36 1094.02,637.17 1095.00,636.99 1095.98,636.81 1096.96,636.62 1097.94,636.44 1098.93,636.26 1099.91,636.07 1100.89,635.89 1101.87,635.71 1102.85,635.52 1103.83,635.34 1104.82,635.16 1105.80,634.98 1106.78,634.79 1107.76,634.61 1108.74,634.43 1109.72,634.24 1110.71,634.06 1111.69,633.88 1112.67,633.70 1113.65,633.51 1114.63,633.33 1115.61,633.15 1116.60,632.97 1117.58,632.79 1118.56,632.60 1119.54,632.42 1120.52,632.24 1121.50,632.06 1122.49,631.88 1123.47,631.69 1124.45,631.51 1125.43,631.33 1126.41,631.15 1127.39,630.97 1128.38,630.79 1129.36,630.60 1130.34,630.42 1131.32,630.24 1132.30,630.06 1133.28,629.88 1134.27,629.70 1135.25,629.52 1136.23,629.34 1137.21,629.16 1138.19,628.98 1139.17,628.79 1140.16,628.61 1141.14,628.43 1142.12,628.25 1143.10,628.07 1144.08,627.89 1145.06,627.71 1146.05,627.53 1147.03,627.35 1148.01,627.17 1148.99,626.99 1149.97,626.81 1150.95,626.63 1151.94,626.45 1152.92,626.27 1153.90,626.09 1154.88,625.91 1155.86,625.74 1156.84,625.56 1157.83,625.38 1158.81,625.20 1159.79,625.02 1160.77,624.84 1161.75,624.66 1162.73,624.48 1163.72,624.30 1164.70,624.13 1165.68,623.95 1166.66,623.77 1167.64,623.59 1168.63,623.41 1169.61,623.23 1170.59,623.06 1171.57,622.88 1172.55,622.70 1173.53,622.52 1174.52,622.35 1175.50,622.17 1176.48,621.99 1177.46,621.81 1178.44,621.64 1179.42,621.46 1180.41,621.28 1181.39,621.11 1182.37,620.93 1183.35,620.75 1184.33,620.58 1185.31,620.40 1186.30,620.22 1187.28,620.05 1188.26,619.87 1189.24,619.69 1190.22,619.52 1191.20,619.34 1192.19,619.17 1193.17,618.99 1194.15,618.82 1195.13,618.64 1196.11,618.46 1197.09,618.29 1198.08,618.11 1199.06,617.94 1200.04,617.76 1201.02,617.59 1202.00,617.42 1202.98,617.24 1203.97,617.07 1204.95,616.89 1205.93,616.72 1206.91,616.54 1207.89,616.37 1208.87,616.20 1209.86,616.02 1210.84,615.85 1211.82,615.68 1212.80,615.50 1213.78,615.33 1214.76,615.16 1215.75,614.98 1216.73,614.81 1217.71,614.64 1218.69,614.46 1219.67,614.29 1220.65,614.12 1221.64,613.95 1222.62,613.77 1223.60,613.60 1224.58,613.43 1225.56,613.25 1226.54,613.08 1227.53,612.91 1228.51,612.73 1229.49,612.56 1230.47,612.38 1231.45,612.21 1232.43,612.03 1233.42,611.86 1234.40,611.68 1235.38,611.51 1236.36,611.33 1237.34,611.16 1238.32,610.98 1239.31,610.81 1240.29,610.63 1241.27,610.45 1242.25,610.28 1243.23,610.10 1244.22,609.92 1245.20,609.75 1246.18,609.57 1247.16,609.39 1248.14,609.21 1249.12,609.03 1250.11,608.86 1251.09,608.68 1252.07,608.50 1253.05,608.32 1254.03,608.14 1255.01,607.96 1256.00,607.78 1256.98,607.60 1257.96,607.43 1258.94,607.25 1259.92,607.07 1260.90,606.89 1261.89,606.71 1262.87,606.53 1263.85,606.34 1264.83,606.16 1265.81,605.98 1266.79,605.80 1267.78,605.62 1268.76,605.44 1269.74,605.26 1270.72,605.08 1271.70,604.90 1272.68,604.71 1273.67,604.53 1274.65,604.35 1275.63,604.17 1276.61,603.98 1277.59,603.80 1278.57,603.62 1279.56,603.44 1280.54,603.25 1281.52,603.07 1282.50,602.89 1283.48,602.70 1284.46,602.52 1285.45,602.34 1286.43,602.15 1287.41,601.97 1288.39,601.78 1289.37,601.60 1290.35,601.41 1291.34,601.23 1292.32,601.05 1293.30,600.86 1294.28,600.68 1295.26,600.49 1296.24,600.30 1297.23,600.12 1298.21,599.93 1299.19,599.75 1300.17,599.56 1301.15,599.38 1302.13,599.19 1303.12,599.00 1304.10,598.82 1305.08,598.63 1306.06,598.45 1307.04,598.26 1308.02,598.07 1309.01,597.89 1309.99,597.70 1310.97,597.51 1311.95,597.32 1312.93,597.14 1313.91,596.95 1314.90,596.76 1315.88,596.57 1316.86,596.39 1317.84,596.20 1318.82,596.01 1319.81,595.82 1320.79,595.63 1321.77,595.45 1322.75,595.26 1323.73,595.07 1324.71,594.87 1325.70,594.66 1326.68,594.44 1327.66,594.20 1328.64,593.96 1329.62,593.71 1330.60,593.45 1331.59,593.18 1332.57,592.90 1333.55,592.62 1334.53,592.33 1335.51,592.03 1336.49,591.73 1337.48,591.43 1338.46,591.12 1339.44,590.80 1340.42,590.48 1341.40,590.16 1342.38,589.84 1343.37,589.51 1344.35,589.19 1345.33,588.86 1346.31,588.54 1347.29,588.21 1348.27,587.88 1349.26,587.56 1350.24,587.24 1351.22,586.92 1352.20,586.61 1353.18,586.29 1354.16,585.99 1355.15,585.68 1356.13,585.39 1357.11,585.10 1358.09,584.81 1359.07,584.53 1360.05,584.26 1361.04,584.00 1362.02,583.75 1363.00,583.50 1363.98,583.27 1364.96,583.04 1365.94,582.83 1366.93,582.63 1367.91,582.44 1368.89,582.26 1369.87,582.10 1370.85,581.95 1371.83,581.83 1372.82,581.74 1373.80,581.69 1374.78,581.68 1375.76,581.70 1376.74,581.75 1377.72,581.82 1378.71,581.93 1379.69,582.05 1380.67,582.21 1381.65,582.38 1382.63,582.57 1383.61,582.79 1384.60,583.02 1385.58,583.26 1386.56,583.52 1387.54,583.79 1388.52,584.07 1389.50,584.35 1390.49,584.65 1391.47,584.95 1392.45,585.25 1393.43,585.55 1394.41,585.86 1395.39,586.16 1396.38,586.46 1397.36,586.75 1398.34,587.04 1399.32,587.32 1400.30,587.59 1401.29,587.85 1402.27,588.09 1403.25,588.32 1404.23,588.53 1405.21,588.72 1406.19,588.89 1407.18,589.05 1408.16,589.17 1409.14,589.27 1410.12,589.35 1411.10,589.40 1412.08,589.41 1413.07,589.40 1414.05,589.35 1415.03,589.26 1416.01,589.14 1416.99,588.96 1417.97,588.71 1418.96,588.40 1419.94,588.02 1420.92,587.58 1421.90,587.09 1422.88,586.54 1423.86,585.95 1424.85,585.30 1425.83,584.62 1426.81,583.89 1427.79,583.13 1428.77,582.33 1429.75,581.50 1430.74,580.64 1431.72,579.76 1432.70,578.86 1433.68,577.94 1434.66,577.00 1435.64,576.06 1436.63,575.10 1437.61,574.15 1438.59,573.19 1439.57,572.23 1440.55,571.27 1441.53,570.32 1442.52,569.39 1443.50,568.47 1444.48,567.56 1445.46,566.68 1446.44,565.82 1447.42,564.99 1448.41,564.19 1449.39,563.42 1450.37,562.68 1451.35,561.99 1452.33,561.34 1453.31,560.74 1454.30,560.19 1455.28,559.69 1456.26,559.24 1457.24,558.86 1458.22,558.54 1459.20,558.28 1460.19,558.09 1461.17,557.97 1462.15,557.89 1463.13,557.85 1464.11,557.85 1465.09,557.89 1466.08,557.96 1467.06,558.06 1468.04,558.20 1469.02,558.37 1470.00,558.56 1470.98,558.78 1471.97,559.03 1472.95,559.30 1473.93,559.59 1474.91,559.90 1475.89,560.23 1476.88,560.58 1477.86,560.94 1478.84,561.32 1479.82,561.71 1480.80,562.10 1481.78,562.51 1482.77,562.92 1483.75,563.34 1484.73,563.76 1485.71,564.19 1486.69,564.61 1487.67,565.03 1488.66,565.45 1489.64,565.86 1490.62,566.29 1491.60,566.79 1492.58,567.36 1493.56,567.99 1494.55,568.67 1495.53,569.40 1496.51,570.15 1497.49,570.92 1498.47,571.71 1499.45,572.49 1500.44,573.26 1501.42,574.01 1502.40,574.73 1503.38,575.40 1504.36,576.02 1505.34,576.58 1506.33,577.06 1507.31,577.46 1508.29,577.78 1509.27,578.07 1510.25,578.37 1511.23,578.66 1512.22,578.95 1513.20,579.23 1514.18,579.50 1515.16,579.77 1516.14,580.02 1517.12,580.26 1518.11,580.49 1519.09,580.70 1520.07,580.90 1521.05,581.08 1522.03,581.24 1523.01,581.38 1524.00,581.50 1524.98,581.59 1525.96,581.66 1526.94,581.70 1527.92,581.71 1528.90,581.70 1529.89,581.65 1530.87,581.57 1531.85,581.44 1532.83,581.23 1533.81,580.94 1534.79,580.57 1535.78,580.15 1536.76,579.67 1537.74,579.16 1538.72,578.61 1539.70,578.05 1540.68,577.47 1541.67,576.89 1542.65,576.32 1543.63,575.77 1544.61,575.25 1545.59,574.76 1546.57,574.33 1547.56,573.95 1548.54,573.64 1549.52,573.41 1550.50,573.27 1551.48,573.18 1552.47,573.13 1553.45,573.10 1554.43,573.11 1555.41,573.14 1556.39,573.20 1557.37,573.28 1558.36,573.39 1559.34,573.52 1560.32,573.67 1561.30,573.85 1562.28,574.04 1563.26,574.26 1564.25,574.49 1565.23,574.74 1566.21,575.01 1567.19,575.29 1568.17,575.58 1569.15,575.89 1570.14,576.20 1571.12,576.53 1572.10,576.87 1573.08,577.22 1574.06,577.58 1575.04,577.96 1576.03,578.48 1577.01,579.12 1577.99,579.87 1578.97,580.72 1579.95,581.64 1580.93,582.63 1581.92,583.67 1582.90,584.74 1583.88,585.84 1584.86,586.93 1585.84,588.02 1586.82,589.09 1587.81,590.11 1588.79,591.08 1589.77,591.98 1590.75,592.81 1591.73,593.68 1592.71,594.59 1593.70,595.53 1594.68,596.50 1595.66,597.48 1596.64,598.48 1597.62,599.49 1598.60,600.50 1599.59,601.49 1600.57,602.48 1601.55,603.44 1602.53,604.37 1603.51,605.27 1604.49,606.12 1605.48,606.93 1606.46,607.68 1607.44,608.36 1608.42,608.98 1609.40,609.51 1610.38,609.97 1611.37,610.33 1612.35,610.60 1613.33,610.76 1614.31,610.81 1615.29,610.74 1616.27,610.58 1617.26,610.35 1618.24,610.04 1619.22,609.67 1620.20,609.24 1621.18,608.76 1622.16,608.23 1623.15,607.67 1624.13,607.09 1625.11,606.48 1626.09,605.85 1627.07,605.21 1628.06,604.58 1629.04,603.95 1630.02,603.33 1631.00,602.68 1631.98,601.94 1632.96,601.12 1633.95,600.24 1634.93,599.31 1635.91,598.35 1636.89,597.35 1637.87,596.35 1638.85,595.35 1639.84,594.36 1640.82,593.40 1641.80,592.48 1642.78,591.60 1643.76,590.79 1644.74,590.06 1645.73,589.41 1646.71,588.86 1647.69,588.34 1648.67,587.82 1649.65,587.30 1650.63,586.80 1651.62,586.32 1652.60,585.87 1653.58,585.46 1654.56,585.10 1655.54,584.80 1656.52,584.56 1657.51,584.39 1658.49,584.31 1659.47,584.37 1660.45,584.56 1661.43,584.88 1662.41,585.30 1663.40,585.81 1664.38,586.40 1665.36,587.06 1666.34,587.75 1667.32,588.48 1668.30,589.26 1669.29,590.27 1670.27,591.52 1671.25,592.99 1672.23,594.64 1673.21,596.46 1674.19,598.42 1675.18,600.51 1676.16,602.69 1677.14,604.95 1678.12,607.26 1679.10,609.60 1680.08,612.02 1681.07,614.74 1682.05,617.72 1683.03,620.90 1684.01,624.19 1684.99,627.54 1685.97,630.88 1686.96,634.21 1687.94,637.69 1688.92,641.27 1689.90,644.88 1690.88,648.44 1691.86,651.88 1692.85,655.16 1693.83,658.50 1694.81,661.85 1695.79,665.09 1696.77,668.11 1697.75,670.77 1698.74,672.97 1699.72,674.71 1700.70,676.10" fill="none" stroke="#EDB120" stroke-width="5.4" stroke-linejoin="round" stroke-dasharray="22 23" stroke-dashoffset="-1" clip-path="url(#clipD)"/>
<path d="M1083.12 821.3v-7M1083.12 478.6v7M1151.74 821.3v-7M1151.74 478.6v7M1220.36 821.3v-7M1220.36 478.6v7M1288.98 821.3v-7M1288.98 478.6v7M1357.60 821.3v-7M1357.60 478.6v7M1426.22 821.3v-7M1426.22 478.6v7M1494.84 821.3v-7M1494.84 478.6v7M1563.46 821.3v-7M1563.46 478.6v7M1632.08 821.3v-7M1632.08 478.6v7M1700.70 821.3v-7M1700.70 478.6v7M1016.6 821.30h7M1700.7 821.30h-7M1016.6 753.56h7M1700.7 753.56h-7M1016.6 684.80h7M1700.7 684.80h-7M1016.6 616.04h7M1700.7 616.04h-7M1016.6 547.28h7M1700.7 547.28h-7M1016.6 478.60h7M1700.7 478.60h-7" stroke="#3c3c3c" stroke-width="1.5" fill="none"/>
<rect x="1016.6" y="478.6" width="684.1" height="342.7" fill="none" stroke="#3c3c3c" stroke-width="1.5"/>
<text class="tk" x="1083.12" y="853.6" text-anchor="middle">1</text>
<text class="tk" x="1151.74" y="853.6" text-anchor="middle">2</text>
<text class="tk" x="1220.36" y="853.6" text-anchor="middle">3</text>
<text class="tk" x="1288.98" y="853.6" text-anchor="middle">4</text>
<text class="tk" x="1357.60" y="853.6" text-anchor="middle">5</text>
<text class="tk" x="1426.22" y="853.6" text-anchor="middle">6</text>
<text class="tk" x="1494.84" y="853.6" text-anchor="middle">7</text>
<text class="tk" x="1563.46" y="853.6" text-anchor="middle">8</text>
<text class="tk" x="1632.08" y="853.6" text-anchor="middle">9</text>
<text class="tk" x="1700.70" y="853.6" text-anchor="middle">10</text>
<text class="tk" x="1005.6" y="829.8" text-anchor="end">0</text>
<text class="tk" x="1005.6" y="762.1" text-anchor="end">0.002</text>
<text class="tk" x="1005.6" y="693.3" text-anchor="end">0.004</text>
<text class="tk" x="1005.6" y="624.5" text-anchor="end">0.006</text>
<text class="tk" x="1005.6" y="555.8" text-anchor="end">0.008</text>
<text class="tk" x="1005.6" y="487.1" text-anchor="end">0.01</text>
<text class="lb" x="386.3" y="443.0">Times [days]</text>
<text class="lb" x="1285.3" y="440.0">Times [days]</text>
<text class="lb" x="384.2" y="886.0">Times [days]</text>
<text class="lb" x="1285.3" y="885.0">Times [days]</text>
<text class="lb" transform="translate(31.6,199.6) rotate(-90)" text-anchor="middle">Λ(t) [m<tspan class="sup" dy="-14.3" dx="1">2</tspan><tspan dy="14.3" dx="0.5"> s</tspan><tspan class="sup" dy="-14.3" dx="1">-1</tspan><tspan dy="14.3">]</tspan></text>
<text class="lb" transform="translate(923.8,201.9) rotate(-90)" text-anchor="middle">Λ(t) [m<tspan class="sup" dy="-14.3" dx="1">2</tspan><tspan dy="14.3" dx="0.5"> s</tspan><tspan class="sup" dy="-14.3" dx="1">-1</tspan><tspan dy="14.3">]</tspan></text>
<text class="lb" transform="translate(28.2,647.5) rotate(-90)" text-anchor="middle">Λ(t) [m<tspan class="sup" dy="-14.3" dx="1">2</tspan><tspan dy="14.3" dx="0.5"> s</tspan><tspan class="sup" dy="-14.3" dx="1">-1</tspan><tspan dy="14.3">]</tspan></text>
<text class="lb" transform="translate(931.6,649.4) rotate(-90)" text-anchor="middle">Λ(t) [m<tspan class="sup" dy="-14.3" dx="1">2</tspan><tspan dy="14.3" dx="0.5"> s</tspan><tspan class="sup" dy="-14.3" dx="1">-1</tspan><tspan dy="14.3">]</tspan></text>
<text class="pl" x="144.4" y="331.0">(A)</text>
<text class="pl" x="1035.2" y="322.0">(B)</text>
<text class="pl" x="143.0" y="774.8">(C)</text>
<text class="pl" x="1036.3" y="775.8">(D)</text>
<text class="tk" x="114.8" y="24.6"><tspan class="tim" dy="1.6">×</tspan><tspan dy="-1.6">10</tspan><tspan class="sup2" dy="-11.5" dx="1.5">-3</tspan></text>
<rect x="163.7" y="31.5" width="600.4" height="43.0" fill="#fff" stroke="#3c3c3c" stroke-width="1.3"/>
<path d="M171.0 53.4h67.8" stroke="#000" stroke-width="3.4" fill="none"/>
<text class="lg" x="244.6" y="56.2">Pre(<tspan class="xi">ξ</tspan><tspan class="sub" dy="11.3" dx="1.5">1</tspan><tspan dy="-11.3" dx="1">=6)</tspan></text>
<path d="M351.5 53.4h22.4M396.9 53.4h22.4" stroke="#0072BD" stroke-width="5.4" fill="none"/>
<text class="lg" x="425.3" y="61.0">M=2</text>
<path d="M484.5 53.4h22.4M529.9 53.4h22.4" stroke="#D95319" stroke-width="5.4" fill="none"/>
<text class="lg" x="556.8" y="61.0">M=18</text>
<path d="M627.8 53.4h22.4M673.2 53.4h22.4" stroke="#EDB120" stroke-width="5.4" fill="none"/>
<text class="lg" x="701.0" y="61.0">M=28</text>
<rect x="1061.7" y="31.2" width="611.1" height="42.9" fill="#fff" stroke="#3c3c3c" stroke-width="1.3"/>
<path d="M1068.5 52.4h67.8" stroke="#000" stroke-width="3.4" fill="none"/>
<text class="lg" x="1141.7" y="54.9">Pre(<tspan class="xi">ξ</tspan><tspan class="sub" dy="11.3" dx="1.5">1</tspan><tspan dy="-11.3" dx="1">=12)</tspan></text>
<path d="M1260.2 52.4h22.4M1305.6 52.4h22.4" stroke="#0072BD" stroke-width="5.4" fill="none"/>
<text class="lg" x="1333.4" y="60.2">M=2</text>
<path d="M1393.1 52.4h22.4M1438.5 52.4h22.4" stroke="#D95319" stroke-width="5.4" fill="none"/>
<text class="lg" x="1465.7" y="60.2">M=18</text>
<path d="M1537.0 52.4h22.4M1582.4 52.4h22.4" stroke="#EDB120" stroke-width="5.4" fill="none"/>
<text class="lg" x="1610.2" y="60.2">M=28</text>
<rect x="302.8" y="649.6" width="335.1" height="68.7" fill="#fff" stroke="#3c3c3c" stroke-width="1.3"/>
<path d="M308.9 671.3h67.8" stroke="#000" stroke-width="3.4" fill="none"/>
<text class="lg" x="383.3" y="673.7">Pre(<tspan class="xi">ξ</tspan><tspan class="sub" dy="11.3" dx="1.5">1</tspan><tspan dy="-11.3" dx="1">=48)</tspan></text>
<path d="M501.4 671.3h22.4M546.8 671.3h22.4" stroke="#D95319" stroke-width="5.4" fill="none"/>
<text class="lg" x="575.0" y="678.4">M=18</text>
<path d="M308.9 702.7h22.4M354.3 702.7h22.4" stroke="#0072BD" stroke-width="5.4" fill="none"/>
<text class="lg" x="383.3" y="711.5">M=2</text>
<path d="M501.4 702.7h22.4M546.8 702.7h22.4" stroke="#EDB120" stroke-width="5.4" fill="none"/>
<text class="lg" x="575.0" y="711.5">M=28</text>
<rect x="1194.5" y="657.0" width="346.7" height="68.9" fill="#fff" stroke="#3c3c3c" stroke-width="1.3"/>
<path d="M1200.8 677.6h67.8" stroke="#000" stroke-width="3.4" fill="none"/>
<text class="lg" x="1275.4" y="681.8">Pre(<tspan class="xi">ξ</tspan><tspan class="sub" dy="11.3" dx="1.5">1</tspan><tspan dy="-11.3" dx="1">=120)</tspan></text>
<path d="M1404.6 677.6h22.4M1450.0 677.6h22.4" stroke="#D95319" stroke-width="5.4" fill="none"/>
<text class="lg" x="1478.2" y="687.3">M=18</text>
<path d="M1200.8 710.8h22.4M1246.2 710.8h22.4" stroke="#0072BD" stroke-width="5.4" fill="none"/>
<text class="lg" x="1275.4" y="718.2">M=2</text>
<path d="M1404.6 710.8h22.4M1450.0 710.8h22.4" stroke="#EDB120" stroke-width="5.4" fill="none"/>
<text class="lg" x="1478.2" y="718.2">M=28</text>
</svg>
</body></html>
